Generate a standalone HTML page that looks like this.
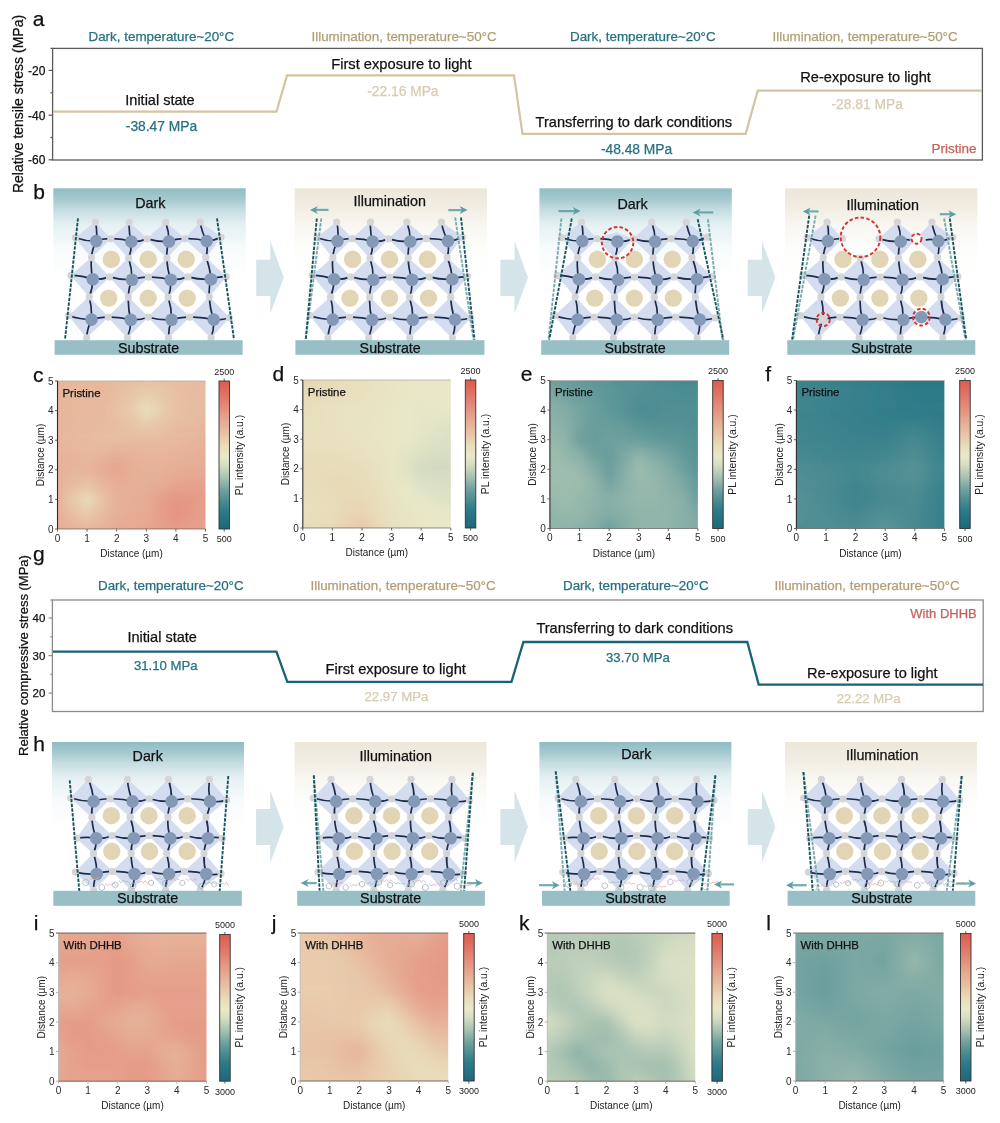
<!DOCTYPE html>
<html><head><meta charset="utf-8"><title>Figure</title>
<style>
html,body{margin:0;padding:0;background:#fff;}
body{width:1000px;height:1123px;overflow:hidden;}
svg{display:block;filter:blur(0.4px);font-family:"Liberation Sans",sans-serif;}
text.b{stroke:currentColor;stroke-width:0.25px;}
</style></head><body>
<svg width="1000" height="1123" viewBox="0 0 1000 1123">
<defs><linearGradient id="cbg" x1="0" y1="0" x2="0" y2="1"><stop offset="0" stop-color="#dc5c4e"/><stop offset="0.11" stop-color="#e17869"/><stop offset="0.21" stop-color="#e49682"/><stop offset="0.29" stop-color="#e6af96"/><stop offset="0.36" stop-color="#e8c3a5"/><stop offset="0.44" stop-color="#e8dcb9"/><stop offset="0.51" stop-color="#e8e8c8"/><stop offset="0.57" stop-color="#d7dec3"/><stop offset="0.665" stop-color="#a0beaf"/><stop offset="0.74" stop-color="#6ea09e"/><stop offset="0.81" stop-color="#4b8c91"/><stop offset="0.88" stop-color="#2d7a88"/><stop offset="0.92" stop-color="#267484"/><stop offset="1" stop-color="#1e677c"/></linearGradient><linearGradient id="gd" x1="0" y1="0" x2="0" y2="1"><stop offset="0" stop-color="#8fbcc3"/><stop offset="0.08" stop-color="#a9cbd1"/><stop offset="0.14" stop-color="#c4dde1"/><stop offset="0.24" stop-color="#e5f0f2"/><stop offset="0.4" stop-color="#f8fbfc"/><stop offset="0.6" stop-color="#ffffff"/></linearGradient><linearGradient id="gi" x1="0" y1="0" x2="0" y2="1"><stop offset="0" stop-color="#ece7d9"/><stop offset="0.12" stop-color="#f1ede3"/><stop offset="0.25" stop-color="#f9f7f2"/><stop offset="0.4" stop-color="#fdfdfb"/><stop offset="0.6" stop-color="#ffffff"/></linearGradient><filter id="hblur" x="-10%" y="-10%" width="120%" height="120%"><feGaussianBlur stdDeviation="2.2"/></filter><clipPath id="chmc"><rect x="57.5" y="381" width="148" height="148"/></clipPath><linearGradient id="hmc_0" gradientUnits="userSpaceOnUse" x1="57.5" x2="205.5"><stop offset="0" stop-color="#e7b59a"/><stop offset="0.1" stop-color="#e7b89c"/><stop offset="0.2" stop-color="#e7b89c"/><stop offset="0.3" stop-color="#e7b89c"/><stop offset="0.4" stop-color="#e7ba9f"/><stop offset="0.5" stop-color="#e7bda1"/><stop offset="0.6" stop-color="#e8c0a3"/><stop offset="0.7" stop-color="#e8c0a3"/><stop offset="0.8" stop-color="#e7bda1"/><stop offset="0.9" stop-color="#e7ba9f"/><stop offset="1" stop-color="#e7ba9f"/></linearGradient><linearGradient id="hmc_1" gradientUnits="userSpaceOnUse" x1="57.5" x2="205.5"><stop offset="0" stop-color="#e7b59a"/><stop offset="0.1" stop-color="#e7b89c"/><stop offset="0.2" stop-color="#e7b89c"/><stop offset="0.3" stop-color="#e7b89c"/><stop offset="0.4" stop-color="#e7ba9f"/><stop offset="0.5" stop-color="#e7bda1"/><stop offset="0.6" stop-color="#e8c0a3"/><stop offset="0.7" stop-color="#e8c0a3"/><stop offset="0.8" stop-color="#e7bda1"/><stop offset="0.9" stop-color="#e7ba9f"/><stop offset="1" stop-color="#e7ba9f"/></linearGradient><linearGradient id="hmc_2" gradientUnits="userSpaceOnUse" x1="57.5" x2="205.5"><stop offset="0" stop-color="#e7b59a"/><stop offset="0.1" stop-color="#e7b89c"/><stop offset="0.2" stop-color="#e7b89c"/><stop offset="0.3" stop-color="#e7b89c"/><stop offset="0.4" stop-color="#e7bb9f"/><stop offset="0.5" stop-color="#e8bfa2"/><stop offset="0.6" stop-color="#e8c3a5"/><stop offset="0.7" stop-color="#e8c2a4"/><stop offset="0.8" stop-color="#e7bea1"/><stop offset="0.9" stop-color="#e7bb9f"/><stop offset="1" stop-color="#e7ba9f"/></linearGradient><linearGradient id="hmc_3" gradientUnits="userSpaceOnUse" x1="57.5" x2="205.5"><stop offset="0" stop-color="#e7b59a"/><stop offset="0.1" stop-color="#e7b89c"/><stop offset="0.2" stop-color="#e7b89c"/><stop offset="0.3" stop-color="#e7b89c"/><stop offset="0.4" stop-color="#e7bca0"/><stop offset="0.5" stop-color="#e8c2a4"/><stop offset="0.6" stop-color="#e8c8a9"/><stop offset="0.7" stop-color="#e8c5a6"/><stop offset="0.8" stop-color="#e8bfa2"/><stop offset="0.9" stop-color="#e7bca0"/><stop offset="1" stop-color="#e7ba9f"/></linearGradient><linearGradient id="hmc_4" gradientUnits="userSpaceOnUse" x1="57.5" x2="205.5"><stop offset="0" stop-color="#e7b59a"/><stop offset="0.1" stop-color="#e7b89c"/><stop offset="0.2" stop-color="#e7b89c"/><stop offset="0.3" stop-color="#e7b89c"/><stop offset="0.4" stop-color="#e7bda0"/><stop offset="0.5" stop-color="#e8c5a6"/><stop offset="0.6" stop-color="#e8cdad"/><stop offset="0.7" stop-color="#e8c8a9"/><stop offset="0.8" stop-color="#e8c0a2"/><stop offset="0.9" stop-color="#e7bda0"/><stop offset="1" stop-color="#e7ba9f"/></linearGradient><linearGradient id="hmc_5" gradientUnits="userSpaceOnUse" x1="57.5" x2="205.5"><stop offset="0" stop-color="#e7b59a"/><stop offset="0.1" stop-color="#e7b89c"/><stop offset="0.2" stop-color="#e7b89c"/><stop offset="0.3" stop-color="#e7b89d"/><stop offset="0.4" stop-color="#e7bea1"/><stop offset="0.5" stop-color="#e8c7a8"/><stop offset="0.6" stop-color="#e8d2b1"/><stop offset="0.7" stop-color="#e8caab"/><stop offset="0.8" stop-color="#e8c0a3"/><stop offset="0.9" stop-color="#e7bda1"/><stop offset="1" stop-color="#e7ba9f"/></linearGradient><linearGradient id="hmc_6" gradientUnits="userSpaceOnUse" x1="57.5" x2="205.5"><stop offset="0" stop-color="#e7b59a"/><stop offset="0.1" stop-color="#e7b89c"/><stop offset="0.2" stop-color="#e7b89c"/><stop offset="0.3" stop-color="#e7b99e"/><stop offset="0.4" stop-color="#e8bfa2"/><stop offset="0.5" stop-color="#e8c9aa"/><stop offset="0.6" stop-color="#e8d7b5"/><stop offset="0.7" stop-color="#e8ccac"/><stop offset="0.8" stop-color="#e8c0a3"/><stop offset="0.9" stop-color="#e7bda1"/><stop offset="1" stop-color="#e7ba9f"/></linearGradient><linearGradient id="hmc_7" gradientUnits="userSpaceOnUse" x1="57.5" x2="205.5"><stop offset="0" stop-color="#e7b59a"/><stop offset="0.1" stop-color="#e7b89c"/><stop offset="0.2" stop-color="#e7b89c"/><stop offset="0.3" stop-color="#e7ba9e"/><stop offset="0.4" stop-color="#e8c0a2"/><stop offset="0.5" stop-color="#e8cbac"/><stop offset="0.6" stop-color="#e8dcb9"/><stop offset="0.7" stop-color="#e8ceae"/><stop offset="0.8" stop-color="#e8c0a3"/><stop offset="0.9" stop-color="#e7bda1"/><stop offset="1" stop-color="#e7ba9f"/></linearGradient><linearGradient id="hmc_8" gradientUnits="userSpaceOnUse" x1="57.5" x2="205.5"><stop offset="0" stop-color="#e7b59a"/><stop offset="0.1" stop-color="#e7b89c"/><stop offset="0.2" stop-color="#e7b89d"/><stop offset="0.3" stop-color="#e7ba9f"/><stop offset="0.4" stop-color="#e8c0a2"/><stop offset="0.5" stop-color="#e8cbab"/><stop offset="0.6" stop-color="#e8dbb9"/><stop offset="0.7" stop-color="#e8cdad"/><stop offset="0.8" stop-color="#e8c0a2"/><stop offset="0.9" stop-color="#e7bda0"/><stop offset="1" stop-color="#e7ba9e"/></linearGradient><linearGradient id="hmc_9" gradientUnits="userSpaceOnUse" x1="57.5" x2="205.5"><stop offset="0" stop-color="#e7b59a"/><stop offset="0.1" stop-color="#e7b89c"/><stop offset="0.2" stop-color="#e7b99e"/><stop offset="0.3" stop-color="#e7ba9f"/><stop offset="0.4" stop-color="#e8bfa2"/><stop offset="0.5" stop-color="#e8c8a9"/><stop offset="0.6" stop-color="#e8d4b3"/><stop offset="0.7" stop-color="#e8c9aa"/><stop offset="0.8" stop-color="#e8bfa2"/><stop offset="0.9" stop-color="#e7bca0"/><stop offset="1" stop-color="#e7b99e"/></linearGradient><linearGradient id="hmc_10" gradientUnits="userSpaceOnUse" x1="57.5" x2="205.5"><stop offset="0" stop-color="#e7b59a"/><stop offset="0.1" stop-color="#e7b89c"/><stop offset="0.2" stop-color="#e7ba9e"/><stop offset="0.3" stop-color="#e7ba9f"/><stop offset="0.4" stop-color="#e7bea1"/><stop offset="0.5" stop-color="#e8c5a6"/><stop offset="0.6" stop-color="#e8cdad"/><stop offset="0.7" stop-color="#e8c5a7"/><stop offset="0.8" stop-color="#e7bea1"/><stop offset="0.9" stop-color="#e7bb9f"/><stop offset="1" stop-color="#e7b89d"/></linearGradient><linearGradient id="hmc_11" gradientUnits="userSpaceOnUse" x1="57.5" x2="205.5"><stop offset="0" stop-color="#e7b59a"/><stop offset="0.1" stop-color="#e7b89c"/><stop offset="0.2" stop-color="#e7ba9f"/><stop offset="0.3" stop-color="#e7bb9f"/><stop offset="0.4" stop-color="#e7bda1"/><stop offset="0.5" stop-color="#e8c2a4"/><stop offset="0.6" stop-color="#e8c7a8"/><stop offset="0.7" stop-color="#e8c2a4"/><stop offset="0.8" stop-color="#e7bca0"/><stop offset="0.9" stop-color="#e7b99e"/><stop offset="1" stop-color="#e7b79c"/></linearGradient><linearGradient id="hmc_12" gradientUnits="userSpaceOnUse" x1="57.5" x2="205.5"><stop offset="0" stop-color="#e7b59a"/><stop offset="0.1" stop-color="#e7b89c"/><stop offset="0.2" stop-color="#e7ba9f"/><stop offset="0.3" stop-color="#e7bca0"/><stop offset="0.4" stop-color="#e7bda1"/><stop offset="0.5" stop-color="#e8bfa2"/><stop offset="0.6" stop-color="#e8c2a4"/><stop offset="0.7" stop-color="#e8bfa2"/><stop offset="0.8" stop-color="#e7ba9f"/><stop offset="0.9" stop-color="#e7b89c"/><stop offset="1" stop-color="#e7b59a"/></linearGradient><linearGradient id="hmc_13" gradientUnits="userSpaceOnUse" x1="57.5" x2="205.5"><stop offset="0" stop-color="#e7b59a"/><stop offset="0.1" stop-color="#e7b89c"/><stop offset="0.2" stop-color="#e7ba9f"/><stop offset="0.3" stop-color="#e7bda0"/><stop offset="0.4" stop-color="#e7bda1"/><stop offset="0.5" stop-color="#e7bca0"/><stop offset="0.6" stop-color="#e7bda0"/><stop offset="0.7" stop-color="#e7bca0"/><stop offset="0.8" stop-color="#e7b99d"/><stop offset="0.9" stop-color="#e7b69b"/><stop offset="1" stop-color="#e6b399"/></linearGradient><linearGradient id="hmc_14" gradientUnits="userSpaceOnUse" x1="57.5" x2="205.5"><stop offset="0" stop-color="#e7b59a"/><stop offset="0.1" stop-color="#e7b79c"/><stop offset="0.2" stop-color="#e7ba9e"/><stop offset="0.3" stop-color="#e7bca0"/><stop offset="0.4" stop-color="#e7bb9f"/><stop offset="0.5" stop-color="#e7b99e"/><stop offset="0.6" stop-color="#e7b99e"/><stop offset="0.7" stop-color="#e7b99e"/><stop offset="0.8" stop-color="#e7b79c"/><stop offset="0.9" stop-color="#e7b49a"/><stop offset="1" stop-color="#e6b198"/></linearGradient><linearGradient id="hmc_15" gradientUnits="userSpaceOnUse" x1="57.5" x2="205.5"><stop offset="0" stop-color="#e7b59a"/><stop offset="0.1" stop-color="#e7b69b"/><stop offset="0.2" stop-color="#e7b99e"/><stop offset="0.3" stop-color="#e7b99e"/><stop offset="0.4" stop-color="#e7b69b"/><stop offset="0.5" stop-color="#e7b69b"/><stop offset="0.6" stop-color="#e7b89c"/><stop offset="0.7" stop-color="#e7b89c"/><stop offset="0.8" stop-color="#e7b59a"/><stop offset="0.9" stop-color="#e6b399"/><stop offset="1" stop-color="#e6b097"/></linearGradient><linearGradient id="hmc_16" gradientUnits="userSpaceOnUse" x1="57.5" x2="205.5"><stop offset="0" stop-color="#e7b59a"/><stop offset="0.1" stop-color="#e7b59b"/><stop offset="0.2" stop-color="#e7b89d"/><stop offset="0.3" stop-color="#e7b69b"/><stop offset="0.4" stop-color="#e6b198"/><stop offset="0.5" stop-color="#e6b399"/><stop offset="0.6" stop-color="#e7b69b"/><stop offset="0.7" stop-color="#e7b69b"/><stop offset="0.8" stop-color="#e6b399"/><stop offset="0.9" stop-color="#e6b298"/><stop offset="1" stop-color="#e6af96"/></linearGradient><linearGradient id="hmc_17" gradientUnits="userSpaceOnUse" x1="57.5" x2="205.5"><stop offset="0" stop-color="#e7b49a"/><stop offset="0.1" stop-color="#e7b59a"/><stop offset="0.2" stop-color="#e7b79c"/><stop offset="0.3" stop-color="#e6b399"/><stop offset="0.4" stop-color="#e6ad95"/><stop offset="0.5" stop-color="#e6b198"/><stop offset="0.6" stop-color="#e7b49a"/><stop offset="0.7" stop-color="#e7b49a"/><stop offset="0.8" stop-color="#e6b198"/><stop offset="0.9" stop-color="#e6b197"/><stop offset="1" stop-color="#e6ae96"/></linearGradient><linearGradient id="hmc_18" gradientUnits="userSpaceOnUse" x1="57.5" x2="205.5"><stop offset="0" stop-color="#e6b399"/><stop offset="0.1" stop-color="#e7b59a"/><stop offset="0.2" stop-color="#e7b69b"/><stop offset="0.3" stop-color="#e6b097"/><stop offset="0.4" stop-color="#e6aa92"/><stop offset="0.5" stop-color="#e6b097"/><stop offset="0.6" stop-color="#e6b399"/><stop offset="0.7" stop-color="#e6b399"/><stop offset="0.8" stop-color="#e6b097"/><stop offset="0.9" stop-color="#e6af96"/><stop offset="1" stop-color="#e6ad95"/></linearGradient><linearGradient id="hmc_19" gradientUnits="userSpaceOnUse" x1="57.5" x2="205.5"><stop offset="0" stop-color="#e6b298"/><stop offset="0.1" stop-color="#e7b59a"/><stop offset="0.2" stop-color="#e7b59b"/><stop offset="0.3" stop-color="#e6ad95"/><stop offset="0.4" stop-color="#e5a790"/><stop offset="0.5" stop-color="#e6af96"/><stop offset="0.6" stop-color="#e6b298"/><stop offset="0.7" stop-color="#e6b298"/><stop offset="0.8" stop-color="#e6af96"/><stop offset="0.9" stop-color="#e6ad94"/><stop offset="1" stop-color="#e6ac94"/></linearGradient><linearGradient id="hmc_20" gradientUnits="userSpaceOnUse" x1="57.5" x2="205.5"><stop offset="0" stop-color="#e6b298"/><stop offset="0.1" stop-color="#e7b69b"/><stop offset="0.2" stop-color="#e7b79c"/><stop offset="0.3" stop-color="#e6ae95"/><stop offset="0.4" stop-color="#e5a790"/><stop offset="0.5" stop-color="#e6af96"/><stop offset="0.6" stop-color="#e6b198"/><stop offset="0.7" stop-color="#e6b197"/><stop offset="0.8" stop-color="#e6ad95"/><stop offset="0.9" stop-color="#e6aa92"/><stop offset="1" stop-color="#e6aa92"/></linearGradient><linearGradient id="hmc_21" gradientUnits="userSpaceOnUse" x1="57.5" x2="205.5"><stop offset="0" stop-color="#e6b298"/><stop offset="0.1" stop-color="#e7b89c"/><stop offset="0.2" stop-color="#e7bca0"/><stop offset="0.3" stop-color="#e6b298"/><stop offset="0.4" stop-color="#e6aa92"/><stop offset="0.5" stop-color="#e6af96"/><stop offset="0.6" stop-color="#e6b097"/><stop offset="0.7" stop-color="#e6af96"/><stop offset="0.8" stop-color="#e6aa92"/><stop offset="0.9" stop-color="#e5a790"/><stop offset="1" stop-color="#e5a790"/></linearGradient><linearGradient id="hmc_22" gradientUnits="userSpaceOnUse" x1="57.5" x2="205.5"><stop offset="0" stop-color="#e6b298"/><stop offset="0.1" stop-color="#e7b99e"/><stop offset="0.2" stop-color="#e8c1a3"/><stop offset="0.3" stop-color="#e7b69b"/><stop offset="0.4" stop-color="#e6ad95"/><stop offset="0.5" stop-color="#e6af96"/><stop offset="0.6" stop-color="#e6af96"/><stop offset="0.7" stop-color="#e6ad94"/><stop offset="0.8" stop-color="#e5a790"/><stop offset="0.9" stop-color="#e5a48d"/><stop offset="1" stop-color="#e5a48d"/></linearGradient><linearGradient id="hmc_23" gradientUnits="userSpaceOnUse" x1="57.5" x2="205.5"><stop offset="0" stop-color="#e6b298"/><stop offset="0.1" stop-color="#e7bda0"/><stop offset="0.2" stop-color="#e8c7a8"/><stop offset="0.3" stop-color="#e7b99e"/><stop offset="0.4" stop-color="#e6af96"/><stop offset="0.5" stop-color="#e6af96"/><stop offset="0.6" stop-color="#e6ae96"/><stop offset="0.7" stop-color="#e6aa92"/><stop offset="0.8" stop-color="#e5a38c"/><stop offset="0.9" stop-color="#e5a18b"/><stop offset="1" stop-color="#e5a28c"/></linearGradient><linearGradient id="hmc_24" gradientUnits="userSpaceOnUse" x1="57.5" x2="205.5"><stop offset="0" stop-color="#e6b298"/><stop offset="0.1" stop-color="#e8c2a4"/><stop offset="0.2" stop-color="#e8cfaf"/><stop offset="0.3" stop-color="#e7bda1"/><stop offset="0.4" stop-color="#e6b097"/><stop offset="0.5" stop-color="#e6af96"/><stop offset="0.6" stop-color="#e6ad95"/><stop offset="0.7" stop-color="#e5a68e"/><stop offset="0.8" stop-color="#e59e88"/><stop offset="0.9" stop-color="#e59e88"/><stop offset="1" stop-color="#e5a18b"/></linearGradient><linearGradient id="hmc_25" gradientUnits="userSpaceOnUse" x1="57.5" x2="205.5"><stop offset="0" stop-color="#e6b298"/><stop offset="0.1" stop-color="#e8c7a8"/><stop offset="0.2" stop-color="#e8d8b6"/><stop offset="0.3" stop-color="#e8c1a4"/><stop offset="0.4" stop-color="#e6b198"/><stop offset="0.5" stop-color="#e6af96"/><stop offset="0.6" stop-color="#e6ac94"/><stop offset="0.7" stop-color="#e5a18b"/><stop offset="0.8" stop-color="#e49984"/><stop offset="0.9" stop-color="#e49b86"/><stop offset="1" stop-color="#e5a08a"/></linearGradient><linearGradient id="hmc_26" gradientUnits="userSpaceOnUse" x1="57.5" x2="205.5"><stop offset="0" stop-color="#e6b198"/><stop offset="0.1" stop-color="#e8c7a8"/><stop offset="0.2" stop-color="#e8d9b6"/><stop offset="0.3" stop-color="#e8c2a4"/><stop offset="0.4" stop-color="#e6b198"/><stop offset="0.5" stop-color="#e6ae96"/><stop offset="0.6" stop-color="#e6ab93"/><stop offset="0.7" stop-color="#e59f89"/><stop offset="0.8" stop-color="#e49682"/><stop offset="0.9" stop-color="#e49984"/><stop offset="1" stop-color="#e59f8a"/></linearGradient><linearGradient id="hmc_27" gradientUnits="userSpaceOnUse" x1="57.5" x2="205.5"><stop offset="0" stop-color="#e6b097"/><stop offset="0.1" stop-color="#e8c3a5"/><stop offset="0.2" stop-color="#e8d3b2"/><stop offset="0.3" stop-color="#e8bfa2"/><stop offset="0.4" stop-color="#e6b097"/><stop offset="0.5" stop-color="#e6ad95"/><stop offset="0.6" stop-color="#e6aa92"/><stop offset="0.7" stop-color="#e59e88"/><stop offset="0.8" stop-color="#e49481"/><stop offset="0.9" stop-color="#e49984"/><stop offset="1" stop-color="#e59f8a"/></linearGradient><linearGradient id="hmc_28" gradientUnits="userSpaceOnUse" x1="57.5" x2="205.5"><stop offset="0" stop-color="#e6af96"/><stop offset="0.1" stop-color="#e8bfa2"/><stop offset="0.2" stop-color="#e8ccac"/><stop offset="0.3" stop-color="#e7bca0"/><stop offset="0.4" stop-color="#e6af96"/><stop offset="0.5" stop-color="#e6ac94"/><stop offset="0.6" stop-color="#e6a991"/><stop offset="0.7" stop-color="#e59d87"/><stop offset="0.8" stop-color="#e49480"/><stop offset="0.9" stop-color="#e49984"/><stop offset="1" stop-color="#e59f8a"/></linearGradient><linearGradient id="hmc_29" gradientUnits="userSpaceOnUse" x1="57.5" x2="205.5"><stop offset="0" stop-color="#e6ae96"/><stop offset="0.1" stop-color="#e7bb9f"/><stop offset="0.2" stop-color="#e8c6a8"/><stop offset="0.3" stop-color="#e7b99e"/><stop offset="0.4" stop-color="#e6ae96"/><stop offset="0.5" stop-color="#e6ab93"/><stop offset="0.6" stop-color="#e5a891"/><stop offset="0.7" stop-color="#e59d87"/><stop offset="0.8" stop-color="#e49481"/><stop offset="0.9" stop-color="#e49a85"/><stop offset="1" stop-color="#e5a08a"/></linearGradient><linearGradient id="hmc_30" gradientUnits="userSpaceOnUse" x1="57.5" x2="205.5"><stop offset="0" stop-color="#e6ad95"/><stop offset="0.1" stop-color="#e7b89c"/><stop offset="0.2" stop-color="#e8c0a3"/><stop offset="0.3" stop-color="#e7b69b"/><stop offset="0.4" stop-color="#e6ad95"/><stop offset="0.5" stop-color="#e6aa92"/><stop offset="0.6" stop-color="#e5a790"/><stop offset="0.7" stop-color="#e59e88"/><stop offset="0.8" stop-color="#e49883"/><stop offset="0.9" stop-color="#e49c87"/><stop offset="1" stop-color="#e5a18b"/></linearGradient><linearGradient id="hmc_31" gradientUnits="userSpaceOnUse" x1="57.5" x2="205.5"><stop offset="0" stop-color="#e6ac94"/><stop offset="0.1" stop-color="#e6b49a"/><stop offset="0.2" stop-color="#e7ba9f"/><stop offset="0.3" stop-color="#e6b399"/><stop offset="0.4" stop-color="#e6ac94"/><stop offset="0.5" stop-color="#e6a991"/><stop offset="0.6" stop-color="#e5a68f"/><stop offset="0.7" stop-color="#e59f89"/><stop offset="0.8" stop-color="#e49b86"/><stop offset="0.9" stop-color="#e59e89"/><stop offset="1" stop-color="#e5a28c"/></linearGradient><linearGradient id="hmc_32" gradientUnits="userSpaceOnUse" x1="57.5" x2="205.5"><stop offset="0" stop-color="#e6ac94"/><stop offset="0.1" stop-color="#e6b298"/><stop offset="0.2" stop-color="#e7b89c"/><stop offset="0.3" stop-color="#e6b298"/><stop offset="0.4" stop-color="#e6ac94"/><stop offset="0.5" stop-color="#e6a991"/><stop offset="0.6" stop-color="#e5a68e"/><stop offset="0.7" stop-color="#e59f8a"/><stop offset="0.8" stop-color="#e49c87"/><stop offset="0.9" stop-color="#e59f8a"/><stop offset="1" stop-color="#e5a28c"/></linearGradient><linearGradient id="hmc_33" gradientUnits="userSpaceOnUse" x1="57.5" x2="205.5"><stop offset="0" stop-color="#e6ac94"/><stop offset="0.1" stop-color="#e6b298"/><stop offset="0.2" stop-color="#e7b89c"/><stop offset="0.3" stop-color="#e6b298"/><stop offset="0.4" stop-color="#e6ac94"/><stop offset="0.5" stop-color="#e6a991"/><stop offset="0.6" stop-color="#e5a68e"/><stop offset="0.7" stop-color="#e59f8a"/><stop offset="0.8" stop-color="#e49c87"/><stop offset="0.9" stop-color="#e59f8a"/><stop offset="1" stop-color="#e5a28c"/></linearGradient><clipPath id="chmd"><rect x="302.8" y="380" width="148" height="148"/></clipPath><linearGradient id="hmd_0" gradientUnits="userSpaceOnUse" x1="302.8" x2="450.8"><stop offset="0" stop-color="#e8d6b4"/><stop offset="0.1" stop-color="#e8d9b7"/><stop offset="0.2" stop-color="#e8dcb9"/><stop offset="0.3" stop-color="#e8debb"/><stop offset="0.4" stop-color="#e8dfbd"/><stop offset="0.5" stop-color="#e8e3c2"/><stop offset="0.6" stop-color="#e8e5c4"/><stop offset="0.7" stop-color="#e8e6c6"/><stop offset="0.8" stop-color="#e8e6c6"/><stop offset="0.9" stop-color="#e8e6c6"/><stop offset="1" stop-color="#e8e6c6"/></linearGradient><linearGradient id="hmd_1" gradientUnits="userSpaceOnUse" x1="302.8" x2="450.8"><stop offset="0" stop-color="#e8d6b4"/><stop offset="0.1" stop-color="#e8d9b7"/><stop offset="0.2" stop-color="#e8dcb9"/><stop offset="0.3" stop-color="#e8debb"/><stop offset="0.4" stop-color="#e8dfbd"/><stop offset="0.5" stop-color="#e8e3c2"/><stop offset="0.6" stop-color="#e8e5c4"/><stop offset="0.7" stop-color="#e8e6c6"/><stop offset="0.8" stop-color="#e8e6c6"/><stop offset="0.9" stop-color="#e8e6c6"/><stop offset="1" stop-color="#e8e6c6"/></linearGradient><linearGradient id="hmd_2" gradientUnits="userSpaceOnUse" x1="302.8" x2="450.8"><stop offset="0" stop-color="#e8d6b4"/><stop offset="0.1" stop-color="#e8d9b7"/><stop offset="0.2" stop-color="#e8dcb9"/><stop offset="0.3" stop-color="#e8debc"/><stop offset="0.4" stop-color="#e8e0be"/><stop offset="0.5" stop-color="#e8e3c2"/><stop offset="0.6" stop-color="#e8e5c4"/><stop offset="0.7" stop-color="#e8e6c6"/><stop offset="0.8" stop-color="#e8e7c6"/><stop offset="0.9" stop-color="#e8e7c6"/><stop offset="1" stop-color="#e8e7c6"/></linearGradient><linearGradient id="hmd_3" gradientUnits="userSpaceOnUse" x1="302.8" x2="450.8"><stop offset="0" stop-color="#e8d7b5"/><stop offset="0.1" stop-color="#e8dab8"/><stop offset="0.2" stop-color="#e8ddba"/><stop offset="0.3" stop-color="#e8dfbc"/><stop offset="0.4" stop-color="#e8e0be"/><stop offset="0.5" stop-color="#e8e3c2"/><stop offset="0.6" stop-color="#e8e5c4"/><stop offset="0.7" stop-color="#e8e6c6"/><stop offset="0.8" stop-color="#e8e7c7"/><stop offset="0.9" stop-color="#e8e7c7"/><stop offset="1" stop-color="#e8e7c7"/></linearGradient><linearGradient id="hmd_4" gradientUnits="userSpaceOnUse" x1="302.8" x2="450.8"><stop offset="0" stop-color="#e8d8b6"/><stop offset="0.1" stop-color="#e8dbb9"/><stop offset="0.2" stop-color="#e8ddbb"/><stop offset="0.3" stop-color="#e8dfbd"/><stop offset="0.4" stop-color="#e8e1bf"/><stop offset="0.5" stop-color="#e8e3c2"/><stop offset="0.6" stop-color="#e8e5c4"/><stop offset="0.7" stop-color="#e8e6c6"/><stop offset="0.8" stop-color="#e8e8c8"/><stop offset="0.9" stop-color="#e8e8c8"/><stop offset="1" stop-color="#e8e8c8"/></linearGradient><linearGradient id="hmd_5" gradientUnits="userSpaceOnUse" x1="302.8" x2="450.8"><stop offset="0" stop-color="#e8dab7"/><stop offset="0.1" stop-color="#e8ddba"/><stop offset="0.2" stop-color="#e8debc"/><stop offset="0.3" stop-color="#e8e0be"/><stop offset="0.4" stop-color="#e8e1c0"/><stop offset="0.5" stop-color="#e8e3c2"/><stop offset="0.6" stop-color="#e8e5c4"/><stop offset="0.7" stop-color="#e8e7c6"/><stop offset="0.8" stop-color="#e8e8c8"/><stop offset="0.9" stop-color="#e8e8c8"/><stop offset="1" stop-color="#e8e8c8"/></linearGradient><linearGradient id="hmd_6" gradientUnits="userSpaceOnUse" x1="302.8" x2="450.8"><stop offset="0" stop-color="#e8dcb9"/><stop offset="0.1" stop-color="#e8debb"/><stop offset="0.2" stop-color="#e8dfbd"/><stop offset="0.3" stop-color="#e8e1bf"/><stop offset="0.4" stop-color="#e8e2c0"/><stop offset="0.5" stop-color="#e8e4c3"/><stop offset="0.6" stop-color="#e8e5c5"/><stop offset="0.7" stop-color="#e8e7c7"/><stop offset="0.8" stop-color="#e7e7c8"/><stop offset="0.9" stop-color="#e8e8c8"/><stop offset="1" stop-color="#e8e8c8"/></linearGradient><linearGradient id="hmd_7" gradientUnits="userSpaceOnUse" x1="302.8" x2="450.8"><stop offset="0" stop-color="#e8ddba"/><stop offset="0.1" stop-color="#e8dfbd"/><stop offset="0.2" stop-color="#e8e1bf"/><stop offset="0.3" stop-color="#e8e2c1"/><stop offset="0.4" stop-color="#e8e3c1"/><stop offset="0.5" stop-color="#e8e4c3"/><stop offset="0.6" stop-color="#e8e6c6"/><stop offset="0.7" stop-color="#e8e8c8"/><stop offset="0.8" stop-color="#e6e7c7"/><stop offset="0.9" stop-color="#e8e8c8"/><stop offset="1" stop-color="#e8e8c8"/></linearGradient><linearGradient id="hmd_8" gradientUnits="userSpaceOnUse" x1="302.8" x2="450.8"><stop offset="0" stop-color="#e8debc"/><stop offset="0.1" stop-color="#e8dfbd"/><stop offset="0.2" stop-color="#e8e1bf"/><stop offset="0.3" stop-color="#e8e3c2"/><stop offset="0.4" stop-color="#e8e3c2"/><stop offset="0.5" stop-color="#e8e5c4"/><stop offset="0.6" stop-color="#e8e6c6"/><stop offset="0.7" stop-color="#e8e8c8"/><stop offset="0.8" stop-color="#e5e6c7"/><stop offset="0.9" stop-color="#e7e7c8"/><stop offset="1" stop-color="#e7e7c8"/></linearGradient><linearGradient id="hmd_9" gradientUnits="userSpaceOnUse" x1="302.8" x2="450.8"><stop offset="0" stop-color="#e8dfbc"/><stop offset="0.1" stop-color="#e8dfbd"/><stop offset="0.2" stop-color="#e8e1bf"/><stop offset="0.3" stop-color="#e8e3c2"/><stop offset="0.4" stop-color="#e8e3c2"/><stop offset="0.5" stop-color="#e8e5c4"/><stop offset="0.6" stop-color="#e8e6c6"/><stop offset="0.7" stop-color="#e8e8c8"/><stop offset="0.8" stop-color="#e5e6c7"/><stop offset="0.9" stop-color="#e5e6c7"/><stop offset="1" stop-color="#e4e6c7"/></linearGradient><linearGradient id="hmd_10" gradientUnits="userSpaceOnUse" x1="302.8" x2="450.8"><stop offset="0" stop-color="#e8dfbd"/><stop offset="0.1" stop-color="#e8dfbd"/><stop offset="0.2" stop-color="#e8e1bf"/><stop offset="0.3" stop-color="#e8e3c2"/><stop offset="0.4" stop-color="#e8e3c2"/><stop offset="0.5" stop-color="#e8e5c4"/><stop offset="0.6" stop-color="#e8e6c6"/><stop offset="0.7" stop-color="#e8e8c8"/><stop offset="0.8" stop-color="#e5e6c7"/><stop offset="0.9" stop-color="#e3e5c7"/><stop offset="1" stop-color="#e1e4c6"/></linearGradient><linearGradient id="hmd_11" gradientUnits="userSpaceOnUse" x1="302.8" x2="450.8"><stop offset="0" stop-color="#e8dfbd"/><stop offset="0.1" stop-color="#e8dfbd"/><stop offset="0.2" stop-color="#e8e1bf"/><stop offset="0.3" stop-color="#e8e3c1"/><stop offset="0.4" stop-color="#e8e3c2"/><stop offset="0.5" stop-color="#e8e5c4"/><stop offset="0.6" stop-color="#e8e6c6"/><stop offset="0.7" stop-color="#e8e8c8"/><stop offset="0.8" stop-color="#e5e6c7"/><stop offset="0.9" stop-color="#e1e4c6"/><stop offset="1" stop-color="#dfe2c5"/></linearGradient><linearGradient id="hmd_12" gradientUnits="userSpaceOnUse" x1="302.8" x2="450.8"><stop offset="0" stop-color="#e8dfbd"/><stop offset="0.1" stop-color="#e8dfbd"/><stop offset="0.2" stop-color="#e8e0be"/><stop offset="0.3" stop-color="#e8e2c0"/><stop offset="0.4" stop-color="#e8e3c2"/><stop offset="0.5" stop-color="#e8e5c4"/><stop offset="0.6" stop-color="#e8e6c6"/><stop offset="0.7" stop-color="#e8e8c8"/><stop offset="0.8" stop-color="#e4e6c7"/><stop offset="0.9" stop-color="#e0e3c6"/><stop offset="1" stop-color="#dde1c5"/></linearGradient><linearGradient id="hmd_13" gradientUnits="userSpaceOnUse" x1="302.8" x2="450.8"><stop offset="0" stop-color="#e8dfbd"/><stop offset="0.1" stop-color="#e8dfbd"/><stop offset="0.2" stop-color="#e8e0be"/><stop offset="0.3" stop-color="#e8e1c0"/><stop offset="0.4" stop-color="#e8e3c2"/><stop offset="0.5" stop-color="#e8e5c4"/><stop offset="0.6" stop-color="#e8e6c6"/><stop offset="0.7" stop-color="#e8e8c8"/><stop offset="0.8" stop-color="#e3e5c6"/><stop offset="0.9" stop-color="#dee2c5"/><stop offset="1" stop-color="#dbe0c4"/></linearGradient><linearGradient id="hmd_14" gradientUnits="userSpaceOnUse" x1="302.8" x2="450.8"><stop offset="0" stop-color="#e8dfbd"/><stop offset="0.1" stop-color="#e8dfbd"/><stop offset="0.2" stop-color="#e8dfbd"/><stop offset="0.3" stop-color="#e8e1bf"/><stop offset="0.4" stop-color="#e8e3c1"/><stop offset="0.5" stop-color="#e8e4c3"/><stop offset="0.6" stop-color="#e8e6c6"/><stop offset="0.7" stop-color="#e7e7c8"/><stop offset="0.8" stop-color="#e1e4c6"/><stop offset="0.9" stop-color="#dce1c4"/><stop offset="1" stop-color="#d9dfc4"/></linearGradient><linearGradient id="hmd_15" gradientUnits="userSpaceOnUse" x1="302.8" x2="450.8"><stop offset="0" stop-color="#e8dfbc"/><stop offset="0.1" stop-color="#e8dfbc"/><stop offset="0.2" stop-color="#e8dfbc"/><stop offset="0.3" stop-color="#e8e0be"/><stop offset="0.4" stop-color="#e8e2c0"/><stop offset="0.5" stop-color="#e8e4c3"/><stop offset="0.6" stop-color="#e8e6c6"/><stop offset="0.7" stop-color="#e5e6c7"/><stop offset="0.8" stop-color="#e0e3c6"/><stop offset="0.9" stop-color="#dae0c4"/><stop offset="1" stop-color="#d8dfc3"/></linearGradient><linearGradient id="hmd_16" gradientUnits="userSpaceOnUse" x1="302.8" x2="450.8"><stop offset="0" stop-color="#e8debc"/><stop offset="0.1" stop-color="#e8debc"/><stop offset="0.2" stop-color="#e8debc"/><stop offset="0.3" stop-color="#e8e0be"/><stop offset="0.4" stop-color="#e8e1c0"/><stop offset="0.5" stop-color="#e8e3c2"/><stop offset="0.6" stop-color="#e8e6c6"/><stop offset="0.7" stop-color="#e3e5c7"/><stop offset="0.8" stop-color="#dee2c5"/><stop offset="0.9" stop-color="#d8dfc3"/><stop offset="1" stop-color="#d7dec3"/></linearGradient><linearGradient id="hmd_17" gradientUnits="userSpaceOnUse" x1="302.8" x2="450.8"><stop offset="0" stop-color="#e8debb"/><stop offset="0.1" stop-color="#e8ddbb"/><stop offset="0.2" stop-color="#e8ddbb"/><stop offset="0.3" stop-color="#e8dfbd"/><stop offset="0.4" stop-color="#e8e1bf"/><stop offset="0.5" stop-color="#e8e3c1"/><stop offset="0.6" stop-color="#e8e6c6"/><stop offset="0.7" stop-color="#e2e4c6"/><stop offset="0.8" stop-color="#dbe0c4"/><stop offset="0.9" stop-color="#d6ddc3"/><stop offset="1" stop-color="#d6ddc3"/></linearGradient><linearGradient id="hmd_18" gradientUnits="userSpaceOnUse" x1="302.8" x2="450.8"><stop offset="0" stop-color="#e8debb"/><stop offset="0.1" stop-color="#e8ddba"/><stop offset="0.2" stop-color="#e8ddba"/><stop offset="0.3" stop-color="#e8debb"/><stop offset="0.4" stop-color="#e8dfbd"/><stop offset="0.5" stop-color="#e8e2c0"/><stop offset="0.6" stop-color="#e8e6c6"/><stop offset="0.7" stop-color="#e1e4c6"/><stop offset="0.8" stop-color="#d8dfc3"/><stop offset="0.9" stop-color="#d4dcc2"/><stop offset="1" stop-color="#d4dcc2"/></linearGradient><linearGradient id="hmd_19" gradientUnits="userSpaceOnUse" x1="302.8" x2="450.8"><stop offset="0" stop-color="#e8debb"/><stop offset="0.1" stop-color="#e8dcb9"/><stop offset="0.2" stop-color="#e8dcb9"/><stop offset="0.3" stop-color="#e8ddba"/><stop offset="0.4" stop-color="#e8debc"/><stop offset="0.5" stop-color="#e8e1c0"/><stop offset="0.6" stop-color="#e8e6c6"/><stop offset="0.7" stop-color="#e0e3c6"/><stop offset="0.8" stop-color="#d4dcc2"/><stop offset="0.9" stop-color="#d2dbc1"/><stop offset="1" stop-color="#d2dbc1"/></linearGradient><linearGradient id="hmd_20" gradientUnits="userSpaceOnUse" x1="302.8" x2="450.8"><stop offset="0" stop-color="#e8debb"/><stop offset="0.1" stop-color="#e8dcb9"/><stop offset="0.2" stop-color="#e8dbb9"/><stop offset="0.3" stop-color="#e8dbb9"/><stop offset="0.4" stop-color="#e8ddbb"/><stop offset="0.5" stop-color="#e8e1bf"/><stop offset="0.6" stop-color="#e8e6c6"/><stop offset="0.7" stop-color="#e0e4c6"/><stop offset="0.8" stop-color="#d4dcc2"/><stop offset="0.9" stop-color="#d3dcc2"/><stop offset="1" stop-color="#d3dcc2"/></linearGradient><linearGradient id="hmd_21" gradientUnits="userSpaceOnUse" x1="302.8" x2="450.8"><stop offset="0" stop-color="#e8debb"/><stop offset="0.1" stop-color="#e8dcb9"/><stop offset="0.2" stop-color="#e8dab8"/><stop offset="0.3" stop-color="#e8dab8"/><stop offset="0.4" stop-color="#e8ddba"/><stop offset="0.5" stop-color="#e8e0be"/><stop offset="0.6" stop-color="#e8e5c5"/><stop offset="0.7" stop-color="#e2e5c6"/><stop offset="0.8" stop-color="#d8dfc3"/><stop offset="0.9" stop-color="#d7dec3"/><stop offset="1" stop-color="#d7dec3"/></linearGradient><linearGradient id="hmd_22" gradientUnits="userSpaceOnUse" x1="302.8" x2="450.8"><stop offset="0" stop-color="#e8debb"/><stop offset="0.1" stop-color="#e8dcb9"/><stop offset="0.2" stop-color="#e8d9b7"/><stop offset="0.3" stop-color="#e8d9b7"/><stop offset="0.4" stop-color="#e8dcb9"/><stop offset="0.5" stop-color="#e8e0be"/><stop offset="0.6" stop-color="#e8e5c4"/><stop offset="0.7" stop-color="#e4e6c7"/><stop offset="0.8" stop-color="#dbe0c4"/><stop offset="0.9" stop-color="#d9dfc4"/><stop offset="1" stop-color="#d9dfc4"/></linearGradient><linearGradient id="hmd_23" gradientUnits="userSpaceOnUse" x1="302.8" x2="450.8"><stop offset="0" stop-color="#e8debc"/><stop offset="0.1" stop-color="#e8dcb9"/><stop offset="0.2" stop-color="#e8d9b7"/><stop offset="0.3" stop-color="#e8d9b7"/><stop offset="0.4" stop-color="#e8dbb9"/><stop offset="0.5" stop-color="#e8dfbd"/><stop offset="0.6" stop-color="#e8e4c3"/><stop offset="0.7" stop-color="#e6e7c7"/><stop offset="0.8" stop-color="#dee2c5"/><stop offset="0.9" stop-color="#dbe0c4"/><stop offset="1" stop-color="#dae0c4"/></linearGradient><linearGradient id="hmd_24" gradientUnits="userSpaceOnUse" x1="302.8" x2="450.8"><stop offset="0" stop-color="#e8dfbc"/><stop offset="0.1" stop-color="#e8ddba"/><stop offset="0.2" stop-color="#e8dab8"/><stop offset="0.3" stop-color="#e8d9b7"/><stop offset="0.4" stop-color="#e8dab8"/><stop offset="0.5" stop-color="#e8dfbc"/><stop offset="0.6" stop-color="#e8e4c3"/><stop offset="0.7" stop-color="#e8e8c8"/><stop offset="0.8" stop-color="#e1e4c6"/><stop offset="0.9" stop-color="#dde1c5"/><stop offset="1" stop-color="#dbe0c4"/></linearGradient><linearGradient id="hmd_25" gradientUnits="userSpaceOnUse" x1="302.8" x2="450.8"><stop offset="0" stop-color="#e8dfbd"/><stop offset="0.1" stop-color="#e8ddbb"/><stop offset="0.2" stop-color="#e8dbb9"/><stop offset="0.3" stop-color="#e8d9b7"/><stop offset="0.4" stop-color="#e8d9b7"/><stop offset="0.5" stop-color="#e8debc"/><stop offset="0.6" stop-color="#e8e3c2"/><stop offset="0.7" stop-color="#e8e7c7"/><stop offset="0.8" stop-color="#e4e6c7"/><stop offset="0.9" stop-color="#dfe2c5"/><stop offset="1" stop-color="#dce1c5"/></linearGradient><linearGradient id="hmd_26" gradientUnits="userSpaceOnUse" x1="302.8" x2="450.8"><stop offset="0" stop-color="#e8dfbd"/><stop offset="0.1" stop-color="#e8debb"/><stop offset="0.2" stop-color="#e8dcb9"/><stop offset="0.3" stop-color="#e8d8b6"/><stop offset="0.4" stop-color="#e8d8b6"/><stop offset="0.5" stop-color="#e8ddbb"/><stop offset="0.6" stop-color="#e8e3c1"/><stop offset="0.7" stop-color="#e8e6c6"/><stop offset="0.8" stop-color="#e6e7c7"/><stop offset="0.9" stop-color="#e1e4c6"/><stop offset="1" stop-color="#dee2c5"/></linearGradient><linearGradient id="hmd_27" gradientUnits="userSpaceOnUse" x1="302.8" x2="450.8"><stop offset="0" stop-color="#e8dfbd"/><stop offset="0.1" stop-color="#e8debb"/><stop offset="0.2" stop-color="#e8dcb9"/><stop offset="0.3" stop-color="#e8d7b5"/><stop offset="0.4" stop-color="#e8d6b4"/><stop offset="0.5" stop-color="#e8ddba"/><stop offset="0.6" stop-color="#e8e2c0"/><stop offset="0.7" stop-color="#e8e5c5"/><stop offset="0.8" stop-color="#e8e8c8"/><stop offset="0.9" stop-color="#e4e6c7"/><stop offset="1" stop-color="#e1e4c6"/></linearGradient><linearGradient id="hmd_28" gradientUnits="userSpaceOnUse" x1="302.8" x2="450.8"><stop offset="0" stop-color="#e8dfbd"/><stop offset="0.1" stop-color="#e8debb"/><stop offset="0.2" stop-color="#e8dcb9"/><stop offset="0.3" stop-color="#e8d6b4"/><stop offset="0.4" stop-color="#e8d4b2"/><stop offset="0.5" stop-color="#e8dcb9"/><stop offset="0.6" stop-color="#e8e1c0"/><stop offset="0.7" stop-color="#e8e5c4"/><stop offset="0.8" stop-color="#e8e7c7"/><stop offset="0.9" stop-color="#e7e7c8"/><stop offset="1" stop-color="#e4e6c7"/></linearGradient><linearGradient id="hmd_29" gradientUnits="userSpaceOnUse" x1="302.8" x2="450.8"><stop offset="0" stop-color="#e8dfbd"/><stop offset="0.1" stop-color="#e8ddbb"/><stop offset="0.2" stop-color="#e8dbb9"/><stop offset="0.3" stop-color="#e8d5b3"/><stop offset="0.4" stop-color="#e8d1b0"/><stop offset="0.5" stop-color="#e8dbb8"/><stop offset="0.6" stop-color="#e8e1bf"/><stop offset="0.7" stop-color="#e8e4c3"/><stop offset="0.8" stop-color="#e8e6c6"/><stop offset="0.9" stop-color="#e8e8c8"/><stop offset="1" stop-color="#e6e7c7"/></linearGradient><linearGradient id="hmd_30" gradientUnits="userSpaceOnUse" x1="302.8" x2="450.8"><stop offset="0" stop-color="#e8dfbc"/><stop offset="0.1" stop-color="#e8ddba"/><stop offset="0.2" stop-color="#e8dab8"/><stop offset="0.3" stop-color="#e8d3b2"/><stop offset="0.4" stop-color="#e8ceae"/><stop offset="0.5" stop-color="#e8d9b6"/><stop offset="0.6" stop-color="#e8e0be"/><stop offset="0.7" stop-color="#e8e4c3"/><stop offset="0.8" stop-color="#e8e5c5"/><stop offset="0.9" stop-color="#e8e7c7"/><stop offset="1" stop-color="#e8e8c8"/></linearGradient><linearGradient id="hmd_31" gradientUnits="userSpaceOnUse" x1="302.8" x2="450.8"><stop offset="0" stop-color="#e8debc"/><stop offset="0.1" stop-color="#e8dcb9"/><stop offset="0.2" stop-color="#e8d9b7"/><stop offset="0.3" stop-color="#e8d1b0"/><stop offset="0.4" stop-color="#e8cbab"/><stop offset="0.5" stop-color="#e8d7b5"/><stop offset="0.6" stop-color="#e8e0be"/><stop offset="0.7" stop-color="#e8e3c2"/><stop offset="0.8" stop-color="#e8e5c4"/><stop offset="0.9" stop-color="#e8e7c6"/><stop offset="1" stop-color="#e8e7c7"/></linearGradient><linearGradient id="hmd_32" gradientUnits="userSpaceOnUse" x1="302.8" x2="450.8"><stop offset="0" stop-color="#e8debb"/><stop offset="0.1" stop-color="#e8dcb9"/><stop offset="0.2" stop-color="#e8d9b7"/><stop offset="0.3" stop-color="#e8d0af"/><stop offset="0.4" stop-color="#e8c9aa"/><stop offset="0.5" stop-color="#e8d6b4"/><stop offset="0.6" stop-color="#e8dfbd"/><stop offset="0.7" stop-color="#e8e3c2"/><stop offset="0.8" stop-color="#e8e5c4"/><stop offset="0.9" stop-color="#e8e6c6"/><stop offset="1" stop-color="#e8e6c6"/></linearGradient><linearGradient id="hmd_33" gradientUnits="userSpaceOnUse" x1="302.8" x2="450.8"><stop offset="0" stop-color="#e8debb"/><stop offset="0.1" stop-color="#e8dcb9"/><stop offset="0.2" stop-color="#e8d9b7"/><stop offset="0.3" stop-color="#e8d0af"/><stop offset="0.4" stop-color="#e8c9aa"/><stop offset="0.5" stop-color="#e8d6b4"/><stop offset="0.6" stop-color="#e8dfbd"/><stop offset="0.7" stop-color="#e8e3c2"/><stop offset="0.8" stop-color="#e8e5c4"/><stop offset="0.9" stop-color="#e8e6c6"/><stop offset="1" stop-color="#e8e6c6"/></linearGradient><clipPath id="chme"><rect x="549.9" y="380.5" width="148" height="148"/></clipPath><linearGradient id="hme_0" gradientUnits="userSpaceOnUse" x1="549.9" x2="697.9"><stop offset="0" stop-color="#6ea09e"/><stop offset="0.1" stop-color="#699d9c"/><stop offset="0.2" stop-color="#649a9a"/><stop offset="0.3" stop-color="#5f9798"/><stop offset="0.4" stop-color="#5a9597"/><stop offset="0.5" stop-color="#559295"/><stop offset="0.6" stop-color="#559295"/><stop offset="0.7" stop-color="#508f93"/><stop offset="0.8" stop-color="#4b8c91"/><stop offset="0.9" stop-color="#478990"/><stop offset="1" stop-color="#478990"/></linearGradient><linearGradient id="hme_1" gradientUnits="userSpaceOnUse" x1="549.9" x2="697.9"><stop offset="0" stop-color="#6ea09e"/><stop offset="0.1" stop-color="#699d9c"/><stop offset="0.2" stop-color="#649a9a"/><stop offset="0.3" stop-color="#5f9798"/><stop offset="0.4" stop-color="#5a9597"/><stop offset="0.5" stop-color="#559295"/><stop offset="0.6" stop-color="#559295"/><stop offset="0.7" stop-color="#508f93"/><stop offset="0.8" stop-color="#4b8c91"/><stop offset="0.9" stop-color="#478990"/><stop offset="1" stop-color="#478990"/></linearGradient><linearGradient id="hme_2" gradientUnits="userSpaceOnUse" x1="549.9" x2="697.9"><stop offset="0" stop-color="#70a19f"/><stop offset="0.1" stop-color="#6b9e9d"/><stop offset="0.2" stop-color="#659b9b"/><stop offset="0.3" stop-color="#609899"/><stop offset="0.4" stop-color="#5a9597"/><stop offset="0.5" stop-color="#559295"/><stop offset="0.6" stop-color="#549194"/><stop offset="0.7" stop-color="#4f8e93"/><stop offset="0.8" stop-color="#4b8c91"/><stop offset="0.9" stop-color="#478a90"/><stop offset="1" stop-color="#478a90"/></linearGradient><linearGradient id="hme_3" gradientUnits="userSpaceOnUse" x1="549.9" x2="697.9"><stop offset="0" stop-color="#75a4a0"/><stop offset="0.1" stop-color="#6ea09e"/><stop offset="0.2" stop-color="#669c9b"/><stop offset="0.3" stop-color="#619999"/><stop offset="0.4" stop-color="#5a9597"/><stop offset="0.5" stop-color="#559295"/><stop offset="0.6" stop-color="#529094"/><stop offset="0.7" stop-color="#4e8d92"/><stop offset="0.8" stop-color="#4b8c91"/><stop offset="0.9" stop-color="#498b90"/><stop offset="1" stop-color="#498b90"/></linearGradient><linearGradient id="hme_4" gradientUnits="userSpaceOnUse" x1="549.9" x2="697.9"><stop offset="0" stop-color="#79a7a2"/><stop offset="0.1" stop-color="#72a3a0"/><stop offset="0.2" stop-color="#689d9c"/><stop offset="0.3" stop-color="#639a9a"/><stop offset="0.4" stop-color="#5a9597"/><stop offset="0.5" stop-color="#559295"/><stop offset="0.6" stop-color="#518f93"/><stop offset="0.7" stop-color="#4c8c91"/><stop offset="0.8" stop-color="#4b8c91"/><stop offset="0.9" stop-color="#4a8c91"/><stop offset="1" stop-color="#4a8c91"/></linearGradient><linearGradient id="hme_5" gradientUnits="userSpaceOnUse" x1="549.9" x2="697.9"><stop offset="0" stop-color="#7ea9a3"/><stop offset="0.1" stop-color="#77a5a1"/><stop offset="0.2" stop-color="#6b9e9d"/><stop offset="0.3" stop-color="#659b9b"/><stop offset="0.4" stop-color="#5b9597"/><stop offset="0.5" stop-color="#559295"/><stop offset="0.6" stop-color="#4f8e93"/><stop offset="0.7" stop-color="#4b8c91"/><stop offset="0.8" stop-color="#4c8c91"/><stop offset="0.9" stop-color="#4c8c91"/><stop offset="1" stop-color="#4c8c91"/></linearGradient><linearGradient id="hme_6" gradientUnits="userSpaceOnUse" x1="549.9" x2="697.9"><stop offset="0" stop-color="#82aca5"/><stop offset="0.1" stop-color="#7ba8a3"/><stop offset="0.2" stop-color="#6ea09e"/><stop offset="0.3" stop-color="#669c9b"/><stop offset="0.4" stop-color="#5c9698"/><stop offset="0.5" stop-color="#559295"/><stop offset="0.6" stop-color="#4e8d92"/><stop offset="0.7" stop-color="#4b8c91"/><stop offset="0.8" stop-color="#4e8d92"/><stop offset="0.9" stop-color="#4e8d92"/><stop offset="1" stop-color="#4e8d92"/></linearGradient><linearGradient id="hme_7" gradientUnits="userSpaceOnUse" x1="549.9" x2="697.9"><stop offset="0" stop-color="#86afa6"/><stop offset="0.1" stop-color="#80aba4"/><stop offset="0.2" stop-color="#72a3a0"/><stop offset="0.3" stop-color="#689d9c"/><stop offset="0.4" stop-color="#5e9798"/><stop offset="0.5" stop-color="#559295"/><stop offset="0.6" stop-color="#4c8c91"/><stop offset="0.7" stop-color="#4b8c91"/><stop offset="0.8" stop-color="#4f8e93"/><stop offset="0.9" stop-color="#4f8e93"/><stop offset="1" stop-color="#4f8e93"/></linearGradient><linearGradient id="hme_8" gradientUnits="userSpaceOnUse" x1="549.9" x2="697.9"><stop offset="0" stop-color="#8ab1a7"/><stop offset="0.1" stop-color="#83ada5"/><stop offset="0.2" stop-color="#75a4a0"/><stop offset="0.3" stop-color="#699d9c"/><stop offset="0.4" stop-color="#619899"/><stop offset="0.5" stop-color="#589396"/><stop offset="0.6" stop-color="#4e8d92"/><stop offset="0.7" stop-color="#4d8d92"/><stop offset="0.8" stop-color="#518f93"/><stop offset="0.9" stop-color="#518f93"/><stop offset="1" stop-color="#508f93"/></linearGradient><linearGradient id="hme_9" gradientUnits="userSpaceOnUse" x1="549.9" x2="697.9"><stop offset="0" stop-color="#8cb2a8"/><stop offset="0.1" stop-color="#85aea6"/><stop offset="0.2" stop-color="#75a4a0"/><stop offset="0.3" stop-color="#699d9c"/><stop offset="0.4" stop-color="#649a9a"/><stop offset="0.5" stop-color="#5c9698"/><stop offset="0.6" stop-color="#529094"/><stop offset="0.7" stop-color="#508f93"/><stop offset="0.8" stop-color="#529094"/><stop offset="0.9" stop-color="#529094"/><stop offset="1" stop-color="#508f93"/></linearGradient><linearGradient id="hme_10" gradientUnits="userSpaceOnUse" x1="549.9" x2="697.9"><stop offset="0" stop-color="#8eb3a9"/><stop offset="0.1" stop-color="#88afa7"/><stop offset="0.2" stop-color="#75a4a0"/><stop offset="0.3" stop-color="#699d9c"/><stop offset="0.4" stop-color="#679c9c"/><stop offset="0.5" stop-color="#619999"/><stop offset="0.6" stop-color="#589396"/><stop offset="0.7" stop-color="#539194"/><stop offset="0.8" stop-color="#549194"/><stop offset="0.9" stop-color="#549194"/><stop offset="1" stop-color="#508f93"/></linearGradient><linearGradient id="hme_11" gradientUnits="userSpaceOnUse" x1="549.9" x2="697.9"><stop offset="0" stop-color="#90b5aa"/><stop offset="0.1" stop-color="#8ab1a7"/><stop offset="0.2" stop-color="#74a3a0"/><stop offset="0.3" stop-color="#699d9c"/><stop offset="0.4" stop-color="#6a9e9c"/><stop offset="0.5" stop-color="#669b9b"/><stop offset="0.6" stop-color="#5c9698"/><stop offset="0.7" stop-color="#579396"/><stop offset="0.8" stop-color="#579395"/><stop offset="0.9" stop-color="#569295"/><stop offset="1" stop-color="#518f93"/></linearGradient><linearGradient id="hme_12" gradientUnits="userSpaceOnUse" x1="549.9" x2="697.9"><stop offset="0" stop-color="#93b6aa"/><stop offset="0.1" stop-color="#8cb2a8"/><stop offset="0.2" stop-color="#71a29f"/><stop offset="0.3" stop-color="#699d9c"/><stop offset="0.4" stop-color="#6c9f9d"/><stop offset="0.5" stop-color="#699d9c"/><stop offset="0.6" stop-color="#619999"/><stop offset="0.7" stop-color="#5c9698"/><stop offset="0.8" stop-color="#5a9597"/><stop offset="0.9" stop-color="#589396"/><stop offset="1" stop-color="#529094"/></linearGradient><linearGradient id="hme_13" gradientUnits="userSpaceOnUse" x1="549.9" x2="697.9"><stop offset="0" stop-color="#95b7ab"/><stop offset="0.1" stop-color="#8eb3a9"/><stop offset="0.2" stop-color="#6fa19e"/><stop offset="0.3" stop-color="#699d9c"/><stop offset="0.4" stop-color="#6da09e"/><stop offset="0.5" stop-color="#6c9f9d"/><stop offset="0.6" stop-color="#669c9b"/><stop offset="0.7" stop-color="#619999"/><stop offset="0.8" stop-color="#5d9698"/><stop offset="0.9" stop-color="#599496"/><stop offset="1" stop-color="#549194"/></linearGradient><linearGradient id="hme_14" gradientUnits="userSpaceOnUse" x1="549.9" x2="697.9"><stop offset="0" stop-color="#97b9ac"/><stop offset="0.1" stop-color="#90b5aa"/><stop offset="0.2" stop-color="#72a3a0"/><stop offset="0.3" stop-color="#6a9e9c"/><stop offset="0.4" stop-color="#6da09e"/><stop offset="0.5" stop-color="#70a19f"/><stop offset="0.6" stop-color="#6ea09e"/><stop offset="0.7" stop-color="#689d9c"/><stop offset="0.8" stop-color="#62999a"/><stop offset="0.9" stop-color="#5c9697"/><stop offset="1" stop-color="#559295"/></linearGradient><linearGradient id="hme_15" gradientUnits="userSpaceOnUse" x1="549.9" x2="697.9"><stop offset="0" stop-color="#99baad"/><stop offset="0.1" stop-color="#93b6aa"/><stop offset="0.2" stop-color="#7ba8a3"/><stop offset="0.3" stop-color="#6c9f9d"/><stop offset="0.4" stop-color="#6c9f9d"/><stop offset="0.5" stop-color="#75a4a0"/><stop offset="0.6" stop-color="#7ba8a3"/><stop offset="0.7" stop-color="#71a29f"/><stop offset="0.8" stop-color="#699d9c"/><stop offset="0.9" stop-color="#5f9798"/><stop offset="1" stop-color="#559295"/></linearGradient><linearGradient id="hme_16" gradientUnits="userSpaceOnUse" x1="549.9" x2="697.9"><stop offset="0" stop-color="#9cbbad"/><stop offset="0.1" stop-color="#95b7ab"/><stop offset="0.2" stop-color="#84ada6"/><stop offset="0.3" stop-color="#6da09e"/><stop offset="0.4" stop-color="#6a9e9c"/><stop offset="0.5" stop-color="#79a7a2"/><stop offset="0.6" stop-color="#89b0a7"/><stop offset="0.7" stop-color="#7ca9a3"/><stop offset="0.8" stop-color="#70a19f"/><stop offset="0.9" stop-color="#62999a"/><stop offset="1" stop-color="#559295"/></linearGradient><linearGradient id="hme_17" gradientUnits="userSpaceOnUse" x1="549.9" x2="697.9"><stop offset="0" stop-color="#9dbcae"/><stop offset="0.1" stop-color="#97b9ac"/><stop offset="0.2" stop-color="#8bb1a8"/><stop offset="0.3" stop-color="#71a29f"/><stop offset="0.4" stop-color="#699d9c"/><stop offset="0.5" stop-color="#7ca9a3"/><stop offset="0.6" stop-color="#92b5aa"/><stop offset="0.7" stop-color="#84ada6"/><stop offset="0.8" stop-color="#77a5a1"/><stop offset="0.9" stop-color="#669b9b"/><stop offset="1" stop-color="#569295"/></linearGradient><linearGradient id="hme_18" gradientUnits="userSpaceOnUse" x1="549.9" x2="697.9"><stop offset="0" stop-color="#9dbcae"/><stop offset="0.1" stop-color="#99baad"/><stop offset="0.2" stop-color="#8fb4a9"/><stop offset="0.3" stop-color="#78a6a1"/><stop offset="0.4" stop-color="#699d9c"/><stop offset="0.5" stop-color="#7faaa4"/><stop offset="0.6" stop-color="#96b8ac"/><stop offset="0.7" stop-color="#89b0a7"/><stop offset="0.8" stop-color="#7ba8a3"/><stop offset="0.9" stop-color="#699d9c"/><stop offset="1" stop-color="#589396"/></linearGradient><linearGradient id="hme_19" gradientUnits="userSpaceOnUse" x1="549.9" x2="697.9"><stop offset="0" stop-color="#9dbcae"/><stop offset="0.1" stop-color="#9cbbad"/><stop offset="0.2" stop-color="#94b7ab"/><stop offset="0.3" stop-color="#7faaa4"/><stop offset="0.4" stop-color="#699d9c"/><stop offset="0.5" stop-color="#81aba4"/><stop offset="0.6" stop-color="#9abbad"/><stop offset="0.7" stop-color="#8db3a9"/><stop offset="0.8" stop-color="#80aba4"/><stop offset="0.9" stop-color="#6c9f9d"/><stop offset="1" stop-color="#599496"/></linearGradient><linearGradient id="hme_20" gradientUnits="userSpaceOnUse" x1="549.9" x2="697.9"><stop offset="0" stop-color="#9dbcae"/><stop offset="0.1" stop-color="#9dbcae"/><stop offset="0.2" stop-color="#97b9ac"/><stop offset="0.3" stop-color="#84ada6"/><stop offset="0.4" stop-color="#6b9e9d"/><stop offset="0.5" stop-color="#83ada5"/><stop offset="0.6" stop-color="#9cbbad"/><stop offset="0.7" stop-color="#90b5aa"/><stop offset="0.8" stop-color="#83ada5"/><stop offset="0.9" stop-color="#70a19f"/><stop offset="1" stop-color="#5c9697"/></linearGradient><linearGradient id="hme_21" gradientUnits="userSpaceOnUse" x1="549.9" x2="697.9"><stop offset="0" stop-color="#9dbcae"/><stop offset="0.1" stop-color="#9dbcae"/><stop offset="0.2" stop-color="#99baad"/><stop offset="0.3" stop-color="#89b0a7"/><stop offset="0.4" stop-color="#6ea09e"/><stop offset="0.5" stop-color="#85aea6"/><stop offset="0.6" stop-color="#99baad"/><stop offset="0.7" stop-color="#93b6aa"/><stop offset="0.8" stop-color="#85aea6"/><stop offset="0.9" stop-color="#75a4a0"/><stop offset="1" stop-color="#5f9798"/></linearGradient><linearGradient id="hme_22" gradientUnits="userSpaceOnUse" x1="549.9" x2="697.9"><stop offset="0" stop-color="#9dbcae"/><stop offset="0.1" stop-color="#9dbcae"/><stop offset="0.2" stop-color="#9cbbad"/><stop offset="0.3" stop-color="#8db3a9"/><stop offset="0.4" stop-color="#72a3a0"/><stop offset="0.5" stop-color="#88afa7"/><stop offset="0.6" stop-color="#97b9ac"/><stop offset="0.7" stop-color="#95b7ab"/><stop offset="0.8" stop-color="#88afa7"/><stop offset="0.9" stop-color="#79a7a2"/><stop offset="1" stop-color="#62999a"/></linearGradient><linearGradient id="hme_23" gradientUnits="userSpaceOnUse" x1="549.9" x2="697.9"><stop offset="0" stop-color="#9cbbad"/><stop offset="0.1" stop-color="#9dbcae"/><stop offset="0.2" stop-color="#9cbbad"/><stop offset="0.3" stop-color="#8fb4a9"/><stop offset="0.4" stop-color="#78a6a1"/><stop offset="0.5" stop-color="#8ab1a7"/><stop offset="0.6" stop-color="#96b8ac"/><stop offset="0.7" stop-color="#96b8ac"/><stop offset="0.8" stop-color="#8ab1a7"/><stop offset="0.9" stop-color="#7ea9a3"/><stop offset="1" stop-color="#669b9b"/></linearGradient><linearGradient id="hme_24" gradientUnits="userSpaceOnUse" x1="549.9" x2="697.9"><stop offset="0" stop-color="#99baad"/><stop offset="0.1" stop-color="#9dbcae"/><stop offset="0.2" stop-color="#99baad"/><stop offset="0.3" stop-color="#8fb4a9"/><stop offset="0.4" stop-color="#7faaa4"/><stop offset="0.5" stop-color="#8cb2a8"/><stop offset="0.6" stop-color="#96b8ac"/><stop offset="0.7" stop-color="#96b8ac"/><stop offset="0.8" stop-color="#8cb2a8"/><stop offset="0.9" stop-color="#82aca5"/><stop offset="1" stop-color="#699d9c"/></linearGradient><linearGradient id="hme_25" gradientUnits="userSpaceOnUse" x1="549.9" x2="697.9"><stop offset="0" stop-color="#97b9ac"/><stop offset="0.1" stop-color="#9dbcae"/><stop offset="0.2" stop-color="#97b9ac"/><stop offset="0.3" stop-color="#8fb4a9"/><stop offset="0.4" stop-color="#85aea6"/><stop offset="0.5" stop-color="#8eb3a9"/><stop offset="0.6" stop-color="#96b8ac"/><stop offset="0.7" stop-color="#96b8ac"/><stop offset="0.8" stop-color="#8eb3a9"/><stop offset="0.9" stop-color="#86afa6"/><stop offset="1" stop-color="#6c9f9d"/></linearGradient><linearGradient id="hme_26" gradientUnits="userSpaceOnUse" x1="549.9" x2="697.9"><stop offset="0" stop-color="#95b7ab"/><stop offset="0.1" stop-color="#9cbbad"/><stop offset="0.2" stop-color="#96b8ac"/><stop offset="0.3" stop-color="#8eb3a9"/><stop offset="0.4" stop-color="#88afa7"/><stop offset="0.5" stop-color="#8eb3a9"/><stop offset="0.6" stop-color="#95b7ab"/><stop offset="0.7" stop-color="#95b7ab"/><stop offset="0.8" stop-color="#8fb4a9"/><stop offset="0.9" stop-color="#89b0a7"/><stop offset="1" stop-color="#70a19f"/></linearGradient><linearGradient id="hme_27" gradientUnits="userSpaceOnUse" x1="549.9" x2="697.9"><stop offset="0" stop-color="#93b6aa"/><stop offset="0.1" stop-color="#99baad"/><stop offset="0.2" stop-color="#96b8ac"/><stop offset="0.3" stop-color="#8cb2a8"/><stop offset="0.4" stop-color="#85aea6"/><stop offset="0.5" stop-color="#8cb2a8"/><stop offset="0.6" stop-color="#93b6aa"/><stop offset="0.7" stop-color="#93b6aa"/><stop offset="0.8" stop-color="#8fb4a9"/><stop offset="0.9" stop-color="#89b0a7"/><stop offset="1" stop-color="#75a4a0"/></linearGradient><linearGradient id="hme_28" gradientUnits="userSpaceOnUse" x1="549.9" x2="697.9"><stop offset="0" stop-color="#90b5aa"/><stop offset="0.1" stop-color="#97b9ac"/><stop offset="0.2" stop-color="#96b8ac"/><stop offset="0.3" stop-color="#8ab1a7"/><stop offset="0.4" stop-color="#83ada5"/><stop offset="0.5" stop-color="#8ab1a7"/><stop offset="0.6" stop-color="#90b5aa"/><stop offset="0.7" stop-color="#90b5aa"/><stop offset="0.8" stop-color="#8fb4a9"/><stop offset="0.9" stop-color="#89b0a7"/><stop offset="1" stop-color="#79a7a2"/></linearGradient><linearGradient id="hme_29" gradientUnits="userSpaceOnUse" x1="549.9" x2="697.9"><stop offset="0" stop-color="#8fb4a9"/><stop offset="0.1" stop-color="#95b7ab"/><stop offset="0.2" stop-color="#94b7ab"/><stop offset="0.3" stop-color="#88afa7"/><stop offset="0.4" stop-color="#7faaa4"/><stop offset="0.5" stop-color="#88afa7"/><stop offset="0.6" stop-color="#8fb4a9"/><stop offset="0.7" stop-color="#8fb4a9"/><stop offset="0.8" stop-color="#8fb4a9"/><stop offset="0.9" stop-color="#89b0a7"/><stop offset="1" stop-color="#7ca9a3"/></linearGradient><linearGradient id="hme_30" gradientUnits="userSpaceOnUse" x1="549.9" x2="697.9"><stop offset="0" stop-color="#8fb4a9"/><stop offset="0.1" stop-color="#93b6aa"/><stop offset="0.2" stop-color="#8fb4a9"/><stop offset="0.3" stop-color="#85aea6"/><stop offset="0.4" stop-color="#78a6a1"/><stop offset="0.5" stop-color="#85aea6"/><stop offset="0.6" stop-color="#8fb4a9"/><stop offset="0.7" stop-color="#8fb4a9"/><stop offset="0.8" stop-color="#8fb4a9"/><stop offset="0.9" stop-color="#89b0a7"/><stop offset="1" stop-color="#7faaa4"/></linearGradient><linearGradient id="hme_31" gradientUnits="userSpaceOnUse" x1="549.9" x2="697.9"><stop offset="0" stop-color="#8fb4a9"/><stop offset="0.1" stop-color="#90b5aa"/><stop offset="0.2" stop-color="#8bb1a8"/><stop offset="0.3" stop-color="#83ada5"/><stop offset="0.4" stop-color="#71a29f"/><stop offset="0.5" stop-color="#83ada5"/><stop offset="0.6" stop-color="#8fb4a9"/><stop offset="0.7" stop-color="#8fb4a9"/><stop offset="0.8" stop-color="#8fb4a9"/><stop offset="0.9" stop-color="#89b0a7"/><stop offset="1" stop-color="#81aba4"/></linearGradient><linearGradient id="hme_32" gradientUnits="userSpaceOnUse" x1="549.9" x2="697.9"><stop offset="0" stop-color="#8fb4a9"/><stop offset="0.1" stop-color="#8fb4a9"/><stop offset="0.2" stop-color="#89b0a7"/><stop offset="0.3" stop-color="#82aca5"/><stop offset="0.4" stop-color="#6ea09e"/><stop offset="0.5" stop-color="#82aca5"/><stop offset="0.6" stop-color="#8fb4a9"/><stop offset="0.7" stop-color="#8fb4a9"/><stop offset="0.8" stop-color="#8fb4a9"/><stop offset="0.9" stop-color="#89b0a7"/><stop offset="1" stop-color="#82aca5"/></linearGradient><linearGradient id="hme_33" gradientUnits="userSpaceOnUse" x1="549.9" x2="697.9"><stop offset="0" stop-color="#8fb4a9"/><stop offset="0.1" stop-color="#8fb4a9"/><stop offset="0.2" stop-color="#89b0a7"/><stop offset="0.3" stop-color="#82aca5"/><stop offset="0.4" stop-color="#6ea09e"/><stop offset="0.5" stop-color="#82aca5"/><stop offset="0.6" stop-color="#8fb4a9"/><stop offset="0.7" stop-color="#8fb4a9"/><stop offset="0.8" stop-color="#8fb4a9"/><stop offset="0.9" stop-color="#89b0a7"/><stop offset="1" stop-color="#82aca5"/></linearGradient><clipPath id="chmf"><rect x="796.4" y="380.5" width="148" height="148"/></clipPath><linearGradient id="hmf_0" gradientUnits="userSpaceOnUse" x1="796.4" x2="944.4"><stop offset="0" stop-color="#3a828c"/><stop offset="0.2" stop-color="#3a828c"/><stop offset="0.4" stop-color="#367f8b"/><stop offset="0.6" stop-color="#317d89"/><stop offset="0.8" stop-color="#2b7887"/><stop offset="1" stop-color="#2b7887"/></linearGradient><linearGradient id="hmf_1" gradientUnits="userSpaceOnUse" x1="796.4" x2="944.4"><stop offset="0" stop-color="#3a828c"/><stop offset="0.2" stop-color="#3a828c"/><stop offset="0.4" stop-color="#367f8b"/><stop offset="0.6" stop-color="#317d89"/><stop offset="0.8" stop-color="#2b7887"/><stop offset="1" stop-color="#2b7887"/></linearGradient><linearGradient id="hmf_2" gradientUnits="userSpaceOnUse" x1="796.4" x2="944.4"><stop offset="0" stop-color="#3a828c"/><stop offset="0.2" stop-color="#3a828c"/><stop offset="0.4" stop-color="#367f8b"/><stop offset="0.6" stop-color="#317d89"/><stop offset="0.8" stop-color="#2b7987"/><stop offset="1" stop-color="#2b7987"/></linearGradient><linearGradient id="hmf_3" gradientUnits="userSpaceOnUse" x1="796.4" x2="944.4"><stop offset="0" stop-color="#3b828c"/><stop offset="0.2" stop-color="#3a828c"/><stop offset="0.4" stop-color="#367f8b"/><stop offset="0.6" stop-color="#317d89"/><stop offset="0.8" stop-color="#2c7987"/><stop offset="1" stop-color="#2c7987"/></linearGradient><linearGradient id="hmf_4" gradientUnits="userSpaceOnUse" x1="796.4" x2="944.4"><stop offset="0" stop-color="#3c838c"/><stop offset="0.2" stop-color="#3a828c"/><stop offset="0.4" stop-color="#367f8b"/><stop offset="0.6" stop-color="#317d89"/><stop offset="0.8" stop-color="#2c7987"/><stop offset="1" stop-color="#2c7987"/></linearGradient><linearGradient id="hmf_5" gradientUnits="userSpaceOnUse" x1="796.4" x2="944.4"><stop offset="0" stop-color="#3c838d"/><stop offset="0.2" stop-color="#3a828c"/><stop offset="0.4" stop-color="#367f8b"/><stop offset="0.6" stop-color="#317d89"/><stop offset="0.8" stop-color="#2c7988"/><stop offset="1" stop-color="#2c7988"/></linearGradient><linearGradient id="hmf_6" gradientUnits="userSpaceOnUse" x1="796.4" x2="944.4"><stop offset="0" stop-color="#3d848d"/><stop offset="0.2" stop-color="#3a828c"/><stop offset="0.4" stop-color="#367f8b"/><stop offset="0.6" stop-color="#317d89"/><stop offset="0.8" stop-color="#2d7a88"/><stop offset="1" stop-color="#2d7a88"/></linearGradient><linearGradient id="hmf_7" gradientUnits="userSpaceOnUse" x1="796.4" x2="944.4"><stop offset="0" stop-color="#3e848d"/><stop offset="0.2" stop-color="#3a828c"/><stop offset="0.4" stop-color="#367f8b"/><stop offset="0.6" stop-color="#317d89"/><stop offset="0.8" stop-color="#2d7a88"/><stop offset="1" stop-color="#2d7a88"/></linearGradient><linearGradient id="hmf_8" gradientUnits="userSpaceOnUse" x1="796.4" x2="944.4"><stop offset="0" stop-color="#3e848d"/><stop offset="0.2" stop-color="#3a828c"/><stop offset="0.4" stop-color="#367f8b"/><stop offset="0.6" stop-color="#327d8a"/><stop offset="0.8" stop-color="#2f7b89"/><stop offset="1" stop-color="#2e7a88"/></linearGradient><linearGradient id="hmf_9" gradientUnits="userSpaceOnUse" x1="796.4" x2="944.4"><stop offset="0" stop-color="#3f858d"/><stop offset="0.2" stop-color="#3b828c"/><stop offset="0.4" stop-color="#37808b"/><stop offset="0.6" stop-color="#337e8a"/><stop offset="0.8" stop-color="#337e8a"/><stop offset="1" stop-color="#2f7b89"/></linearGradient><linearGradient id="hmf_10" gradientUnits="userSpaceOnUse" x1="796.4" x2="944.4"><stop offset="0" stop-color="#40858e"/><stop offset="0.2" stop-color="#3c838c"/><stop offset="0.4" stop-color="#37808b"/><stop offset="0.6" stop-color="#357f8a"/><stop offset="0.8" stop-color="#38808b"/><stop offset="1" stop-color="#317c89"/></linearGradient><linearGradient id="hmf_11" gradientUnits="userSpaceOnUse" x1="796.4" x2="944.4"><stop offset="0" stop-color="#41868e"/><stop offset="0.2" stop-color="#3c838d"/><stop offset="0.4" stop-color="#38818b"/><stop offset="0.6" stop-color="#36808b"/><stop offset="0.8" stop-color="#3c838c"/><stop offset="1" stop-color="#327d8a"/></linearGradient><linearGradient id="hmf_12" gradientUnits="userSpaceOnUse" x1="796.4" x2="944.4"><stop offset="0" stop-color="#41868e"/><stop offset="0.2" stop-color="#3d848d"/><stop offset="0.4" stop-color="#39818c"/><stop offset="0.6" stop-color="#38808b"/><stop offset="0.8" stop-color="#40868e"/><stop offset="1" stop-color="#337e8a"/></linearGradient><linearGradient id="hmf_13" gradientUnits="userSpaceOnUse" x1="796.4" x2="944.4"><stop offset="0" stop-color="#42878e"/><stop offset="0.2" stop-color="#3e848d"/><stop offset="0.4" stop-color="#3a828c"/><stop offset="0.6" stop-color="#39818c"/><stop offset="0.8" stop-color="#45888f"/><stop offset="1" stop-color="#357f8a"/></linearGradient><linearGradient id="hmf_14" gradientUnits="userSpaceOnUse" x1="796.4" x2="944.4"><stop offset="0" stop-color="#43878f"/><stop offset="0.2" stop-color="#3f858d"/><stop offset="0.4" stop-color="#3b828c"/><stop offset="0.6" stop-color="#3b838c"/><stop offset="0.8" stop-color="#488a90"/><stop offset="1" stop-color="#367f8b"/></linearGradient><linearGradient id="hmf_15" gradientUnits="userSpaceOnUse" x1="796.4" x2="944.4"><stop offset="0" stop-color="#45888f"/><stop offset="0.2" stop-color="#40868e"/><stop offset="0.4" stop-color="#3c838c"/><stop offset="0.6" stop-color="#3e848d"/><stop offset="0.8" stop-color="#4a8b91"/><stop offset="1" stop-color="#37808b"/></linearGradient><linearGradient id="hmf_16" gradientUnits="userSpaceOnUse" x1="796.4" x2="944.4"><stop offset="0" stop-color="#468990"/><stop offset="0.2" stop-color="#42868e"/><stop offset="0.4" stop-color="#3d848d"/><stop offset="0.6" stop-color="#41868e"/><stop offset="0.8" stop-color="#4c8d91"/><stop offset="1" stop-color="#37808b"/></linearGradient><linearGradient id="hmf_17" gradientUnits="userSpaceOnUse" x1="796.4" x2="944.4"><stop offset="0" stop-color="#478a90"/><stop offset="0.2" stop-color="#43878f"/><stop offset="0.4" stop-color="#3f858d"/><stop offset="0.6" stop-color="#44888f"/><stop offset="0.8" stop-color="#4f8e92"/><stop offset="1" stop-color="#38818b"/></linearGradient><linearGradient id="hmf_18" gradientUnits="userSpaceOnUse" x1="796.4" x2="944.4"><stop offset="0" stop-color="#498b90"/><stop offset="0.2" stop-color="#45888f"/><stop offset="0.4" stop-color="#40868e"/><stop offset="0.6" stop-color="#478990"/><stop offset="0.8" stop-color="#519093"/><stop offset="1" stop-color="#39818c"/></linearGradient><linearGradient id="hmf_19" gradientUnits="userSpaceOnUse" x1="796.4" x2="944.4"><stop offset="0" stop-color="#4a8c91"/><stop offset="0.2" stop-color="#468990"/><stop offset="0.4" stop-color="#42868e"/><stop offset="0.6" stop-color="#4a8b91"/><stop offset="0.8" stop-color="#549194"/><stop offset="1" stop-color="#3a828c"/></linearGradient><linearGradient id="hmf_20" gradientUnits="userSpaceOnUse" x1="796.4" x2="944.4"><stop offset="0" stop-color="#4c8c91"/><stop offset="0.2" stop-color="#478a90"/><stop offset="0.4" stop-color="#42878e"/><stop offset="0.6" stop-color="#4b8c91"/><stop offset="0.8" stop-color="#549194"/><stop offset="1" stop-color="#3a828c"/></linearGradient><linearGradient id="hmf_21" gradientUnits="userSpaceOnUse" x1="796.4" x2="944.4"><stop offset="0" stop-color="#4e8d92"/><stop offset="0.2" stop-color="#488a90"/><stop offset="0.4" stop-color="#41868e"/><stop offset="0.6" stop-color="#4a8b91"/><stop offset="0.8" stop-color="#529094"/><stop offset="1" stop-color="#39818c"/></linearGradient><linearGradient id="hmf_22" gradientUnits="userSpaceOnUse" x1="796.4" x2="944.4"><stop offset="0" stop-color="#4f8e93"/><stop offset="0.2" stop-color="#488a90"/><stop offset="0.4" stop-color="#41868e"/><stop offset="0.6" stop-color="#498b90"/><stop offset="0.8" stop-color="#518f93"/><stop offset="1" stop-color="#38818b"/></linearGradient><linearGradient id="hmf_23" gradientUnits="userSpaceOnUse" x1="796.4" x2="944.4"><stop offset="0" stop-color="#518f93"/><stop offset="0.2" stop-color="#498b90"/><stop offset="0.4" stop-color="#40858e"/><stop offset="0.6" stop-color="#488a90"/><stop offset="0.8" stop-color="#4f8e93"/><stop offset="1" stop-color="#37808b"/></linearGradient><linearGradient id="hmf_24" gradientUnits="userSpaceOnUse" x1="796.4" x2="944.4"><stop offset="0" stop-color="#529094"/><stop offset="0.2" stop-color="#4a8b91"/><stop offset="0.4" stop-color="#3f858d"/><stop offset="0.6" stop-color="#488a90"/><stop offset="0.8" stop-color="#4e8d92"/><stop offset="1" stop-color="#37808b"/></linearGradient><linearGradient id="hmf_25" gradientUnits="userSpaceOnUse" x1="796.4" x2="944.4"><stop offset="0" stop-color="#549194"/><stop offset="0.2" stop-color="#4b8c91"/><stop offset="0.4" stop-color="#3e848d"/><stop offset="0.6" stop-color="#478a90"/><stop offset="0.8" stop-color="#4c8c91"/><stop offset="1" stop-color="#367f8b"/></linearGradient><linearGradient id="hmf_26" gradientUnits="userSpaceOnUse" x1="796.4" x2="944.4"><stop offset="0" stop-color="#559195"/><stop offset="0.2" stop-color="#4b8c91"/><stop offset="0.4" stop-color="#3f858d"/><stop offset="0.6" stop-color="#488a90"/><stop offset="0.8" stop-color="#4b8c91"/><stop offset="1" stop-color="#367f8b"/></linearGradient><linearGradient id="hmf_27" gradientUnits="userSpaceOnUse" x1="796.4" x2="944.4"><stop offset="0" stop-color="#549194"/><stop offset="0.2" stop-color="#4c8d91"/><stop offset="0.4" stop-color="#41868e"/><stop offset="0.6" stop-color="#4b8c91"/><stop offset="0.8" stop-color="#4a8b91"/><stop offset="1" stop-color="#367f8b"/></linearGradient><linearGradient id="hmf_28" gradientUnits="userSpaceOnUse" x1="796.4" x2="944.4"><stop offset="0" stop-color="#539194"/><stop offset="0.2" stop-color="#4d8d92"/><stop offset="0.4" stop-color="#44888f"/><stop offset="0.6" stop-color="#4e8e92"/><stop offset="0.8" stop-color="#498b90"/><stop offset="1" stop-color="#367f8b"/></linearGradient><linearGradient id="hmf_29" gradientUnits="userSpaceOnUse" x1="796.4" x2="944.4"><stop offset="0" stop-color="#529094"/><stop offset="0.2" stop-color="#4e8e92"/><stop offset="0.4" stop-color="#46898f"/><stop offset="0.6" stop-color="#529093"/><stop offset="0.8" stop-color="#488a90"/><stop offset="1" stop-color="#367f8b"/></linearGradient><linearGradient id="hmf_30" gradientUnits="userSpaceOnUse" x1="796.4" x2="944.4"><stop offset="0" stop-color="#519093"/><stop offset="0.2" stop-color="#4f8e92"/><stop offset="0.4" stop-color="#488a90"/><stop offset="0.6" stop-color="#559295"/><stop offset="0.8" stop-color="#488a90"/><stop offset="1" stop-color="#367f8b"/></linearGradient><linearGradient id="hmf_31" gradientUnits="userSpaceOnUse" x1="796.4" x2="944.4"><stop offset="0" stop-color="#508f93"/><stop offset="0.2" stop-color="#508f93"/><stop offset="0.4" stop-color="#4a8b91"/><stop offset="0.6" stop-color="#589496"/><stop offset="0.8" stop-color="#478a90"/><stop offset="1" stop-color="#367f8b"/></linearGradient><linearGradient id="hmf_32" gradientUnits="userSpaceOnUse" x1="796.4" x2="944.4"><stop offset="0" stop-color="#508f93"/><stop offset="0.2" stop-color="#508f93"/><stop offset="0.4" stop-color="#4b8c91"/><stop offset="0.6" stop-color="#5a9597"/><stop offset="0.8" stop-color="#478990"/><stop offset="1" stop-color="#367f8b"/></linearGradient><linearGradient id="hmf_33" gradientUnits="userSpaceOnUse" x1="796.4" x2="944.4"><stop offset="0" stop-color="#508f93"/><stop offset="0.2" stop-color="#508f93"/><stop offset="0.4" stop-color="#4b8c91"/><stop offset="0.6" stop-color="#5a9597"/><stop offset="0.8" stop-color="#478990"/><stop offset="1" stop-color="#367f8b"/></linearGradient><clipPath id="chmi"><rect x="58.5" y="933.2" width="148" height="148"/></clipPath><linearGradient id="hmi_0" gradientUnits="userSpaceOnUse" x1="58.5" x2="206.5"><stop offset="0" stop-color="#e5a68e"/><stop offset="0.1" stop-color="#e5a68e"/><stop offset="0.2" stop-color="#e5a68e"/><stop offset="0.3" stop-color="#e5a68e"/><stop offset="0.4" stop-color="#e5a28c"/><stop offset="0.5" stop-color="#e6a991"/><stop offset="0.6" stop-color="#e6af96"/><stop offset="0.7" stop-color="#e6b298"/><stop offset="0.8" stop-color="#e6b298"/><stop offset="0.9" stop-color="#e6b298"/><stop offset="1" stop-color="#e6b298"/></linearGradient><linearGradient id="hmi_1" gradientUnits="userSpaceOnUse" x1="58.5" x2="206.5"><stop offset="0" stop-color="#e5a68e"/><stop offset="0.1" stop-color="#e5a68e"/><stop offset="0.2" stop-color="#e5a68e"/><stop offset="0.3" stop-color="#e5a68e"/><stop offset="0.4" stop-color="#e5a28c"/><stop offset="0.5" stop-color="#e6a991"/><stop offset="0.6" stop-color="#e6af96"/><stop offset="0.7" stop-color="#e6b298"/><stop offset="0.8" stop-color="#e6b298"/><stop offset="0.9" stop-color="#e6b298"/><stop offset="1" stop-color="#e6b298"/></linearGradient><linearGradient id="hmi_2" gradientUnits="userSpaceOnUse" x1="58.5" x2="206.5"><stop offset="0" stop-color="#e5a58e"/><stop offset="0.1" stop-color="#e5a58e"/><stop offset="0.2" stop-color="#e5a58e"/><stop offset="0.3" stop-color="#e5a58e"/><stop offset="0.4" stop-color="#e5a18b"/><stop offset="0.5" stop-color="#e5a891"/><stop offset="0.6" stop-color="#e6ae96"/><stop offset="0.7" stop-color="#e6b198"/><stop offset="0.8" stop-color="#e6b197"/><stop offset="0.9" stop-color="#e6b197"/><stop offset="1" stop-color="#e6b197"/></linearGradient><linearGradient id="hmi_3" gradientUnits="userSpaceOnUse" x1="58.5" x2="206.5"><stop offset="0" stop-color="#e5a48d"/><stop offset="0.1" stop-color="#e5a48d"/><stop offset="0.2" stop-color="#e5a48d"/><stop offset="0.3" stop-color="#e5a28c"/><stop offset="0.4" stop-color="#e59f8a"/><stop offset="0.5" stop-color="#e5a790"/><stop offset="0.6" stop-color="#e6ad95"/><stop offset="0.7" stop-color="#e6b097"/><stop offset="0.8" stop-color="#e6af96"/><stop offset="0.9" stop-color="#e6af96"/><stop offset="1" stop-color="#e6af96"/></linearGradient><linearGradient id="hmi_4" gradientUnits="userSpaceOnUse" x1="58.5" x2="206.5"><stop offset="0" stop-color="#e5a38c"/><stop offset="0.1" stop-color="#e5a38c"/><stop offset="0.2" stop-color="#e5a38c"/><stop offset="0.3" stop-color="#e5a08a"/><stop offset="0.4" stop-color="#e59d88"/><stop offset="0.5" stop-color="#e5a68f"/><stop offset="0.6" stop-color="#e6ac94"/><stop offset="0.7" stop-color="#e6af96"/><stop offset="0.8" stop-color="#e6ad94"/><stop offset="0.9" stop-color="#e6ad94"/><stop offset="1" stop-color="#e6ad94"/></linearGradient><linearGradient id="hmi_5" gradientUnits="userSpaceOnUse" x1="58.5" x2="206.5"><stop offset="0" stop-color="#e5a28c"/><stop offset="0.1" stop-color="#e5a28c"/><stop offset="0.2" stop-color="#e5a28c"/><stop offset="0.3" stop-color="#e59f8a"/><stop offset="0.4" stop-color="#e49c87"/><stop offset="0.5" stop-color="#e5a58e"/><stop offset="0.6" stop-color="#e6ab93"/><stop offset="0.7" stop-color="#e6ae95"/><stop offset="0.8" stop-color="#e6ab93"/><stop offset="0.9" stop-color="#e6ab93"/><stop offset="1" stop-color="#e6ab93"/></linearGradient><linearGradient id="hmi_6" gradientUnits="userSpaceOnUse" x1="58.5" x2="206.5"><stop offset="0" stop-color="#e5a18b"/><stop offset="0.1" stop-color="#e5a18b"/><stop offset="0.2" stop-color="#e5a18b"/><stop offset="0.3" stop-color="#e59f8a"/><stop offset="0.4" stop-color="#e49b86"/><stop offset="0.5" stop-color="#e5a28c"/><stop offset="0.6" stop-color="#e6aa92"/><stop offset="0.7" stop-color="#e6ac94"/><stop offset="0.8" stop-color="#e6a991"/><stop offset="0.9" stop-color="#e6a991"/><stop offset="1" stop-color="#e6a991"/></linearGradient><linearGradient id="hmi_7" gradientUnits="userSpaceOnUse" x1="58.5" x2="206.5"><stop offset="0" stop-color="#e5a08a"/><stop offset="0.1" stop-color="#e5a08a"/><stop offset="0.2" stop-color="#e5a08a"/><stop offset="0.3" stop-color="#e59f8a"/><stop offset="0.4" stop-color="#e49a85"/><stop offset="0.5" stop-color="#e5a08a"/><stop offset="0.6" stop-color="#e6a991"/><stop offset="0.7" stop-color="#e6aa92"/><stop offset="0.8" stop-color="#e5a78f"/><stop offset="0.9" stop-color="#e5a78f"/><stop offset="1" stop-color="#e5a78f"/></linearGradient><linearGradient id="hmi_8" gradientUnits="userSpaceOnUse" x1="58.5" x2="206.5"><stop offset="0" stop-color="#e5a18b"/><stop offset="0.1" stop-color="#e5a18b"/><stop offset="0.2" stop-color="#e5a18b"/><stop offset="0.3" stop-color="#e5a08a"/><stop offset="0.4" stop-color="#e49984"/><stop offset="0.5" stop-color="#e59f8a"/><stop offset="0.6" stop-color="#e5a890"/><stop offset="0.7" stop-color="#e5a890"/><stop offset="0.8" stop-color="#e5a58e"/><stop offset="0.9" stop-color="#e5a58e"/><stop offset="1" stop-color="#e5a58e"/></linearGradient><linearGradient id="hmi_9" gradientUnits="userSpaceOnUse" x1="58.5" x2="206.5"><stop offset="0" stop-color="#e5a48d"/><stop offset="0.1" stop-color="#e5a68e"/><stop offset="0.2" stop-color="#e5a48d"/><stop offset="0.3" stop-color="#e5a18b"/><stop offset="0.4" stop-color="#e49984"/><stop offset="0.5" stop-color="#e59f8a"/><stop offset="0.6" stop-color="#e5a68e"/><stop offset="0.7" stop-color="#e5a68e"/><stop offset="0.8" stop-color="#e5a48d"/><stop offset="0.9" stop-color="#e5a48d"/><stop offset="1" stop-color="#e5a48d"/></linearGradient><linearGradient id="hmi_10" gradientUnits="userSpaceOnUse" x1="58.5" x2="206.5"><stop offset="0" stop-color="#e5a790"/><stop offset="0.1" stop-color="#e6aa92"/><stop offset="0.2" stop-color="#e5a790"/><stop offset="0.3" stop-color="#e5a28c"/><stop offset="0.4" stop-color="#e49984"/><stop offset="0.5" stop-color="#e59f8a"/><stop offset="0.6" stop-color="#e5a48d"/><stop offset="0.7" stop-color="#e5a48d"/><stop offset="0.8" stop-color="#e5a38c"/><stop offset="0.9" stop-color="#e5a38c"/><stop offset="1" stop-color="#e5a38c"/></linearGradient><linearGradient id="hmi_11" gradientUnits="userSpaceOnUse" x1="58.5" x2="206.5"><stop offset="0" stop-color="#e6aa92"/><stop offset="0.1" stop-color="#e6ad94"/><stop offset="0.2" stop-color="#e6a991"/><stop offset="0.3" stop-color="#e5a28c"/><stop offset="0.4" stop-color="#e49984"/><stop offset="0.5" stop-color="#e59f89"/><stop offset="0.6" stop-color="#e5a28c"/><stop offset="0.7" stop-color="#e5a28c"/><stop offset="0.8" stop-color="#e5a28c"/><stop offset="0.9" stop-color="#e5a28c"/><stop offset="1" stop-color="#e5a28c"/></linearGradient><linearGradient id="hmi_12" gradientUnits="userSpaceOnUse" x1="58.5" x2="206.5"><stop offset="0" stop-color="#e6ad95"/><stop offset="0.1" stop-color="#e6af96"/><stop offset="0.2" stop-color="#e6aa92"/><stop offset="0.3" stop-color="#e5a28c"/><stop offset="0.4" stop-color="#e49984"/><stop offset="0.5" stop-color="#e59e88"/><stop offset="0.6" stop-color="#e5a18b"/><stop offset="0.7" stop-color="#e5a18b"/><stop offset="0.8" stop-color="#e5a18b"/><stop offset="0.9" stop-color="#e5a18b"/><stop offset="1" stop-color="#e5a18b"/></linearGradient><linearGradient id="hmi_13" gradientUnits="userSpaceOnUse" x1="58.5" x2="206.5"><stop offset="0" stop-color="#e6b097"/><stop offset="0.1" stop-color="#e6b197"/><stop offset="0.2" stop-color="#e6ab93"/><stop offset="0.3" stop-color="#e5a28c"/><stop offset="0.4" stop-color="#e49984"/><stop offset="0.5" stop-color="#e59d87"/><stop offset="0.6" stop-color="#e5a08a"/><stop offset="0.7" stop-color="#e5a08a"/><stop offset="0.8" stop-color="#e5a08a"/><stop offset="0.9" stop-color="#e5a08a"/><stop offset="1" stop-color="#e5a08a"/></linearGradient><linearGradient id="hmi_14" gradientUnits="userSpaceOnUse" x1="58.5" x2="206.5"><stop offset="0" stop-color="#e6b097"/><stop offset="0.1" stop-color="#e6b097"/><stop offset="0.2" stop-color="#e6aa92"/><stop offset="0.3" stop-color="#e5a28c"/><stop offset="0.4" stop-color="#e49b86"/><stop offset="0.5" stop-color="#e59e89"/><stop offset="0.6" stop-color="#e5a18b"/><stop offset="0.7" stop-color="#e59f8a"/><stop offset="0.8" stop-color="#e59f8a"/><stop offset="0.9" stop-color="#e59f8a"/><stop offset="1" stop-color="#e59f8a"/></linearGradient><linearGradient id="hmi_15" gradientUnits="userSpaceOnUse" x1="58.5" x2="206.5"><stop offset="0" stop-color="#e6ad95"/><stop offset="0.1" stop-color="#e6ad95"/><stop offset="0.2" stop-color="#e5a790"/><stop offset="0.3" stop-color="#e5a18b"/><stop offset="0.4" stop-color="#e59e88"/><stop offset="0.5" stop-color="#e5a28c"/><stop offset="0.6" stop-color="#e5a48d"/><stop offset="0.7" stop-color="#e59f8a"/><stop offset="0.8" stop-color="#e59f8a"/><stop offset="0.9" stop-color="#e59f8a"/><stop offset="1" stop-color="#e59f8a"/></linearGradient><linearGradient id="hmi_16" gradientUnits="userSpaceOnUse" x1="58.5" x2="206.5"><stop offset="0" stop-color="#e6aa92"/><stop offset="0.1" stop-color="#e6aa92"/><stop offset="0.2" stop-color="#e5a48d"/><stop offset="0.3" stop-color="#e5a08a"/><stop offset="0.4" stop-color="#e5a18b"/><stop offset="0.5" stop-color="#e5a78f"/><stop offset="0.6" stop-color="#e5a790"/><stop offset="0.7" stop-color="#e59f8a"/><stop offset="0.8" stop-color="#e59f8a"/><stop offset="0.9" stop-color="#e59f8a"/><stop offset="1" stop-color="#e59f8a"/></linearGradient><linearGradient id="hmi_17" gradientUnits="userSpaceOnUse" x1="58.5" x2="206.5"><stop offset="0" stop-color="#e5a790"/><stop offset="0.1" stop-color="#e5a78f"/><stop offset="0.2" stop-color="#e5a18b"/><stop offset="0.3" stop-color="#e5a08a"/><stop offset="0.4" stop-color="#e5a48d"/><stop offset="0.5" stop-color="#e6aa92"/><stop offset="0.6" stop-color="#e6aa92"/><stop offset="0.7" stop-color="#e5a08a"/><stop offset="0.8" stop-color="#e59f89"/><stop offset="0.9" stop-color="#e59f89"/><stop offset="1" stop-color="#e59f89"/></linearGradient><linearGradient id="hmi_18" gradientUnits="userSpaceOnUse" x1="58.5" x2="206.5"><stop offset="0" stop-color="#e5a48d"/><stop offset="0.1" stop-color="#e5a28c"/><stop offset="0.2" stop-color="#e59f8a"/><stop offset="0.3" stop-color="#e5a28c"/><stop offset="0.4" stop-color="#e5a790"/><stop offset="0.5" stop-color="#e6ad95"/><stop offset="0.6" stop-color="#e6ac94"/><stop offset="0.7" stop-color="#e5a28c"/><stop offset="0.8" stop-color="#e59e88"/><stop offset="0.9" stop-color="#e59e88"/><stop offset="1" stop-color="#e59e88"/></linearGradient><linearGradient id="hmi_19" gradientUnits="userSpaceOnUse" x1="58.5" x2="206.5"><stop offset="0" stop-color="#e5a18b"/><stop offset="0.1" stop-color="#e59e89"/><stop offset="0.2" stop-color="#e59d88"/><stop offset="0.3" stop-color="#e5a58e"/><stop offset="0.4" stop-color="#e6aa92"/><stop offset="0.5" stop-color="#e6b097"/><stop offset="0.6" stop-color="#e6ae95"/><stop offset="0.7" stop-color="#e5a58e"/><stop offset="0.8" stop-color="#e59d87"/><stop offset="0.9" stop-color="#e59d87"/><stop offset="1" stop-color="#e59d87"/></linearGradient><linearGradient id="hmi_20" gradientUnits="userSpaceOnUse" x1="58.5" x2="206.5"><stop offset="0" stop-color="#e5a08a"/><stop offset="0.1" stop-color="#e49c87"/><stop offset="0.2" stop-color="#e49c87"/><stop offset="0.3" stop-color="#e5a58e"/><stop offset="0.4" stop-color="#e6ab93"/><stop offset="0.5" stop-color="#e6b197"/><stop offset="0.6" stop-color="#e6ae95"/><stop offset="0.7" stop-color="#e5a68e"/><stop offset="0.8" stop-color="#e59d88"/><stop offset="0.9" stop-color="#e49c87"/><stop offset="1" stop-color="#e49c87"/></linearGradient><linearGradient id="hmi_21" gradientUnits="userSpaceOnUse" x1="58.5" x2="206.5"><stop offset="0" stop-color="#e5a18b"/><stop offset="0.1" stop-color="#e49c87"/><stop offset="0.2" stop-color="#e49c87"/><stop offset="0.3" stop-color="#e5a28c"/><stop offset="0.4" stop-color="#e6a991"/><stop offset="0.5" stop-color="#e6af96"/><stop offset="0.6" stop-color="#e6ac94"/><stop offset="0.7" stop-color="#e5a68e"/><stop offset="0.8" stop-color="#e59f8a"/><stop offset="0.9" stop-color="#e49c87"/><stop offset="1" stop-color="#e49c87"/></linearGradient><linearGradient id="hmi_22" gradientUnits="userSpaceOnUse" x1="58.5" x2="206.5"><stop offset="0" stop-color="#e5a28c"/><stop offset="0.1" stop-color="#e49c87"/><stop offset="0.2" stop-color="#e49c87"/><stop offset="0.3" stop-color="#e5a08a"/><stop offset="0.4" stop-color="#e5a78f"/><stop offset="0.5" stop-color="#e6ad94"/><stop offset="0.6" stop-color="#e6aa92"/><stop offset="0.7" stop-color="#e5a68e"/><stop offset="0.8" stop-color="#e5a18b"/><stop offset="0.9" stop-color="#e49c87"/><stop offset="1" stop-color="#e49c87"/></linearGradient><linearGradient id="hmi_23" gradientUnits="userSpaceOnUse" x1="58.5" x2="206.5"><stop offset="0" stop-color="#e5a48d"/><stop offset="0.1" stop-color="#e59d88"/><stop offset="0.2" stop-color="#e49c87"/><stop offset="0.3" stop-color="#e59f89"/><stop offset="0.4" stop-color="#e5a58e"/><stop offset="0.5" stop-color="#e6aa92"/><stop offset="0.6" stop-color="#e5a890"/><stop offset="0.7" stop-color="#e5a78f"/><stop offset="0.8" stop-color="#e5a58e"/><stop offset="0.9" stop-color="#e59e88"/><stop offset="1" stop-color="#e49c87"/></linearGradient><linearGradient id="hmi_24" gradientUnits="userSpaceOnUse" x1="58.5" x2="206.5"><stop offset="0" stop-color="#e5a68e"/><stop offset="0.1" stop-color="#e59f8a"/><stop offset="0.2" stop-color="#e49c87"/><stop offset="0.3" stop-color="#e59e88"/><stop offset="0.4" stop-color="#e5a28c"/><stop offset="0.5" stop-color="#e5a790"/><stop offset="0.6" stop-color="#e5a68e"/><stop offset="0.7" stop-color="#e6a991"/><stop offset="0.8" stop-color="#e6aa92"/><stop offset="0.9" stop-color="#e5a18b"/><stop offset="1" stop-color="#e49c87"/></linearGradient><linearGradient id="hmi_25" gradientUnits="userSpaceOnUse" x1="58.5" x2="206.5"><stop offset="0" stop-color="#e5a890"/><stop offset="0.1" stop-color="#e5a18b"/><stop offset="0.2" stop-color="#e49c87"/><stop offset="0.3" stop-color="#e59d87"/><stop offset="0.4" stop-color="#e5a08a"/><stop offset="0.5" stop-color="#e5a48d"/><stop offset="0.6" stop-color="#e5a48d"/><stop offset="0.7" stop-color="#e6ab93"/><stop offset="0.8" stop-color="#e6af96"/><stop offset="0.9" stop-color="#e5a48d"/><stop offset="1" stop-color="#e49c87"/></linearGradient><linearGradient id="hmi_26" gradientUnits="userSpaceOnUse" x1="58.5" x2="206.5"><stop offset="0" stop-color="#e6a991"/><stop offset="0.1" stop-color="#e5a28c"/><stop offset="0.2" stop-color="#e59d87"/><stop offset="0.3" stop-color="#e59d87"/><stop offset="0.4" stop-color="#e59f8a"/><stop offset="0.5" stop-color="#e5a18b"/><stop offset="0.6" stop-color="#e5a18b"/><stop offset="0.7" stop-color="#e6ab93"/><stop offset="0.8" stop-color="#e6b198"/><stop offset="0.9" stop-color="#e5a68e"/><stop offset="1" stop-color="#e49c87"/></linearGradient><linearGradient id="hmi_27" gradientUnits="userSpaceOnUse" x1="58.5" x2="206.5"><stop offset="0" stop-color="#e6a991"/><stop offset="0.1" stop-color="#e5a28c"/><stop offset="0.2" stop-color="#e59e88"/><stop offset="0.3" stop-color="#e59e88"/><stop offset="0.4" stop-color="#e59f8a"/><stop offset="0.5" stop-color="#e59f8a"/><stop offset="0.6" stop-color="#e59f8a"/><stop offset="0.7" stop-color="#e6a991"/><stop offset="0.8" stop-color="#e6b097"/><stop offset="0.9" stop-color="#e5a68e"/><stop offset="1" stop-color="#e49c87"/></linearGradient><linearGradient id="hmi_28" gradientUnits="userSpaceOnUse" x1="58.5" x2="206.5"><stop offset="0" stop-color="#e6a991"/><stop offset="0.1" stop-color="#e5a28c"/><stop offset="0.2" stop-color="#e59f89"/><stop offset="0.3" stop-color="#e59f89"/><stop offset="0.4" stop-color="#e59f8a"/><stop offset="0.5" stop-color="#e59d88"/><stop offset="0.6" stop-color="#e59d88"/><stop offset="0.7" stop-color="#e5a78f"/><stop offset="0.8" stop-color="#e6af96"/><stop offset="0.9" stop-color="#e5a68e"/><stop offset="1" stop-color="#e49c87"/></linearGradient><linearGradient id="hmi_29" gradientUnits="userSpaceOnUse" x1="58.5" x2="206.5"><stop offset="0" stop-color="#e5a891"/><stop offset="0.1" stop-color="#e5a28c"/><stop offset="0.2" stop-color="#e5a08a"/><stop offset="0.3" stop-color="#e5a08a"/><stop offset="0.4" stop-color="#e59f8a"/><stop offset="0.5" stop-color="#e49c87"/><stop offset="0.6" stop-color="#e49c87"/><stop offset="0.7" stop-color="#e5a58e"/><stop offset="0.8" stop-color="#e6ae95"/><stop offset="0.9" stop-color="#e5a58e"/><stop offset="1" stop-color="#e49c87"/></linearGradient><linearGradient id="hmi_30" gradientUnits="userSpaceOnUse" x1="58.5" x2="206.5"><stop offset="0" stop-color="#e5a790"/><stop offset="0.1" stop-color="#e5a28c"/><stop offset="0.2" stop-color="#e5a18b"/><stop offset="0.3" stop-color="#e5a18b"/><stop offset="0.4" stop-color="#e59f8a"/><stop offset="0.5" stop-color="#e49b86"/><stop offset="0.6" stop-color="#e49b86"/><stop offset="0.7" stop-color="#e5a48d"/><stop offset="0.8" stop-color="#e6ac94"/><stop offset="0.9" stop-color="#e5a48d"/><stop offset="1" stop-color="#e49c87"/></linearGradient><linearGradient id="hmi_31" gradientUnits="userSpaceOnUse" x1="58.5" x2="206.5"><stop offset="0" stop-color="#e5a68f"/><stop offset="0.1" stop-color="#e5a28c"/><stop offset="0.2" stop-color="#e5a28c"/><stop offset="0.3" stop-color="#e5a28c"/><stop offset="0.4" stop-color="#e59f8a"/><stop offset="0.5" stop-color="#e49a85"/><stop offset="0.6" stop-color="#e49a85"/><stop offset="0.7" stop-color="#e5a38c"/><stop offset="0.8" stop-color="#e6aa92"/><stop offset="0.9" stop-color="#e5a38c"/><stop offset="1" stop-color="#e49c87"/></linearGradient><linearGradient id="hmi_32" gradientUnits="userSpaceOnUse" x1="58.5" x2="206.5"><stop offset="0" stop-color="#e5a68e"/><stop offset="0.1" stop-color="#e5a28c"/><stop offset="0.2" stop-color="#e5a28c"/><stop offset="0.3" stop-color="#e5a28c"/><stop offset="0.4" stop-color="#e59f8a"/><stop offset="0.5" stop-color="#e49984"/><stop offset="0.6" stop-color="#e49984"/><stop offset="0.7" stop-color="#e5a28c"/><stop offset="0.8" stop-color="#e6a991"/><stop offset="0.9" stop-color="#e5a28c"/><stop offset="1" stop-color="#e49c87"/></linearGradient><linearGradient id="hmi_33" gradientUnits="userSpaceOnUse" x1="58.5" x2="206.5"><stop offset="0" stop-color="#e5a68e"/><stop offset="0.1" stop-color="#e5a28c"/><stop offset="0.2" stop-color="#e5a28c"/><stop offset="0.3" stop-color="#e5a28c"/><stop offset="0.4" stop-color="#e59f8a"/><stop offset="0.5" stop-color="#e49984"/><stop offset="0.6" stop-color="#e49984"/><stop offset="0.7" stop-color="#e5a28c"/><stop offset="0.8" stop-color="#e6a991"/><stop offset="0.9" stop-color="#e5a28c"/><stop offset="1" stop-color="#e49c87"/></linearGradient><clipPath id="chmj"><rect x="300.2" y="933" width="148" height="148"/></clipPath><linearGradient id="hmj_0" gradientUnits="userSpaceOnUse" x1="300.2" x2="448.2"><stop offset="0" stop-color="#e8c6a8"/><stop offset="0.1" stop-color="#e8c6a8"/><stop offset="0.2" stop-color="#e8c3a5"/><stop offset="0.3" stop-color="#e7bda1"/><stop offset="0.4" stop-color="#e7b59a"/><stop offset="0.5" stop-color="#e6af96"/><stop offset="0.6" stop-color="#e6ac94"/><stop offset="0.7" stop-color="#e6ac94"/><stop offset="0.8" stop-color="#e6af96"/><stop offset="0.9" stop-color="#e5a68e"/><stop offset="1" stop-color="#e49c87"/></linearGradient><linearGradient id="hmj_1" gradientUnits="userSpaceOnUse" x1="300.2" x2="448.2"><stop offset="0" stop-color="#e8c6a8"/><stop offset="0.1" stop-color="#e8c6a8"/><stop offset="0.2" stop-color="#e8c3a5"/><stop offset="0.3" stop-color="#e7bda1"/><stop offset="0.4" stop-color="#e7b59a"/><stop offset="0.5" stop-color="#e6af96"/><stop offset="0.6" stop-color="#e6ac94"/><stop offset="0.7" stop-color="#e6ac94"/><stop offset="0.8" stop-color="#e6af96"/><stop offset="0.9" stop-color="#e5a68e"/><stop offset="1" stop-color="#e49c87"/></linearGradient><linearGradient id="hmj_2" gradientUnits="userSpaceOnUse" x1="300.2" x2="448.2"><stop offset="0" stop-color="#e8c7a8"/><stop offset="0.1" stop-color="#e8c7a8"/><stop offset="0.2" stop-color="#e8c4a6"/><stop offset="0.3" stop-color="#e8bea1"/><stop offset="0.4" stop-color="#e7b69b"/><stop offset="0.5" stop-color="#e6af96"/><stop offset="0.6" stop-color="#e6ac94"/><stop offset="0.7" stop-color="#e6ab93"/><stop offset="0.8" stop-color="#e6ad95"/><stop offset="0.9" stop-color="#e5a58e"/><stop offset="1" stop-color="#e49c87"/></linearGradient><linearGradient id="hmj_3" gradientUnits="userSpaceOnUse" x1="300.2" x2="448.2"><stop offset="0" stop-color="#e8c8a9"/><stop offset="0.1" stop-color="#e8c8a9"/><stop offset="0.2" stop-color="#e8c6a8"/><stop offset="0.3" stop-color="#e8c0a3"/><stop offset="0.4" stop-color="#e7b89c"/><stop offset="0.5" stop-color="#e6b097"/><stop offset="0.6" stop-color="#e6ac94"/><stop offset="0.7" stop-color="#e6aa92"/><stop offset="0.8" stop-color="#e6aa92"/><stop offset="0.9" stop-color="#e5a28c"/><stop offset="1" stop-color="#e49b86"/></linearGradient><linearGradient id="hmj_4" gradientUnits="userSpaceOnUse" x1="300.2" x2="448.2"><stop offset="0" stop-color="#e8c9aa"/><stop offset="0.1" stop-color="#e8c9aa"/><stop offset="0.2" stop-color="#e8c8a9"/><stop offset="0.3" stop-color="#e8c2a4"/><stop offset="0.4" stop-color="#e7b99e"/><stop offset="0.5" stop-color="#e6b198"/><stop offset="0.6" stop-color="#e6ac94"/><stop offset="0.7" stop-color="#e6a991"/><stop offset="0.8" stop-color="#e5a790"/><stop offset="0.9" stop-color="#e5a08a"/><stop offset="1" stop-color="#e49a85"/></linearGradient><linearGradient id="hmj_5" gradientUnits="userSpaceOnUse" x1="300.2" x2="448.2"><stop offset="0" stop-color="#e8caaa"/><stop offset="0.1" stop-color="#e8caaa"/><stop offset="0.2" stop-color="#e8caaa"/><stop offset="0.3" stop-color="#e8c4a6"/><stop offset="0.4" stop-color="#e7bb9f"/><stop offset="0.5" stop-color="#e6b298"/><stop offset="0.6" stop-color="#e6ac94"/><stop offset="0.7" stop-color="#e5a891"/><stop offset="0.8" stop-color="#e5a58e"/><stop offset="0.9" stop-color="#e59f89"/><stop offset="1" stop-color="#e49984"/></linearGradient><linearGradient id="hmj_6" gradientUnits="userSpaceOnUse" x1="300.2" x2="448.2"><stop offset="0" stop-color="#e8cbab"/><stop offset="0.1" stop-color="#e8cbab"/><stop offset="0.2" stop-color="#e8cbab"/><stop offset="0.3" stop-color="#e8c6a8"/><stop offset="0.4" stop-color="#e7bda1"/><stop offset="0.5" stop-color="#e6b399"/><stop offset="0.6" stop-color="#e6ac94"/><stop offset="0.7" stop-color="#e5a790"/><stop offset="0.8" stop-color="#e5a28c"/><stop offset="0.9" stop-color="#e59e88"/><stop offset="1" stop-color="#e49984"/></linearGradient><linearGradient id="hmj_7" gradientUnits="userSpaceOnUse" x1="300.2" x2="448.2"><stop offset="0" stop-color="#e8ccac"/><stop offset="0.1" stop-color="#e8ccac"/><stop offset="0.2" stop-color="#e8ccac"/><stop offset="0.3" stop-color="#e8c8a9"/><stop offset="0.4" stop-color="#e8bfa2"/><stop offset="0.5" stop-color="#e7b49a"/><stop offset="0.6" stop-color="#e6ac94"/><stop offset="0.7" stop-color="#e5a68f"/><stop offset="0.8" stop-color="#e5a08a"/><stop offset="0.9" stop-color="#e59d87"/><stop offset="1" stop-color="#e49984"/></linearGradient><linearGradient id="hmj_8" gradientUnits="userSpaceOnUse" x1="300.2" x2="448.2"><stop offset="0" stop-color="#e8ccac"/><stop offset="0.1" stop-color="#e8ccac"/><stop offset="0.2" stop-color="#e8ccac"/><stop offset="0.3" stop-color="#e8c9aa"/><stop offset="0.4" stop-color="#e8c1a4"/><stop offset="0.5" stop-color="#e7b69b"/><stop offset="0.6" stop-color="#e6ad94"/><stop offset="0.7" stop-color="#e5a68e"/><stop offset="0.8" stop-color="#e59f8a"/><stop offset="0.9" stop-color="#e49c87"/><stop offset="1" stop-color="#e49984"/></linearGradient><linearGradient id="hmj_9" gradientUnits="userSpaceOnUse" x1="300.2" x2="448.2"><stop offset="0" stop-color="#e8ccac"/><stop offset="0.1" stop-color="#e8ccac"/><stop offset="0.2" stop-color="#e8ccac"/><stop offset="0.3" stop-color="#e8c9aa"/><stop offset="0.4" stop-color="#e8c3a5"/><stop offset="0.5" stop-color="#e7b99e"/><stop offset="0.6" stop-color="#e6af96"/><stop offset="0.7" stop-color="#e5a68e"/><stop offset="0.8" stop-color="#e59f8a"/><stop offset="0.9" stop-color="#e49c87"/><stop offset="1" stop-color="#e49984"/></linearGradient><linearGradient id="hmj_10" gradientUnits="userSpaceOnUse" x1="300.2" x2="448.2"><stop offset="0" stop-color="#e8ccac"/><stop offset="0.1" stop-color="#e8ccac"/><stop offset="0.2" stop-color="#e8ccac"/><stop offset="0.3" stop-color="#e8c9aa"/><stop offset="0.4" stop-color="#e8c5a7"/><stop offset="0.5" stop-color="#e7bca0"/><stop offset="0.6" stop-color="#e6b197"/><stop offset="0.7" stop-color="#e5a68e"/><stop offset="0.8" stop-color="#e59f8a"/><stop offset="0.9" stop-color="#e49c87"/><stop offset="1" stop-color="#e49984"/></linearGradient><linearGradient id="hmj_11" gradientUnits="userSpaceOnUse" x1="300.2" x2="448.2"><stop offset="0" stop-color="#e8ccac"/><stop offset="0.1" stop-color="#e8ccac"/><stop offset="0.2" stop-color="#e8ccac"/><stop offset="0.3" stop-color="#e8c9aa"/><stop offset="0.4" stop-color="#e8c6a8"/><stop offset="0.5" stop-color="#e8bea1"/><stop offset="0.6" stop-color="#e6b399"/><stop offset="0.7" stop-color="#e5a78f"/><stop offset="0.8" stop-color="#e59f8a"/><stop offset="0.9" stop-color="#e49c87"/><stop offset="1" stop-color="#e49a85"/></linearGradient><linearGradient id="hmj_12" gradientUnits="userSpaceOnUse" x1="300.2" x2="448.2"><stop offset="0" stop-color="#e8ccac"/><stop offset="0.1" stop-color="#e8ccac"/><stop offset="0.2" stop-color="#e8ccac"/><stop offset="0.3" stop-color="#e8c9aa"/><stop offset="0.4" stop-color="#e8c6a8"/><stop offset="0.5" stop-color="#e8c0a3"/><stop offset="0.6" stop-color="#e7b69b"/><stop offset="0.7" stop-color="#e6a991"/><stop offset="0.8" stop-color="#e59f8a"/><stop offset="0.9" stop-color="#e49c87"/><stop offset="1" stop-color="#e49b86"/></linearGradient><linearGradient id="hmj_13" gradientUnits="userSpaceOnUse" x1="300.2" x2="448.2"><stop offset="0" stop-color="#e8ccac"/><stop offset="0.1" stop-color="#e8ccac"/><stop offset="0.2" stop-color="#e8ccac"/><stop offset="0.3" stop-color="#e8c9aa"/><stop offset="0.4" stop-color="#e8c6a8"/><stop offset="0.5" stop-color="#e8c2a4"/><stop offset="0.6" stop-color="#e7b99e"/><stop offset="0.7" stop-color="#e6ab93"/><stop offset="0.8" stop-color="#e59f8a"/><stop offset="0.9" stop-color="#e49c87"/><stop offset="1" stop-color="#e49c87"/></linearGradient><linearGradient id="hmj_14" gradientUnits="userSpaceOnUse" x1="300.2" x2="448.2"><stop offset="0" stop-color="#e8ccac"/><stop offset="0.1" stop-color="#e8ccac"/><stop offset="0.2" stop-color="#e8ccac"/><stop offset="0.3" stop-color="#e8c9aa"/><stop offset="0.4" stop-color="#e8c7a8"/><stop offset="0.5" stop-color="#e8c5a6"/><stop offset="0.6" stop-color="#e7bea1"/><stop offset="0.7" stop-color="#e6af96"/><stop offset="0.8" stop-color="#e5a18b"/><stop offset="0.9" stop-color="#e59d88"/><stop offset="1" stop-color="#e59e88"/></linearGradient><linearGradient id="hmj_15" gradientUnits="userSpaceOnUse" x1="300.2" x2="448.2"><stop offset="0" stop-color="#e8cbab"/><stop offset="0.1" stop-color="#e8cbab"/><stop offset="0.2" stop-color="#e8ccac"/><stop offset="0.3" stop-color="#e8c9aa"/><stop offset="0.4" stop-color="#e8c8a9"/><stop offset="0.5" stop-color="#e8c8a9"/><stop offset="0.6" stop-color="#e8c5a6"/><stop offset="0.7" stop-color="#e7b59a"/><stop offset="0.8" stop-color="#e5a68e"/><stop offset="0.9" stop-color="#e59f8a"/><stop offset="1" stop-color="#e5a18b"/></linearGradient><linearGradient id="hmj_16" gradientUnits="userSpaceOnUse" x1="300.2" x2="448.2"><stop offset="0" stop-color="#e8caaa"/><stop offset="0.1" stop-color="#e8caaa"/><stop offset="0.2" stop-color="#e8ccac"/><stop offset="0.3" stop-color="#e8c9aa"/><stop offset="0.4" stop-color="#e8c9aa"/><stop offset="0.5" stop-color="#e8cbab"/><stop offset="0.6" stop-color="#e8ccac"/><stop offset="0.7" stop-color="#e7ba9f"/><stop offset="0.8" stop-color="#e6aa92"/><stop offset="0.9" stop-color="#e5a18b"/><stop offset="1" stop-color="#e5a48d"/></linearGradient><linearGradient id="hmj_17" gradientUnits="userSpaceOnUse" x1="300.2" x2="448.2"><stop offset="0" stop-color="#e8c9aa"/><stop offset="0.1" stop-color="#e8c9aa"/><stop offset="0.2" stop-color="#e8ccac"/><stop offset="0.3" stop-color="#e8c9aa"/><stop offset="0.4" stop-color="#e8caaa"/><stop offset="0.5" stop-color="#e8ceae"/><stop offset="0.6" stop-color="#e8d2b1"/><stop offset="0.7" stop-color="#e8c0a3"/><stop offset="0.8" stop-color="#e6af96"/><stop offset="0.9" stop-color="#e5a58e"/><stop offset="1" stop-color="#e5a890"/></linearGradient><linearGradient id="hmj_18" gradientUnits="userSpaceOnUse" x1="300.2" x2="448.2"><stop offset="0" stop-color="#e8c8a9"/><stop offset="0.1" stop-color="#e8c8a9"/><stop offset="0.2" stop-color="#e8cbab"/><stop offset="0.3" stop-color="#e8c9aa"/><stop offset="0.4" stop-color="#e8cbab"/><stop offset="0.5" stop-color="#e8d1b0"/><stop offset="0.6" stop-color="#e8d6b4"/><stop offset="0.7" stop-color="#e8c6a8"/><stop offset="0.8" stop-color="#e7b59a"/><stop offset="0.9" stop-color="#e6aa92"/><stop offset="1" stop-color="#e6ac94"/></linearGradient><linearGradient id="hmj_19" gradientUnits="userSpaceOnUse" x1="300.2" x2="448.2"><stop offset="0" stop-color="#e8c7a8"/><stop offset="0.1" stop-color="#e8c7a8"/><stop offset="0.2" stop-color="#e8caaa"/><stop offset="0.3" stop-color="#e8c9aa"/><stop offset="0.4" stop-color="#e8ccac"/><stop offset="0.5" stop-color="#e8d4b3"/><stop offset="0.6" stop-color="#e8dab7"/><stop offset="0.7" stop-color="#e8ccac"/><stop offset="0.8" stop-color="#e7ba9f"/><stop offset="0.9" stop-color="#e6af96"/><stop offset="1" stop-color="#e6b097"/></linearGradient><linearGradient id="hmj_20" gradientUnits="userSpaceOnUse" x1="300.2" x2="448.2"><stop offset="0" stop-color="#e8c6a7"/><stop offset="0.1" stop-color="#e8c6a7"/><stop offset="0.2" stop-color="#e8c8a9"/><stop offset="0.3" stop-color="#e8c8a9"/><stop offset="0.4" stop-color="#e8cbab"/><stop offset="0.5" stop-color="#e8d5b3"/><stop offset="0.6" stop-color="#e8dbb9"/><stop offset="0.7" stop-color="#e8d1b0"/><stop offset="0.8" stop-color="#e8c0a2"/><stop offset="0.9" stop-color="#e7b49a"/><stop offset="1" stop-color="#e6b49a"/></linearGradient><linearGradient id="hmj_21" gradientUnits="userSpaceOnUse" x1="300.2" x2="448.2"><stop offset="0" stop-color="#e8c5a6"/><stop offset="0.1" stop-color="#e8c5a6"/><stop offset="0.2" stop-color="#e8c6a8"/><stop offset="0.3" stop-color="#e8c5a6"/><stop offset="0.4" stop-color="#e8c8a9"/><stop offset="0.5" stop-color="#e8d3b2"/><stop offset="0.6" stop-color="#e8dab8"/><stop offset="0.7" stop-color="#e8d4b3"/><stop offset="0.8" stop-color="#e8c5a6"/><stop offset="0.9" stop-color="#e7b99e"/><stop offset="1" stop-color="#e7b89c"/></linearGradient><linearGradient id="hmj_22" gradientUnits="userSpaceOnUse" x1="300.2" x2="448.2"><stop offset="0" stop-color="#e8c4a5"/><stop offset="0.1" stop-color="#e8c4a5"/><stop offset="0.2" stop-color="#e8c4a6"/><stop offset="0.3" stop-color="#e8c2a4"/><stop offset="0.4" stop-color="#e8c5a6"/><stop offset="0.5" stop-color="#e8d1b0"/><stop offset="0.6" stop-color="#e8d9b7"/><stop offset="0.7" stop-color="#e8d7b5"/><stop offset="0.8" stop-color="#e8caaa"/><stop offset="0.9" stop-color="#e7bea1"/><stop offset="1" stop-color="#e7bb9f"/></linearGradient><linearGradient id="hmj_23" gradientUnits="userSpaceOnUse" x1="300.2" x2="448.2"><stop offset="0" stop-color="#e8c3a5"/><stop offset="0.1" stop-color="#e8c3a5"/><stop offset="0.2" stop-color="#e8c3a5"/><stop offset="0.3" stop-color="#e8bfa2"/><stop offset="0.4" stop-color="#e8c1a3"/><stop offset="0.5" stop-color="#e8ceae"/><stop offset="0.6" stop-color="#e8d8b6"/><stop offset="0.7" stop-color="#e8d9b7"/><stop offset="0.8" stop-color="#e8ceae"/><stop offset="0.9" stop-color="#e8c3a5"/><stop offset="1" stop-color="#e8bfa2"/></linearGradient><linearGradient id="hmj_24" gradientUnits="userSpaceOnUse" x1="300.2" x2="448.2"><stop offset="0" stop-color="#e8c3a5"/><stop offset="0.1" stop-color="#e8c3a5"/><stop offset="0.2" stop-color="#e8c2a4"/><stop offset="0.3" stop-color="#e7bda1"/><stop offset="0.4" stop-color="#e7bca0"/><stop offset="0.5" stop-color="#e8cbab"/><stop offset="0.6" stop-color="#e8d6b4"/><stop offset="0.7" stop-color="#e8dab8"/><stop offset="0.8" stop-color="#e8d3b2"/><stop offset="0.9" stop-color="#e8c8a9"/><stop offset="1" stop-color="#e8c3a5"/></linearGradient><linearGradient id="hmj_25" gradientUnits="userSpaceOnUse" x1="300.2" x2="448.2"><stop offset="0" stop-color="#e8c3a5"/><stop offset="0.1" stop-color="#e8c3a5"/><stop offset="0.2" stop-color="#e8c1a3"/><stop offset="0.3" stop-color="#e7bb9f"/><stop offset="0.4" stop-color="#e7b79c"/><stop offset="0.5" stop-color="#e8c8a9"/><stop offset="0.6" stop-color="#e8d4b2"/><stop offset="0.7" stop-color="#e8dbb9"/><stop offset="0.8" stop-color="#e8d7b5"/><stop offset="0.9" stop-color="#e8cdad"/><stop offset="1" stop-color="#e8c7a8"/></linearGradient><linearGradient id="hmj_26" gradientUnits="userSpaceOnUse" x1="300.2" x2="448.2"><stop offset="0" stop-color="#e8c4a5"/><stop offset="0.1" stop-color="#e8c4a5"/><stop offset="0.2" stop-color="#e8c1a3"/><stop offset="0.3" stop-color="#e7bb9f"/><stop offset="0.4" stop-color="#e7b69b"/><stop offset="0.5" stop-color="#e8c7a8"/><stop offset="0.6" stop-color="#e8d2b1"/><stop offset="0.7" stop-color="#e8dbb9"/><stop offset="0.8" stop-color="#e8d9b7"/><stop offset="0.9" stop-color="#e8d1b0"/><stop offset="1" stop-color="#e8cbac"/></linearGradient><linearGradient id="hmj_27" gradientUnits="userSpaceOnUse" x1="300.2" x2="448.2"><stop offset="0" stop-color="#e8c5a6"/><stop offset="0.1" stop-color="#e8c5a6"/><stop offset="0.2" stop-color="#e8c2a4"/><stop offset="0.3" stop-color="#e7bca0"/><stop offset="0.4" stop-color="#e7b99e"/><stop offset="0.5" stop-color="#e8c8a9"/><stop offset="0.6" stop-color="#e8d1b0"/><stop offset="0.7" stop-color="#e8dab8"/><stop offset="0.8" stop-color="#e8dab8"/><stop offset="0.9" stop-color="#e8d4b3"/><stop offset="1" stop-color="#e8d0af"/></linearGradient><linearGradient id="hmj_28" gradientUnits="userSpaceOnUse" x1="300.2" x2="448.2"><stop offset="0" stop-color="#e8c6a7"/><stop offset="0.1" stop-color="#e8c6a7"/><stop offset="0.2" stop-color="#e8c3a5"/><stop offset="0.3" stop-color="#e7bda0"/><stop offset="0.4" stop-color="#e7bca0"/><stop offset="0.5" stop-color="#e8c9aa"/><stop offset="0.6" stop-color="#e8d0af"/><stop offset="0.7" stop-color="#e8d9b7"/><stop offset="0.8" stop-color="#e8dbb9"/><stop offset="0.9" stop-color="#e8d7b5"/><stop offset="1" stop-color="#e8d4b2"/></linearGradient><linearGradient id="hmj_29" gradientUnits="userSpaceOnUse" x1="300.2" x2="448.2"><stop offset="0" stop-color="#e8c7a8"/><stop offset="0.1" stop-color="#e8c7a8"/><stop offset="0.2" stop-color="#e8c4a5"/><stop offset="0.3" stop-color="#e8bfa2"/><stop offset="0.4" stop-color="#e8bfa2"/><stop offset="0.5" stop-color="#e8caaa"/><stop offset="0.6" stop-color="#e8d0af"/><stop offset="0.7" stop-color="#e8d8b6"/><stop offset="0.8" stop-color="#e8dcb9"/><stop offset="0.9" stop-color="#e8dab7"/><stop offset="1" stop-color="#e8d7b5"/></linearGradient><linearGradient id="hmj_30" gradientUnits="userSpaceOnUse" x1="300.2" x2="448.2"><stop offset="0" stop-color="#e8c8a9"/><stop offset="0.1" stop-color="#e8c8a9"/><stop offset="0.2" stop-color="#e8c5a6"/><stop offset="0.3" stop-color="#e8c2a4"/><stop offset="0.4" stop-color="#e8c2a4"/><stop offset="0.5" stop-color="#e8cbab"/><stop offset="0.6" stop-color="#e8d0af"/><stop offset="0.7" stop-color="#e8d7b5"/><stop offset="0.8" stop-color="#e8dcb9"/><stop offset="0.9" stop-color="#e8dcb9"/><stop offset="1" stop-color="#e8dab8"/></linearGradient><linearGradient id="hmj_31" gradientUnits="userSpaceOnUse" x1="300.2" x2="448.2"><stop offset="0" stop-color="#e8c9aa"/><stop offset="0.1" stop-color="#e8c9aa"/><stop offset="0.2" stop-color="#e8c6a7"/><stop offset="0.3" stop-color="#e8c5a6"/><stop offset="0.4" stop-color="#e8c5a6"/><stop offset="0.5" stop-color="#e8ccac"/><stop offset="0.6" stop-color="#e8d0af"/><stop offset="0.7" stop-color="#e8d6b4"/><stop offset="0.8" stop-color="#e8dcb9"/><stop offset="0.9" stop-color="#e8ddba"/><stop offset="1" stop-color="#e8ddba"/></linearGradient><linearGradient id="hmj_32" gradientUnits="userSpaceOnUse" x1="300.2" x2="448.2"><stop offset="0" stop-color="#e8c9aa"/><stop offset="0.1" stop-color="#e8c9aa"/><stop offset="0.2" stop-color="#e8c6a8"/><stop offset="0.3" stop-color="#e8c6a8"/><stop offset="0.4" stop-color="#e8c6a8"/><stop offset="0.5" stop-color="#e8ccac"/><stop offset="0.6" stop-color="#e8d0af"/><stop offset="0.7" stop-color="#e8d6b4"/><stop offset="0.8" stop-color="#e8dcb9"/><stop offset="0.9" stop-color="#e8debb"/><stop offset="1" stop-color="#e8debb"/></linearGradient><linearGradient id="hmj_33" gradientUnits="userSpaceOnUse" x1="300.2" x2="448.2"><stop offset="0" stop-color="#e8c9aa"/><stop offset="0.1" stop-color="#e8c9aa"/><stop offset="0.2" stop-color="#e8c6a8"/><stop offset="0.3" stop-color="#e8c6a8"/><stop offset="0.4" stop-color="#e8c6a8"/><stop offset="0.5" stop-color="#e8ccac"/><stop offset="0.6" stop-color="#e8d0af"/><stop offset="0.7" stop-color="#e8d6b4"/><stop offset="0.8" stop-color="#e8dcb9"/><stop offset="0.9" stop-color="#e8debb"/><stop offset="1" stop-color="#e8debb"/></linearGradient><clipPath id="chmk"><rect x="547.3" y="933.2" width="148" height="148"/></clipPath><linearGradient id="hmk_0" gradientUnits="userSpaceOnUse" x1="547.3" x2="695.3"><stop offset="0" stop-color="#b4cab6"/><stop offset="0.1" stop-color="#b4cab6"/><stop offset="0.2" stop-color="#b4cab6"/><stop offset="0.3" stop-color="#b4cab6"/><stop offset="0.4" stop-color="#b4cab6"/><stop offset="0.5" stop-color="#b4cab6"/><stop offset="0.6" stop-color="#bacdb8"/><stop offset="0.7" stop-color="#c0d1bb"/><stop offset="0.8" stop-color="#c6d4bd"/><stop offset="0.9" stop-color="#cbd7bf"/><stop offset="1" stop-color="#d1dbc1"/></linearGradient><linearGradient id="hmk_1" gradientUnits="userSpaceOnUse" x1="547.3" x2="695.3"><stop offset="0" stop-color="#b4cab6"/><stop offset="0.1" stop-color="#b4cab6"/><stop offset="0.2" stop-color="#b4cab6"/><stop offset="0.3" stop-color="#b4cab6"/><stop offset="0.4" stop-color="#b4cab6"/><stop offset="0.5" stop-color="#b4cab6"/><stop offset="0.6" stop-color="#bacdb8"/><stop offset="0.7" stop-color="#c0d1bb"/><stop offset="0.8" stop-color="#c6d4bd"/><stop offset="0.9" stop-color="#cbd7bf"/><stop offset="1" stop-color="#d1dbc1"/></linearGradient><linearGradient id="hmk_2" gradientUnits="userSpaceOnUse" x1="547.3" x2="695.3"><stop offset="0" stop-color="#b4cab6"/><stop offset="0.1" stop-color="#b5cab7"/><stop offset="0.2" stop-color="#b5cab7"/><stop offset="0.3" stop-color="#b5cab7"/><stop offset="0.4" stop-color="#b4cab6"/><stop offset="0.5" stop-color="#b3c9b6"/><stop offset="0.6" stop-color="#b9cdb8"/><stop offset="0.7" stop-color="#c0d1bb"/><stop offset="0.8" stop-color="#c8d5bd"/><stop offset="0.9" stop-color="#cdd8bf"/><stop offset="1" stop-color="#d2dbc1"/></linearGradient><linearGradient id="hmk_3" gradientUnits="userSpaceOnUse" x1="547.3" x2="695.3"><stop offset="0" stop-color="#b4cab6"/><stop offset="0.1" stop-color="#b7cbb7"/><stop offset="0.2" stop-color="#b7cbb7"/><stop offset="0.3" stop-color="#b7cbb7"/><stop offset="0.4" stop-color="#b4cab6"/><stop offset="0.5" stop-color="#b1c8b5"/><stop offset="0.6" stop-color="#b7cbb7"/><stop offset="0.7" stop-color="#c0d1bb"/><stop offset="0.8" stop-color="#cbd7bf"/><stop offset="0.9" stop-color="#d1dbc1"/><stop offset="1" stop-color="#d4dcc2"/></linearGradient><linearGradient id="hmk_4" gradientUnits="userSpaceOnUse" x1="547.3" x2="695.3"><stop offset="0" stop-color="#b4cab6"/><stop offset="0.1" stop-color="#b9cdb8"/><stop offset="0.2" stop-color="#b9cdb8"/><stop offset="0.3" stop-color="#b9cdb8"/><stop offset="0.4" stop-color="#b4cab6"/><stop offset="0.5" stop-color="#afc7b5"/><stop offset="0.6" stop-color="#b5cab7"/><stop offset="0.7" stop-color="#c0d1bb"/><stop offset="0.8" stop-color="#cfdac0"/><stop offset="0.9" stop-color="#d5ddc2"/><stop offset="1" stop-color="#d6ddc3"/></linearGradient><linearGradient id="hmk_5" gradientUnits="userSpaceOnUse" x1="547.3" x2="695.3"><stop offset="0" stop-color="#b5cab7"/><stop offset="0.1" stop-color="#bacdb8"/><stop offset="0.2" stop-color="#bbceb9"/><stop offset="0.3" stop-color="#bbceb9"/><stop offset="0.4" stop-color="#b5cab7"/><stop offset="0.5" stop-color="#afc7b5"/><stop offset="0.6" stop-color="#b4cab6"/><stop offset="0.7" stop-color="#c1d1bb"/><stop offset="0.8" stop-color="#d3dcc2"/><stop offset="0.9" stop-color="#d7dec3"/><stop offset="1" stop-color="#d7dec3"/></linearGradient><linearGradient id="hmk_6" gradientUnits="userSpaceOnUse" x1="547.3" x2="695.3"><stop offset="0" stop-color="#b7cbb7"/><stop offset="0.1" stop-color="#bacdb8"/><stop offset="0.2" stop-color="#bdcfba"/><stop offset="0.3" stop-color="#bdcfba"/><stop offset="0.4" stop-color="#b7cbb7"/><stop offset="0.5" stop-color="#b1c8b5"/><stop offset="0.6" stop-color="#b4cab6"/><stop offset="0.7" stop-color="#c3d2bc"/><stop offset="0.8" stop-color="#d7dec3"/><stop offset="0.9" stop-color="#d8dfc3"/><stop offset="1" stop-color="#d8dfc3"/></linearGradient><linearGradient id="hmk_7" gradientUnits="userSpaceOnUse" x1="547.3" x2="695.3"><stop offset="0" stop-color="#b9cdb8"/><stop offset="0.1" stop-color="#bacdb8"/><stop offset="0.2" stop-color="#bfd0ba"/><stop offset="0.3" stop-color="#bfd0ba"/><stop offset="0.4" stop-color="#b9cdb8"/><stop offset="0.5" stop-color="#b3c9b6"/><stop offset="0.6" stop-color="#b4cab6"/><stop offset="0.7" stop-color="#c5d3bc"/><stop offset="0.8" stop-color="#d9dfc4"/><stop offset="0.9" stop-color="#d9dfc4"/><stop offset="1" stop-color="#d9dfc4"/></linearGradient><linearGradient id="hmk_8" gradientUnits="userSpaceOnUse" x1="547.3" x2="695.3"><stop offset="0" stop-color="#b9cdb8"/><stop offset="0.1" stop-color="#b9cdb8"/><stop offset="0.2" stop-color="#c0d1bb"/><stop offset="0.3" stop-color="#c2d2bb"/><stop offset="0.4" stop-color="#becfba"/><stop offset="0.5" stop-color="#b7cbb7"/><stop offset="0.6" stop-color="#b6cbb7"/><stop offset="0.7" stop-color="#c7d4bd"/><stop offset="0.8" stop-color="#d9dfc4"/><stop offset="0.9" stop-color="#dae0c4"/><stop offset="1" stop-color="#dae0c4"/></linearGradient><linearGradient id="hmk_9" gradientUnits="userSpaceOnUse" x1="547.3" x2="695.3"><stop offset="0" stop-color="#b7cbb7"/><stop offset="0.1" stop-color="#b7cbb7"/><stop offset="0.2" stop-color="#c0d1bb"/><stop offset="0.3" stop-color="#c6d4bd"/><stop offset="0.4" stop-color="#c6d4bd"/><stop offset="0.5" stop-color="#bdcfba"/><stop offset="0.6" stop-color="#bacdb8"/><stop offset="0.7" stop-color="#c9d6be"/><stop offset="0.8" stop-color="#d8dfc3"/><stop offset="0.9" stop-color="#dae0c4"/><stop offset="1" stop-color="#dae0c4"/></linearGradient><linearGradient id="hmk_10" gradientUnits="userSpaceOnUse" x1="547.3" x2="695.3"><stop offset="0" stop-color="#b5cab7"/><stop offset="0.1" stop-color="#b5cab7"/><stop offset="0.2" stop-color="#c0d1bb"/><stop offset="0.3" stop-color="#c9d6be"/><stop offset="0.4" stop-color="#cdd8bf"/><stop offset="0.5" stop-color="#c3d2bc"/><stop offset="0.6" stop-color="#becfba"/><stop offset="0.7" stop-color="#cad7be"/><stop offset="0.8" stop-color="#d7dec3"/><stop offset="0.9" stop-color="#dae0c4"/><stop offset="1" stop-color="#dae0c4"/></linearGradient><linearGradient id="hmk_11" gradientUnits="userSpaceOnUse" x1="547.3" x2="695.3"><stop offset="0" stop-color="#b4cab6"/><stop offset="0.1" stop-color="#b3c9b6"/><stop offset="0.2" stop-color="#bfd0ba"/><stop offset="0.3" stop-color="#cbd7bf"/><stop offset="0.4" stop-color="#d3dcc2"/><stop offset="0.5" stop-color="#c9d6be"/><stop offset="0.6" stop-color="#c3d2bc"/><stop offset="0.7" stop-color="#cbd7bf"/><stop offset="0.8" stop-color="#d5ddc2"/><stop offset="0.9" stop-color="#d9dfc4"/><stop offset="1" stop-color="#dae0c4"/></linearGradient><linearGradient id="hmk_12" gradientUnits="userSpaceOnUse" x1="547.3" x2="695.3"><stop offset="0" stop-color="#b4cab6"/><stop offset="0.1" stop-color="#b1c8b5"/><stop offset="0.2" stop-color="#bdcfba"/><stop offset="0.3" stop-color="#cbd7bf"/><stop offset="0.4" stop-color="#d7dec3"/><stop offset="0.5" stop-color="#d1dbc1"/><stop offset="0.6" stop-color="#c9d6be"/><stop offset="0.7" stop-color="#cbd7bf"/><stop offset="0.8" stop-color="#d1dbc1"/><stop offset="0.9" stop-color="#d8dfc3"/><stop offset="1" stop-color="#dae0c4"/></linearGradient><linearGradient id="hmk_13" gradientUnits="userSpaceOnUse" x1="547.3" x2="695.3"><stop offset="0" stop-color="#b4cab6"/><stop offset="0.1" stop-color="#afc7b5"/><stop offset="0.2" stop-color="#bbceb9"/><stop offset="0.3" stop-color="#cbd7bf"/><stop offset="0.4" stop-color="#d9dfc4"/><stop offset="0.5" stop-color="#d8dfc3"/><stop offset="0.6" stop-color="#ced9c0"/><stop offset="0.7" stop-color="#cbd7bf"/><stop offset="0.8" stop-color="#cdd8bf"/><stop offset="0.9" stop-color="#d7dec3"/><stop offset="1" stop-color="#dae0c4"/></linearGradient><linearGradient id="hmk_14" gradientUnits="userSpaceOnUse" x1="547.3" x2="695.3"><stop offset="0" stop-color="#b6cbb7"/><stop offset="0.1" stop-color="#afc7b5"/><stop offset="0.2" stop-color="#b8ccb8"/><stop offset="0.3" stop-color="#c9d6be"/><stop offset="0.4" stop-color="#d8dfc3"/><stop offset="0.5" stop-color="#d9dfc4"/><stop offset="0.6" stop-color="#d3dcc2"/><stop offset="0.7" stop-color="#cdd8bf"/><stop offset="0.8" stop-color="#cbd7bf"/><stop offset="0.9" stop-color="#d6ddc3"/><stop offset="1" stop-color="#dae0c4"/></linearGradient><linearGradient id="hmk_15" gradientUnits="userSpaceOnUse" x1="547.3" x2="695.3"><stop offset="0" stop-color="#bacdb8"/><stop offset="0.1" stop-color="#b1c8b5"/><stop offset="0.2" stop-color="#b4cab6"/><stop offset="0.3" stop-color="#c3d2bc"/><stop offset="0.4" stop-color="#d4dcc2"/><stop offset="0.5" stop-color="#d8dfc3"/><stop offset="0.6" stop-color="#d7dec3"/><stop offset="0.7" stop-color="#d1dbc1"/><stop offset="0.8" stop-color="#cbd7bf"/><stop offset="0.9" stop-color="#d4dcc2"/><stop offset="1" stop-color="#dae0c4"/></linearGradient><linearGradient id="hmk_16" gradientUnits="userSpaceOnUse" x1="547.3" x2="695.3"><stop offset="0" stop-color="#becfba"/><stop offset="0.1" stop-color="#b3c9b6"/><stop offset="0.2" stop-color="#b0c8b5"/><stop offset="0.3" stop-color="#bdcfba"/><stop offset="0.4" stop-color="#ced9c0"/><stop offset="0.5" stop-color="#d7dec3"/><stop offset="0.6" stop-color="#d9dfc4"/><stop offset="0.7" stop-color="#d5ddc2"/><stop offset="0.8" stop-color="#cbd7bf"/><stop offset="0.9" stop-color="#d2dbc1"/><stop offset="1" stop-color="#dae0c4"/></linearGradient><linearGradient id="hmk_17" gradientUnits="userSpaceOnUse" x1="547.3" x2="695.3"><stop offset="0" stop-color="#c4d3bc"/><stop offset="0.1" stop-color="#b7cbb7"/><stop offset="0.2" stop-color="#afc7b5"/><stop offset="0.3" stop-color="#b7cbb7"/><stop offset="0.4" stop-color="#c6d4bd"/><stop offset="0.5" stop-color="#d4dcc2"/><stop offset="0.6" stop-color="#dae0c4"/><stop offset="0.7" stop-color="#d7dec3"/><stop offset="0.8" stop-color="#ccd8bf"/><stop offset="0.9" stop-color="#d2dbc1"/><stop offset="1" stop-color="#dae0c4"/></linearGradient><linearGradient id="hmk_18" gradientUnits="userSpaceOnUse" x1="547.3" x2="695.3"><stop offset="0" stop-color="#cbd7bf"/><stop offset="0.1" stop-color="#bdcfba"/><stop offset="0.2" stop-color="#b1c8b5"/><stop offset="0.3" stop-color="#b1c8b5"/><stop offset="0.4" stop-color="#bacdb8"/><stop offset="0.5" stop-color="#ced9c0"/><stop offset="0.6" stop-color="#dbe0c4"/><stop offset="0.7" stop-color="#d8dfc3"/><stop offset="0.8" stop-color="#ced9c0"/><stop offset="0.9" stop-color="#d4dcc2"/><stop offset="1" stop-color="#dbe0c4"/></linearGradient><linearGradient id="hmk_19" gradientUnits="userSpaceOnUse" x1="547.3" x2="695.3"><stop offset="0" stop-color="#d3dcc2"/><stop offset="0.1" stop-color="#c3d2bc"/><stop offset="0.2" stop-color="#b3c9b6"/><stop offset="0.3" stop-color="#acc5b3"/><stop offset="0.4" stop-color="#aec6b4"/><stop offset="0.5" stop-color="#c9d6be"/><stop offset="0.6" stop-color="#dce1c5"/><stop offset="0.7" stop-color="#d9dfc4"/><stop offset="0.8" stop-color="#d0dac1"/><stop offset="0.9" stop-color="#d6ddc3"/><stop offset="1" stop-color="#dce1c5"/></linearGradient><linearGradient id="hmk_20" gradientUnits="userSpaceOnUse" x1="547.3" x2="695.3"><stop offset="0" stop-color="#d4dcc2"/><stop offset="0.1" stop-color="#c4d3bc"/><stop offset="0.2" stop-color="#b2c9b6"/><stop offset="0.3" stop-color="#a8c2b2"/><stop offset="0.4" stop-color="#a7c2b1"/><stop offset="0.5" stop-color="#c2d2bb"/><stop offset="0.6" stop-color="#dae0c4"/><stop offset="0.7" stop-color="#d8dfc3"/><stop offset="0.8" stop-color="#cfdac0"/><stop offset="0.9" stop-color="#d6ddc3"/><stop offset="1" stop-color="#dce1c5"/></linearGradient><linearGradient id="hmk_21" gradientUnits="userSpaceOnUse" x1="547.3" x2="695.3"><stop offset="0" stop-color="#ced9c0"/><stop offset="0.1" stop-color="#c0d1bb"/><stop offset="0.2" stop-color="#aec6b4"/><stop offset="0.3" stop-color="#a6c1b1"/><stop offset="0.4" stop-color="#a3c0b0"/><stop offset="0.5" stop-color="#bacdb8"/><stop offset="0.6" stop-color="#d4dcc2"/><stop offset="0.7" stop-color="#d4dcc2"/><stop offset="0.8" stop-color="#cbd7bf"/><stop offset="0.9" stop-color="#d4dcc2"/><stop offset="1" stop-color="#dbe0c4"/></linearGradient><linearGradient id="hmk_22" gradientUnits="userSpaceOnUse" x1="547.3" x2="695.3"><stop offset="0" stop-color="#c9d6be"/><stop offset="0.1" stop-color="#bcceb9"/><stop offset="0.2" stop-color="#abc4b3"/><stop offset="0.3" stop-color="#a4c0b0"/><stop offset="0.4" stop-color="#9fbdaf"/><stop offset="0.5" stop-color="#b2c9b6"/><stop offset="0.6" stop-color="#cad7be"/><stop offset="0.7" stop-color="#ced9c0"/><stop offset="0.8" stop-color="#c8d5bd"/><stop offset="0.9" stop-color="#d2dbc1"/><stop offset="1" stop-color="#dae0c4"/></linearGradient><linearGradient id="hmk_23" gradientUnits="userSpaceOnUse" x1="547.3" x2="695.3"><stop offset="0" stop-color="#c3d2bc"/><stop offset="0.1" stop-color="#b6cbb7"/><stop offset="0.2" stop-color="#a5c1b1"/><stop offset="0.3" stop-color="#a2bfb0"/><stop offset="0.4" stop-color="#9fbdaf"/><stop offset="0.5" stop-color="#aec6b4"/><stop offset="0.6" stop-color="#c2d2bb"/><stop offset="0.7" stop-color="#c8d5bd"/><stop offset="0.8" stop-color="#c3d2bc"/><stop offset="0.9" stop-color="#cfdac0"/><stop offset="1" stop-color="#dae0c4"/></linearGradient><linearGradient id="hmk_24" gradientUnits="userSpaceOnUse" x1="547.3" x2="695.3"><stop offset="0" stop-color="#bdcfba"/><stop offset="0.1" stop-color="#aec6b4"/><stop offset="0.2" stop-color="#9dbcae"/><stop offset="0.3" stop-color="#a0beaf"/><stop offset="0.4" stop-color="#a3c0b0"/><stop offset="0.5" stop-color="#acc5b3"/><stop offset="0.6" stop-color="#bacdb8"/><stop offset="0.7" stop-color="#c0d1bb"/><stop offset="0.8" stop-color="#bdcfba"/><stop offset="0.9" stop-color="#cbd7bf"/><stop offset="1" stop-color="#dae0c4"/></linearGradient><linearGradient id="hmk_25" gradientUnits="userSpaceOnUse" x1="547.3" x2="695.3"><stop offset="0" stop-color="#b7cbb7"/><stop offset="0.1" stop-color="#a7c2b1"/><stop offset="0.2" stop-color="#94b7ab"/><stop offset="0.3" stop-color="#9ebdae"/><stop offset="0.4" stop-color="#a7c2b1"/><stop offset="0.5" stop-color="#aac4b3"/><stop offset="0.6" stop-color="#b2c9b6"/><stop offset="0.7" stop-color="#b8ccb8"/><stop offset="0.8" stop-color="#b7cbb7"/><stop offset="0.9" stop-color="#c8d5bd"/><stop offset="1" stop-color="#dae0c4"/></linearGradient><linearGradient id="hmk_26" gradientUnits="userSpaceOnUse" x1="547.3" x2="695.3"><stop offset="0" stop-color="#b4cab6"/><stop offset="0.1" stop-color="#a5c1b1"/><stop offset="0.2" stop-color="#92b5aa"/><stop offset="0.3" stop-color="#9abbad"/><stop offset="0.4" stop-color="#a7c2b1"/><stop offset="0.5" stop-color="#aac4b3"/><stop offset="0.6" stop-color="#aec6b4"/><stop offset="0.7" stop-color="#b1c8b5"/><stop offset="0.8" stop-color="#b1c8b5"/><stop offset="0.9" stop-color="#c4d3bc"/><stop offset="1" stop-color="#d9dfc4"/></linearGradient><linearGradient id="hmk_27" gradientUnits="userSpaceOnUse" x1="547.3" x2="695.3"><stop offset="0" stop-color="#b4cab6"/><stop offset="0.1" stop-color="#a9c3b2"/><stop offset="0.2" stop-color="#96b8ac"/><stop offset="0.3" stop-color="#96b8ac"/><stop offset="0.4" stop-color="#a3c0b0"/><stop offset="0.5" stop-color="#acc5b3"/><stop offset="0.6" stop-color="#acc5b3"/><stop offset="0.7" stop-color="#acc5b3"/><stop offset="0.8" stop-color="#acc5b3"/><stop offset="0.9" stop-color="#c0d1bb"/><stop offset="1" stop-color="#d8dfc3"/></linearGradient><linearGradient id="hmk_28" gradientUnits="userSpaceOnUse" x1="547.3" x2="695.3"><stop offset="0" stop-color="#b4cab6"/><stop offset="0.1" stop-color="#adc5b4"/><stop offset="0.2" stop-color="#9abbad"/><stop offset="0.3" stop-color="#92b5aa"/><stop offset="0.4" stop-color="#9fbdaf"/><stop offset="0.5" stop-color="#aec6b4"/><stop offset="0.6" stop-color="#aac4b3"/><stop offset="0.7" stop-color="#a6c1b1"/><stop offset="0.8" stop-color="#a6c1b1"/><stop offset="0.9" stop-color="#bcceb9"/><stop offset="1" stop-color="#d7dec3"/></linearGradient><linearGradient id="hmk_29" gradientUnits="userSpaceOnUse" x1="547.3" x2="695.3"><stop offset="0" stop-color="#b5cab7"/><stop offset="0.1" stop-color="#afc7b5"/><stop offset="0.2" stop-color="#a0beaf"/><stop offset="0.3" stop-color="#92b5aa"/><stop offset="0.4" stop-color="#9cbbad"/><stop offset="0.5" stop-color="#aec6b4"/><stop offset="0.6" stop-color="#acc5b3"/><stop offset="0.7" stop-color="#a5c1b1"/><stop offset="0.8" stop-color="#a3c0b0"/><stop offset="0.9" stop-color="#b9cdb8"/><stop offset="1" stop-color="#d6ddc3"/></linearGradient><linearGradient id="hmk_30" gradientUnits="userSpaceOnUse" x1="547.3" x2="695.3"><stop offset="0" stop-color="#b7cbb7"/><stop offset="0.1" stop-color="#b1c8b5"/><stop offset="0.2" stop-color="#a6c1b1"/><stop offset="0.3" stop-color="#96b8ac"/><stop offset="0.4" stop-color="#99baad"/><stop offset="0.5" stop-color="#acc5b3"/><stop offset="0.6" stop-color="#b1c8b5"/><stop offset="0.7" stop-color="#a9c3b2"/><stop offset="0.8" stop-color="#a3c0b0"/><stop offset="0.9" stop-color="#b7cbb7"/><stop offset="1" stop-color="#d4dcc2"/></linearGradient><linearGradient id="hmk_31" gradientUnits="userSpaceOnUse" x1="547.3" x2="695.3"><stop offset="0" stop-color="#b9cdb8"/><stop offset="0.1" stop-color="#b3c9b6"/><stop offset="0.2" stop-color="#acc5b3"/><stop offset="0.3" stop-color="#9abbad"/><stop offset="0.4" stop-color="#97b9ac"/><stop offset="0.5" stop-color="#aac4b3"/><stop offset="0.6" stop-color="#b7cbb7"/><stop offset="0.7" stop-color="#adc5b4"/><stop offset="0.8" stop-color="#a3c0b0"/><stop offset="0.9" stop-color="#b5cab7"/><stop offset="1" stop-color="#d2dbc1"/></linearGradient><linearGradient id="hmk_32" gradientUnits="userSpaceOnUse" x1="547.3" x2="695.3"><stop offset="0" stop-color="#bacdb8"/><stop offset="0.1" stop-color="#b4cab6"/><stop offset="0.2" stop-color="#aec6b4"/><stop offset="0.3" stop-color="#9dbcae"/><stop offset="0.4" stop-color="#96b8ac"/><stop offset="0.5" stop-color="#a9c3b2"/><stop offset="0.6" stop-color="#bacdb8"/><stop offset="0.7" stop-color="#aec6b4"/><stop offset="0.8" stop-color="#a3c0b0"/><stop offset="0.9" stop-color="#b4cab6"/><stop offset="1" stop-color="#d1dbc1"/></linearGradient><linearGradient id="hmk_33" gradientUnits="userSpaceOnUse" x1="547.3" x2="695.3"><stop offset="0" stop-color="#bacdb8"/><stop offset="0.1" stop-color="#b4cab6"/><stop offset="0.2" stop-color="#aec6b4"/><stop offset="0.3" stop-color="#9dbcae"/><stop offset="0.4" stop-color="#96b8ac"/><stop offset="0.5" stop-color="#a9c3b2"/><stop offset="0.6" stop-color="#bacdb8"/><stop offset="0.7" stop-color="#aec6b4"/><stop offset="0.8" stop-color="#a3c0b0"/><stop offset="0.9" stop-color="#b4cab6"/><stop offset="1" stop-color="#d1dbc1"/></linearGradient><clipPath id="chml"><rect x="795.6" y="933" width="148" height="148"/></clipPath><linearGradient id="hml_0" gradientUnits="userSpaceOnUse" x1="795.6" x2="943.6"><stop offset="0" stop-color="#7ba8a3"/><stop offset="0.2" stop-color="#7ba8a3"/><stop offset="0.4" stop-color="#7ba8a3"/><stop offset="0.6" stop-color="#7ba8a3"/><stop offset="0.8" stop-color="#82aca5"/><stop offset="1" stop-color="#7ba8a3"/></linearGradient><linearGradient id="hml_1" gradientUnits="userSpaceOnUse" x1="795.6" x2="943.6"><stop offset="0" stop-color="#7ba8a3"/><stop offset="0.2" stop-color="#7ba8a3"/><stop offset="0.4" stop-color="#7ba8a3"/><stop offset="0.6" stop-color="#7ba8a3"/><stop offset="0.8" stop-color="#82aca5"/><stop offset="1" stop-color="#7ba8a3"/></linearGradient><linearGradient id="hml_2" gradientUnits="userSpaceOnUse" x1="795.6" x2="943.6"><stop offset="0" stop-color="#7ba8a2"/><stop offset="0.2" stop-color="#7aa7a2"/><stop offset="0.4" stop-color="#7ba8a3"/><stop offset="0.6" stop-color="#7ba8a2"/><stop offset="0.8" stop-color="#84ada5"/><stop offset="1" stop-color="#7ba8a3"/></linearGradient><linearGradient id="hml_3" gradientUnits="userSpaceOnUse" x1="795.6" x2="943.6"><stop offset="0" stop-color="#7aa7a2"/><stop offset="0.2" stop-color="#78a6a1"/><stop offset="0.4" stop-color="#7ba8a3"/><stop offset="0.6" stop-color="#7aa7a2"/><stop offset="0.8" stop-color="#87afa6"/><stop offset="1" stop-color="#7ba8a3"/></linearGradient><linearGradient id="hml_4" gradientUnits="userSpaceOnUse" x1="795.6" x2="943.6"><stop offset="0" stop-color="#79a6a2"/><stop offset="0.2" stop-color="#76a5a1"/><stop offset="0.4" stop-color="#7ba8a3"/><stop offset="0.6" stop-color="#79a6a2"/><stop offset="0.8" stop-color="#8ab1a8"/><stop offset="1" stop-color="#7ba8a3"/></linearGradient><linearGradient id="hml_5" gradientUnits="userSpaceOnUse" x1="795.6" x2="943.6"><stop offset="0" stop-color="#77a6a1"/><stop offset="0.2" stop-color="#74a3a0"/><stop offset="0.4" stop-color="#7ba8a3"/><stop offset="0.6" stop-color="#77a6a1"/><stop offset="0.8" stop-color="#8eb3a9"/><stop offset="1" stop-color="#7ba8a3"/></linearGradient><linearGradient id="hml_6" gradientUnits="userSpaceOnUse" x1="795.6" x2="943.6"><stop offset="0" stop-color="#76a5a1"/><stop offset="0.2" stop-color="#71a29f"/><stop offset="0.4" stop-color="#7ba8a3"/><stop offset="0.6" stop-color="#76a5a1"/><stop offset="0.8" stop-color="#91b5aa"/><stop offset="1" stop-color="#7ba8a3"/></linearGradient><linearGradient id="hml_7" gradientUnits="userSpaceOnUse" x1="795.6" x2="943.6"><stop offset="0" stop-color="#75a4a0"/><stop offset="0.2" stop-color="#6fa19e"/><stop offset="0.4" stop-color="#7ba8a3"/><stop offset="0.6" stop-color="#75a4a0"/><stop offset="0.8" stop-color="#94b7ab"/><stop offset="1" stop-color="#7ba8a3"/></linearGradient><linearGradient id="hml_8" gradientUnits="userSpaceOnUse" x1="795.6" x2="943.6"><stop offset="0" stop-color="#75a4a0"/><stop offset="0.2" stop-color="#6ea09e"/><stop offset="0.4" stop-color="#7ba8a3"/><stop offset="0.6" stop-color="#76a5a1"/><stop offset="0.8" stop-color="#94b7ab"/><stop offset="1" stop-color="#7ca8a3"/></linearGradient><linearGradient id="hml_9" gradientUnits="userSpaceOnUse" x1="795.6" x2="943.6"><stop offset="0" stop-color="#75a4a0"/><stop offset="0.2" stop-color="#6d9f9e"/><stop offset="0.4" stop-color="#7ba8a3"/><stop offset="0.6" stop-color="#78a6a1"/><stop offset="0.8" stop-color="#8fb4a9"/><stop offset="1" stop-color="#7da9a3"/></linearGradient><linearGradient id="hml_10" gradientUnits="userSpaceOnUse" x1="795.6" x2="943.6"><stop offset="0" stop-color="#75a4a0"/><stop offset="0.2" stop-color="#6c9f9d"/><stop offset="0.4" stop-color="#7ba8a3"/><stop offset="0.6" stop-color="#7aa7a2"/><stop offset="0.8" stop-color="#8bb1a8"/><stop offset="1" stop-color="#7eaaa3"/></linearGradient><linearGradient id="hml_11" gradientUnits="userSpaceOnUse" x1="795.6" x2="943.6"><stop offset="0" stop-color="#75a4a0"/><stop offset="0.2" stop-color="#6b9e9d"/><stop offset="0.4" stop-color="#7ba8a3"/><stop offset="0.6" stop-color="#7ca9a3"/><stop offset="0.8" stop-color="#86afa6"/><stop offset="1" stop-color="#7faaa4"/></linearGradient><linearGradient id="hml_12" gradientUnits="userSpaceOnUse" x1="795.6" x2="943.6"><stop offset="0" stop-color="#75a4a0"/><stop offset="0.2" stop-color="#6a9e9d"/><stop offset="0.4" stop-color="#7ba8a3"/><stop offset="0.6" stop-color="#7faaa4"/><stop offset="0.8" stop-color="#82aca5"/><stop offset="1" stop-color="#80aba4"/></linearGradient><linearGradient id="hml_13" gradientUnits="userSpaceOnUse" x1="795.6" x2="943.6"><stop offset="0" stop-color="#75a4a0"/><stop offset="0.2" stop-color="#699d9c"/><stop offset="0.4" stop-color="#7ba8a3"/><stop offset="0.6" stop-color="#81aba4"/><stop offset="0.8" stop-color="#7ea9a3"/><stop offset="1" stop-color="#81aca5"/></linearGradient><linearGradient id="hml_14" gradientUnits="userSpaceOnUse" x1="795.6" x2="943.6"><stop offset="0" stop-color="#76a5a1"/><stop offset="0.2" stop-color="#6a9e9d"/><stop offset="0.4" stop-color="#7ba8a2"/><stop offset="0.6" stop-color="#81aca5"/><stop offset="0.8" stop-color="#7ba8a2"/><stop offset="1" stop-color="#81aca5"/></linearGradient><linearGradient id="hml_15" gradientUnits="userSpaceOnUse" x1="795.6" x2="943.6"><stop offset="0" stop-color="#78a6a1"/><stop offset="0.2" stop-color="#6d9f9e"/><stop offset="0.4" stop-color="#7aa7a2"/><stop offset="0.6" stop-color="#80aba4"/><stop offset="0.8" stop-color="#7aa7a2"/><stop offset="1" stop-color="#80aba4"/></linearGradient><linearGradient id="hml_16" gradientUnits="userSpaceOnUse" x1="795.6" x2="943.6"><stop offset="0" stop-color="#7aa7a2"/><stop offset="0.2" stop-color="#70a19f"/><stop offset="0.4" stop-color="#79a6a2"/><stop offset="0.6" stop-color="#7faaa4"/><stop offset="0.8" stop-color="#79a6a2"/><stop offset="1" stop-color="#7faaa4"/></linearGradient><linearGradient id="hml_17" gradientUnits="userSpaceOnUse" x1="795.6" x2="943.6"><stop offset="0" stop-color="#7ca9a3"/><stop offset="0.2" stop-color="#73a3a0"/><stop offset="0.4" stop-color="#77a6a1"/><stop offset="0.6" stop-color="#7eaaa3"/><stop offset="0.8" stop-color="#77a6a1"/><stop offset="1" stop-color="#7eaaa3"/></linearGradient><linearGradient id="hml_18" gradientUnits="userSpaceOnUse" x1="795.6" x2="943.6"><stop offset="0" stop-color="#7faaa4"/><stop offset="0.2" stop-color="#76a5a1"/><stop offset="0.4" stop-color="#76a5a1"/><stop offset="0.6" stop-color="#7da9a3"/><stop offset="0.8" stop-color="#76a5a1"/><stop offset="1" stop-color="#7da9a3"/></linearGradient><linearGradient id="hml_19" gradientUnits="userSpaceOnUse" x1="795.6" x2="943.6"><stop offset="0" stop-color="#81aba4"/><stop offset="0.2" stop-color="#7aa7a2"/><stop offset="0.4" stop-color="#75a4a0"/><stop offset="0.6" stop-color="#7ca8a3"/><stop offset="0.8" stop-color="#75a4a0"/><stop offset="1" stop-color="#7ca8a3"/></linearGradient><linearGradient id="hml_20" gradientUnits="userSpaceOnUse" x1="795.6" x2="943.6"><stop offset="0" stop-color="#81aca5"/><stop offset="0.2" stop-color="#7ca9a3"/><stop offset="0.4" stop-color="#76a5a1"/><stop offset="0.6" stop-color="#7ba8a2"/><stop offset="0.8" stop-color="#74a3a0"/><stop offset="1" stop-color="#7aa7a2"/></linearGradient><linearGradient id="hml_21" gradientUnits="userSpaceOnUse" x1="795.6" x2="943.6"><stop offset="0" stop-color="#80aba4"/><stop offset="0.2" stop-color="#7faaa4"/><stop offset="0.4" stop-color="#78a6a1"/><stop offset="0.6" stop-color="#7aa7a2"/><stop offset="0.8" stop-color="#71a29f"/><stop offset="1" stop-color="#78a6a1"/></linearGradient><linearGradient id="hml_22" gradientUnits="userSpaceOnUse" x1="795.6" x2="943.6"><stop offset="0" stop-color="#7faaa4"/><stop offset="0.2" stop-color="#81aba4"/><stop offset="0.4" stop-color="#7aa7a2"/><stop offset="0.6" stop-color="#79a6a2"/><stop offset="0.8" stop-color="#6fa19e"/><stop offset="1" stop-color="#76a5a1"/></linearGradient><linearGradient id="hml_23" gradientUnits="userSpaceOnUse" x1="795.6" x2="943.6"><stop offset="0" stop-color="#7eaaa3"/><stop offset="0.2" stop-color="#83ada5"/><stop offset="0.4" stop-color="#7ca9a3"/><stop offset="0.6" stop-color="#77a6a1"/><stop offset="0.8" stop-color="#6da09e"/><stop offset="1" stop-color="#74a3a0"/></linearGradient><linearGradient id="hml_24" gradientUnits="userSpaceOnUse" x1="795.6" x2="943.6"><stop offset="0" stop-color="#7da9a3"/><stop offset="0.2" stop-color="#85aea6"/><stop offset="0.4" stop-color="#7faaa4"/><stop offset="0.6" stop-color="#76a5a1"/><stop offset="0.8" stop-color="#6c9f9d"/><stop offset="1" stop-color="#71a29f"/></linearGradient><linearGradient id="hml_25" gradientUnits="userSpaceOnUse" x1="795.6" x2="943.6"><stop offset="0" stop-color="#7ca8a3"/><stop offset="0.2" stop-color="#88afa7"/><stop offset="0.4" stop-color="#81aba4"/><stop offset="0.6" stop-color="#75a4a0"/><stop offset="0.8" stop-color="#6a9e9c"/><stop offset="1" stop-color="#6fa19e"/></linearGradient><linearGradient id="hml_26" gradientUnits="userSpaceOnUse" x1="795.6" x2="943.6"><stop offset="0" stop-color="#7ba8a3"/><stop offset="0.2" stop-color="#89b0a7"/><stop offset="0.4" stop-color="#84ada5"/><stop offset="0.6" stop-color="#76a5a1"/><stop offset="0.8" stop-color="#6a9e9c"/><stop offset="1" stop-color="#6fa09e"/></linearGradient><linearGradient id="hml_27" gradientUnits="userSpaceOnUse" x1="795.6" x2="943.6"><stop offset="0" stop-color="#7ba8a3"/><stop offset="0.2" stop-color="#89b0a7"/><stop offset="0.4" stop-color="#87afa6"/><stop offset="0.6" stop-color="#78a6a1"/><stop offset="0.8" stop-color="#6c9f9d"/><stop offset="1" stop-color="#70a19f"/></linearGradient><linearGradient id="hml_28" gradientUnits="userSpaceOnUse" x1="795.6" x2="943.6"><stop offset="0" stop-color="#7ba8a3"/><stop offset="0.2" stop-color="#89b0a7"/><stop offset="0.4" stop-color="#8ab1a8"/><stop offset="0.6" stop-color="#7aa7a2"/><stop offset="0.8" stop-color="#6da09e"/><stop offset="1" stop-color="#71a29f"/></linearGradient><linearGradient id="hml_29" gradientUnits="userSpaceOnUse" x1="795.6" x2="943.6"><stop offset="0" stop-color="#7ba8a3"/><stop offset="0.2" stop-color="#89b0a7"/><stop offset="0.4" stop-color="#8eb3a9"/><stop offset="0.6" stop-color="#7ca9a3"/><stop offset="0.8" stop-color="#6fa19e"/><stop offset="1" stop-color="#72a29f"/></linearGradient><linearGradient id="hml_30" gradientUnits="userSpaceOnUse" x1="795.6" x2="943.6"><stop offset="0" stop-color="#7ba8a3"/><stop offset="0.2" stop-color="#89b0a7"/><stop offset="0.4" stop-color="#91b5aa"/><stop offset="0.6" stop-color="#7faaa4"/><stop offset="0.8" stop-color="#71a29f"/><stop offset="1" stop-color="#73a3a0"/></linearGradient><linearGradient id="hml_31" gradientUnits="userSpaceOnUse" x1="795.6" x2="943.6"><stop offset="0" stop-color="#7ba8a3"/><stop offset="0.2" stop-color="#89b0a7"/><stop offset="0.4" stop-color="#94b7ab"/><stop offset="0.6" stop-color="#81aba4"/><stop offset="0.8" stop-color="#74a3a0"/><stop offset="1" stop-color="#74a4a0"/></linearGradient><linearGradient id="hml_32" gradientUnits="userSpaceOnUse" x1="795.6" x2="943.6"><stop offset="0" stop-color="#7ba8a3"/><stop offset="0.2" stop-color="#89b0a7"/><stop offset="0.4" stop-color="#96b8ac"/><stop offset="0.6" stop-color="#82aca5"/><stop offset="0.8" stop-color="#75a4a0"/><stop offset="1" stop-color="#75a4a0"/></linearGradient><linearGradient id="hml_33" gradientUnits="userSpaceOnUse" x1="795.6" x2="943.6"><stop offset="0" stop-color="#7ba8a3"/><stop offset="0.2" stop-color="#89b0a7"/><stop offset="0.4" stop-color="#96b8ac"/><stop offset="0.6" stop-color="#82aca5"/><stop offset="0.8" stop-color="#75a4a0"/><stop offset="1" stop-color="#75a4a0"/></linearGradient></defs>
<rect width="1000" height="1123" fill="#fff"/>
<text class="b" x="88.5" y="41.2" font-size="13.4" fill="#277183" color="#277183" text-anchor="start">Dark, temperature~20°C</text>
<text class="b" x="311.5" y="41.2" font-size="13.4" fill="#b29f74" color="#b29f74" text-anchor="start">Illumination, temperature~50°C</text>
<text class="b" x="570" y="41.2" font-size="13.4" fill="#277183" color="#277183" text-anchor="start">Dark, temperature~20°C</text>
<text class="b" x="772.5" y="41.2" font-size="13.4" fill="#b29f74" color="#b29f74" text-anchor="start">Illumination, temperature~50°C</text>
<rect x="52.6" y="48.4" width="929.8" height="111.6" fill="none" stroke="#5a5a5a" stroke-width="1.3"/>
<line x1="48.6" y1="70.4" x2="52.6" y2="70.4" stroke="#5a5a5a" stroke-width="1.2"/>
<text class="b" x="45.4" y="74.7" font-size="12" fill="#111" color="#111" text-anchor="end">-20</text>
<line x1="48.6" y1="115.2" x2="52.6" y2="115.2" stroke="#5a5a5a" stroke-width="1.2"/>
<text class="b" x="45.4" y="119.5" font-size="12" fill="#111" color="#111" text-anchor="end">-40</text>
<line x1="48.6" y1="159.8" x2="52.6" y2="159.8" stroke="#5a5a5a" stroke-width="1.2"/>
<text class="b" x="45.4" y="164.1" font-size="12" fill="#111" color="#111" text-anchor="end">-60</text>
<line x1="50.4" y1="48.4" x2="52.6" y2="48.4" stroke="#5a5a5a" stroke-width="1.2"/>
<line x1="50.4" y1="92.8" x2="52.6" y2="92.8" stroke="#5a5a5a" stroke-width="1.2"/>
<line x1="50.4" y1="137.5" x2="52.6" y2="137.5" stroke="#5a5a5a" stroke-width="1.2"/>
<polyline points="53,111.7 276.5,111.7 287,75.4 514,75.4 522.5,133.9 745.7,133.9 757.7,90.6 982,90.6" fill="none" stroke="#d3c4a2" stroke-width="2.2" stroke-linejoin="miter"/>
<text class="b" x="125.3" y="105.3" font-size="14.5" fill="#111" color="#111" text-anchor="start">Initial state</text>
<text class="b" x="125.8" y="131.4" font-size="13.8" fill="#277183" color="#277183" text-anchor="start">-38.47 MPa</text>
<text class="b" x="331.2" y="68.5" font-size="14.7" fill="#111" color="#111" text-anchor="start">First exposure to light</text>
<text class="b" x="367.2" y="96.4" font-size="13.8" fill="#d6ccb0" color="#d6ccb0" text-anchor="start">-22.16 MPa</text>
<text class="b" x="535.6" y="127.3" font-size="14.6" fill="#111" color="#111" text-anchor="start">Transferring to dark conditions</text>
<text class="b" x="600.9" y="154.1" font-size="13.8" fill="#277183" color="#277183" text-anchor="start">-48.48 MPa</text>
<text class="b" x="800.3" y="82.1" font-size="14.6" fill="#111" color="#111" text-anchor="start">Re-exposure to light</text>
<text class="b" x="831.5" y="108.9" font-size="13.8" fill="#d6ccb0" color="#d6ccb0" text-anchor="start">-28.81 MPa</text>
<text class="b" x="931.6" y="153.1" font-size="13.5" fill="#c5625b" color="#c5625b" text-anchor="start">Pristine</text>
<text class="b" x="22.6" y="104" font-size="14" fill="#111" color="#111" text-anchor="middle" transform="rotate(-90 22.6 104)">Relative tensile stress (MPa)</text>
<text class="b" x="98" y="590" font-size="13.4" fill="#277183" color="#277183" text-anchor="start">Dark, temperature~20°C</text>
<text class="b" x="310.5" y="590" font-size="13.4" fill="#b29f74" color="#b29f74" text-anchor="start">Illumination, temperature~50°C</text>
<text class="b" x="563" y="590" font-size="13.4" fill="#277183" color="#277183" text-anchor="start">Dark, temperature~20°C</text>
<text class="b" x="774.5" y="590" font-size="13.4" fill="#b29f74" color="#b29f74" text-anchor="start">Illumination, temperature~50°C</text>
<rect x="52.4" y="600" width="930.8" height="111.5" fill="none" stroke="#8a8a8a" stroke-width="1.3"/>
<line x1="48.6" y1="618" x2="52.4" y2="618" stroke="#8a8a8a" stroke-width="1.2"/>
<text class="b" x="45.4" y="622.1" font-size="11.5" fill="#111" color="#111" text-anchor="end">40</text>
<line x1="48.6" y1="655.6" x2="52.4" y2="655.6" stroke="#8a8a8a" stroke-width="1.2"/>
<text class="b" x="45.4" y="659.7" font-size="11.5" fill="#111" color="#111" text-anchor="end">30</text>
<line x1="48.6" y1="693.1" x2="52.4" y2="693.1" stroke="#8a8a8a" stroke-width="1.2"/>
<text class="b" x="45.4" y="697.2" font-size="11.5" fill="#111" color="#111" text-anchor="end">20</text>
<line x1="50.4" y1="600" x2="52.4" y2="600" stroke="#8a8a8a" stroke-width="1.2"/>
<line x1="50.4" y1="636.8" x2="52.4" y2="636.8" stroke="#8a8a8a" stroke-width="1.2"/>
<line x1="50.4" y1="674.3" x2="52.4" y2="674.3" stroke="#8a8a8a" stroke-width="1.2"/>
<polyline points="53,651.6 276.4,651.6 287.3,681.8 511.5,681.8 523.4,642 747.3,642 758.7,684.6 983,684.6" fill="none" stroke="#186377" stroke-width="2.3" stroke-linejoin="miter"/>
<text class="b" x="127.5" y="642" font-size="14.5" fill="#111" color="#111" text-anchor="start">Initial state</text>
<text class="b" x="133.9" y="670" font-size="13.2" fill="#277183" color="#277183" text-anchor="start">31.10 MPa</text>
<text class="b" x="325.5" y="674.3" font-size="14.7" fill="#111" color="#111" text-anchor="start">First exposure to light</text>
<text class="b" x="364.5" y="701.3" font-size="13.2" fill="#d6ccb0" color="#d6ccb0" text-anchor="start">22.97 MPa</text>
<text class="b" x="536.4" y="633.3" font-size="14.6" fill="#111" color="#111" text-anchor="start">Transferring to dark conditions</text>
<text class="b" x="606" y="661.6" font-size="13.2" fill="#277183" color="#277183" text-anchor="start">33.70 MPa</text>
<text class="b" x="807" y="677.5" font-size="14.6" fill="#111" color="#111" text-anchor="start">Re-exposure to light</text>
<text class="b" x="836.7" y="702.7" font-size="13.2" fill="#d6ccb0" color="#d6ccb0" text-anchor="start">22.22 MPa</text>
<text class="b" x="910.3" y="617.7" font-size="13" fill="#c5625b" color="#c5625b" text-anchor="start">With DHHB</text>
<text class="b" x="28.3" y="655.5" font-size="13" fill="#111" color="#111" text-anchor="middle" transform="rotate(-90 28.3 655.5)">Relative compressive stress (MPa)</text>
<text class="b" x="32.8" y="25.9" font-size="21" fill="#111" color="#111" text-anchor="start">a</text>
<text class="b" x="33.2" y="199.2" font-size="21" fill="#111" color="#111" text-anchor="start">b</text>
<text class="b" x="32.9" y="561" font-size="21" fill="#111" color="#111" text-anchor="start">g</text>
<text class="b" x="33.2" y="751" font-size="21" fill="#111" color="#111" text-anchor="start">h</text>
<rect x="53.3" y="188.3" width="192.4" height="151.9" fill="url(#gd)"/>
<g fill="#d0daef" fill-opacity="0.92"><polygon points="95.4,221.7 111,238.7 91.4,257.9 75,237.6"/><polygon points="129.2,221.7 147.5,238.8 128.6,258.3 110.3,238.6"/><polygon points="165.5,221.7 185.2,238.6 166.9,258.3 146.7,238.8"/><polygon points="200.1,221.7 221.3,237 205.8,257.9 184.4,238.7"/><polygon points="91.5,257.2 109.7,276.9 89.1,297.2 70.6,275.3"/><polygon points="128.6,257.6 148.7,277 128.3,297.5 108.9,276.8"/><polygon points="166.8,257.6 188.2,276.8 168.1,297.5 148,277"/><polygon points="205.7,257.2 226.5,276.6 209.3,297.2 187.4,276.9"/><polygon points="89.1,296.4 108.5,317.1 86.5,338.2 68.4,315.6"/><polygon points="128.4,296.7 148.5,317.1 127.3,338.2 107.7,317"/><polygon points="168.1,296.7 190,317 168.4,338.2 147.7,317.1"/><polygon points="209.3,296.4 229.6,317.8 211,338.2 189.2,317.1"/></g>
<g fill="#e2d5b5"><circle cx="111.3" cy="259.3" r="8.7"/><circle cx="148.2" cy="259.3" r="8.7"/><circle cx="186.2" cy="259.3" r="8.7"/><circle cx="108.7" cy="298.1" r="8.7"/><circle cx="148.2" cy="298.1" r="8.7"/><circle cx="187.2" cy="298.1" r="8.7"/></g>
<path d="M96.2 241.1Q97.6 231.5 95.4 222.1M96.2 241.1Q103.2 238.1 110.8 238.7M96.2 241.1Q92.1 248.9 91.5 257.6M96.2 241.1Q85.5 241.2 75.4 237.7M131.3 241.5Q128.5 232 129.2 222.1M131.3 241.5Q139.5 242 147.1 238.9M131.3 241.5Q131.8 250 128.6 258M131.3 241.5Q121.3 238.3 110.8 238.7M169 241.5Q169.1 231.5 165.6 222.1M169 241.5Q176.6 238.3 184.9 238.7M169 241.5Q166.2 249.5 166.9 258M169 241.5Q157.9 242 147.1 238.9M206.7 241.1Q201.7 232.2 200.2 222.1M206.7 241.1Q214.3 240.8 221 237.1M206.7 241.1Q208.1 249.4 205.9 257.6M206.7 241.1Q196 238.1 184.9 238.7M92.8 279.3Q90.4 268.6 91.5 257.6M92.8 279.3Q101.4 279.9 109.4 276.9M92.8 279.3Q92.7 288.4 89.2 296.9M92.8 279.3Q82.2 275.6 71 275.4M132 279.7Q132.1 268.6 128.6 258M132 279.7Q139.9 276.6 148.4 277.1M132 279.7Q128.4 288.1 128.4 297.2M132 279.7Q120.5 280.1 109.4 276.9M170.8 279.7Q167.1 269.2 166.9 258M170.8 279.7Q179.6 280.1 187.9 276.9M170.8 279.7Q171.3 288.7 168.2 297.2M170.8 279.7Q159.8 276.6 148.4 277.1M211 279.3Q210.2 268 205.9 257.6M211 279.3Q218.3 276.2 226.2 276.7M211 279.3Q208.4 287.9 209.4 296.9M211 279.3Q199.3 279.9 187.9 276.9M91.5 319.6Q92.1 308 89.2 296.9M91.5 319.6Q99.6 316.6 108.2 317.1M91.5 319.6Q87.3 328.2 86.6 337.8M91.5 319.6Q79.9 319.4 68.9 315.7M130.8 319.8Q127.8 308.7 128.4 297.2M130.8 319.8Q139.8 320.3 148.2 317.2M130.8 319.8Q130.9 329.1 127.4 337.8M130.8 319.8Q119.7 316.7 108.2 317.1M171.6 319.8Q171.7 308.2 168.2 297.2M171.6 319.8Q180.4 316.7 189.6 317.1M171.6 319.8Q168.3 328.5 168.5 337.8M171.6 319.8Q159.7 320.3 148.2 317.2M213.7 319.6Q209.8 308.6 209.4 296.9M213.7 319.6Q221.7 320.5 229.3 317.8M213.7 319.6Q214.2 329 211.1 337.8M213.7 319.6Q201.9 316.6 189.6 317.1" fill="none" stroke="#1e2c4c" stroke-width="1.7" stroke-linecap="round"/>
<g fill="#d5d5d7"><circle cx="110.8" cy="238.7" r="3.6"/><circle cx="147.1" cy="238.9" r="3.6"/><circle cx="184.9" cy="238.7" r="3.6"/><circle cx="109.4" cy="276.9" r="3.6"/><circle cx="148.4" cy="277.1" r="3.6"/><circle cx="187.9" cy="276.9" r="3.6"/><circle cx="108.2" cy="317.1" r="3.6"/><circle cx="148.2" cy="317.2" r="3.6"/><circle cx="189.6" cy="317.1" r="3.6"/><circle cx="91.5" cy="257.6" r="3.6"/><circle cx="128.6" cy="258" r="3.6"/><circle cx="166.9" cy="258" r="3.6"/><circle cx="205.9" cy="257.6" r="3.6"/><circle cx="89.2" cy="296.9" r="3.6"/><circle cx="128.4" cy="297.2" r="3.6"/><circle cx="168.2" cy="297.2" r="3.6"/><circle cx="209.4" cy="296.9" r="3.6"/><circle cx="86.6" cy="337.8" r="3.6"/><circle cx="127.4" cy="337.8" r="3.6"/><circle cx="168.5" cy="337.8" r="3.6"/><circle cx="211.1" cy="337.8" r="3.6"/><circle cx="75.4" cy="237.7" r="3.6"/><circle cx="71" cy="275.4" r="3.6"/><circle cx="68.9" cy="315.7" r="3.6"/><circle cx="221" cy="237.1" r="3.6"/><circle cx="226.2" cy="276.7" r="3.6"/><circle cx="229.3" cy="317.8" r="3.6"/><circle cx="95.4" cy="222.1" r="3.6"/><circle cx="129.2" cy="222.1" r="3.6"/><circle cx="165.6" cy="222.1" r="3.6"/><circle cx="200.2" cy="222.1" r="3.6"/></g>
<g fill="#8399b6"><circle cx="96.2" cy="241.1" r="6.3"/><circle cx="131.3" cy="241.5" r="6.3"/><circle cx="169" cy="241.5" r="6.3"/><circle cx="206.7" cy="241.1" r="6.3"/><circle cx="92.8" cy="279.3" r="6.3"/><circle cx="132" cy="279.7" r="6.3"/><circle cx="170.8" cy="279.7" r="6.3"/><circle cx="211" cy="279.3" r="6.3"/><circle cx="91.5" cy="319.6" r="6.3"/><circle cx="130.8" cy="319.8" r="6.3"/><circle cx="171.6" cy="319.8" r="6.3"/><circle cx="213.7" cy="319.6" r="6.3"/></g>
<line x1="78" y1="218.3" x2="65" y2="339.5" stroke="#17555f" stroke-width="1.9" stroke-dasharray="3.4 1.3"/>
<line x1="217" y1="218.3" x2="234" y2="339.5" stroke="#17555f" stroke-width="1.9" stroke-dasharray="3.4 1.3"/>
<rect x="54.6" y="340.2" width="188" height="14.6" fill="#97bfc5"/>
<text class="b" x="135.2" y="207.7" font-size="14.3" fill="#111" color="#111" text-anchor="start">Dark</text>
<text class="b" x="118" y="352.8" font-size="14.3" fill="#111" color="#111" text-anchor="start">Substrate</text>
<rect x="294.6" y="188.3" width="192.4" height="151.9" fill="url(#gi)"/>
<g fill="#d0daef" fill-opacity="0.92"><polygon points="336.7,221.7 352.3,238.7 332.7,257.9 316.3,237.6"/><polygon points="370.5,221.7 388.8,238.8 369.9,258.3 351.6,238.6"/><polygon points="406.8,221.7 426.5,238.6 408.2,258.3 388,238.8"/><polygon points="441.4,221.7 462.6,237 447.1,257.9 425.7,238.7"/><polygon points="332.8,257.2 351,276.9 330.4,297.2 311.9,275.3"/><polygon points="369.9,257.6 390,277 369.6,297.5 350.2,276.8"/><polygon points="408.1,257.6 429.5,276.8 409.4,297.5 389.3,277"/><polygon points="447,257.2 467.8,276.6 450.6,297.2 428.7,276.9"/><polygon points="330.4,296.4 349.8,317.1 327.8,338.2 309.7,315.6"/><polygon points="369.7,296.7 389.8,317.1 368.6,338.2 349,317"/><polygon points="409.4,296.7 431.3,317 409.7,338.2 389,317.1"/><polygon points="450.6,296.4 470.9,317.8 452.3,338.2 430.5,317.1"/></g>
<g fill="#e2d5b5"><circle cx="352.6" cy="259.3" r="8.7"/><circle cx="389.5" cy="259.3" r="8.7"/><circle cx="427.5" cy="259.3" r="8.7"/><circle cx="350" cy="298.1" r="8.7"/><circle cx="389.5" cy="298.1" r="8.7"/><circle cx="428.5" cy="298.1" r="8.7"/></g>
<path d="M337.5 241.1Q338.9 231.5 336.7 222.1M337.5 241.1Q344.5 238.1 352.1 238.7M337.5 241.1Q333.4 248.9 332.8 257.6M337.5 241.1Q326.8 241.2 316.7 237.7M372.6 241.5Q369.8 232 370.5 222.1M372.6 241.5Q380.8 242 388.5 238.9M372.6 241.5Q373.1 250 370 258M372.6 241.5Q362.6 238.3 352.1 238.7M410.3 241.5Q410.4 231.5 406.9 222.1M410.3 241.5Q417.9 238.3 426.2 238.7M410.3 241.5Q407.5 249.5 408.2 258M410.3 241.5Q399.2 242 388.5 238.9M448 241.1Q443 232.2 441.5 222.1M448 241.1Q455.6 240.8 462.3 237.1M448 241.1Q449.4 249.4 447.2 257.6M448 241.1Q437.3 238.1 426.2 238.7M334.1 279.3Q331.7 268.6 332.8 257.6M334.1 279.3Q342.7 279.9 350.7 276.9M334.1 279.3Q334 288.4 330.5 296.9M334.1 279.3Q323.5 275.6 312.3 275.4M373.3 279.7Q373.4 268.6 370 258M373.3 279.7Q381.2 276.6 389.7 277.1M373.3 279.7Q369.7 288.1 369.7 297.2M373.3 279.7Q361.8 280.1 350.7 276.9M412.1 279.7Q408.4 269.2 408.2 258M412.1 279.7Q420.9 280.1 429.2 276.9M412.1 279.7Q412.6 288.7 409.5 297.2M412.1 279.7Q401.1 276.6 389.7 277.1M452.3 279.3Q451.5 268 447.2 257.6M452.3 279.3Q459.6 276.2 467.5 276.7M452.3 279.3Q449.7 287.9 450.7 296.9M452.3 279.3Q440.6 279.9 429.2 276.9M332.8 319.6Q333.4 308 330.5 296.9M332.8 319.6Q340.9 316.6 349.5 317.1M332.8 319.6Q328.6 328.2 327.9 337.8M332.8 319.6Q321.2 319.4 310.2 315.7M372.1 319.8Q369.1 308.7 369.7 297.2M372.1 319.8Q381.1 320.3 389.5 317.2M372.1 319.8Q372.2 329.1 368.7 337.8M372.1 319.8Q361 316.7 349.5 317.1M412.9 319.8Q413 308.2 409.5 297.2M412.9 319.8Q421.7 316.7 431 317.1M412.9 319.8Q409.6 328.5 409.8 337.8M412.9 319.8Q401 320.3 389.5 317.2M455 319.6Q451.1 308.6 450.7 296.9M455 319.6Q463 320.5 470.6 317.8M455 319.6Q455.5 329 452.4 337.8M455 319.6Q443.2 316.6 431 317.1" fill="none" stroke="#1e2c4c" stroke-width="1.7" stroke-linecap="round"/>
<g fill="#d5d5d7"><circle cx="352.1" cy="238.7" r="3.6"/><circle cx="388.5" cy="238.9" r="3.6"/><circle cx="426.2" cy="238.7" r="3.6"/><circle cx="350.7" cy="276.9" r="3.6"/><circle cx="389.7" cy="277.1" r="3.6"/><circle cx="429.2" cy="276.9" r="3.6"/><circle cx="349.5" cy="317.1" r="3.6"/><circle cx="389.5" cy="317.2" r="3.6"/><circle cx="431" cy="317.1" r="3.6"/><circle cx="332.8" cy="257.6" r="3.6"/><circle cx="370" cy="258" r="3.6"/><circle cx="408.2" cy="258" r="3.6"/><circle cx="447.2" cy="257.6" r="3.6"/><circle cx="330.5" cy="296.9" r="3.6"/><circle cx="369.7" cy="297.2" r="3.6"/><circle cx="409.5" cy="297.2" r="3.6"/><circle cx="450.7" cy="296.9" r="3.6"/><circle cx="327.9" cy="337.8" r="3.6"/><circle cx="368.7" cy="337.8" r="3.6"/><circle cx="409.8" cy="337.8" r="3.6"/><circle cx="452.4" cy="337.8" r="3.6"/><circle cx="316.7" cy="237.7" r="3.6"/><circle cx="312.3" cy="275.4" r="3.6"/><circle cx="310.2" cy="315.7" r="3.6"/><circle cx="462.3" cy="237.1" r="3.6"/><circle cx="467.5" cy="276.7" r="3.6"/><circle cx="470.6" cy="317.8" r="3.6"/><circle cx="336.7" cy="222.1" r="3.6"/><circle cx="370.5" cy="222.1" r="3.6"/><circle cx="406.9" cy="222.1" r="3.6"/><circle cx="441.5" cy="222.1" r="3.6"/></g>
<g fill="#8399b6"><circle cx="337.5" cy="241.1" r="6.3"/><circle cx="372.6" cy="241.5" r="6.3"/><circle cx="410.3" cy="241.5" r="6.3"/><circle cx="448" cy="241.1" r="6.3"/><circle cx="334.1" cy="279.3" r="6.3"/><circle cx="373.3" cy="279.7" r="6.3"/><circle cx="412.1" cy="279.7" r="6.3"/><circle cx="452.3" cy="279.3" r="6.3"/><circle cx="332.8" cy="319.6" r="6.3"/><circle cx="372.1" cy="319.8" r="6.3"/><circle cx="412.9" cy="319.8" r="6.3"/><circle cx="455" cy="319.6" r="6.3"/></g>
<line x1="321.3" y1="218.5" x2="305.7" y2="339.6" stroke="#78aab0" stroke-width="1.9" stroke-dasharray="3.4 1.3"/>
<line x1="455.2" y1="217.5" x2="473.5" y2="339.6" stroke="#78aab0" stroke-width="1.9" stroke-dasharray="3.4 1.3"/>
<line x1="316.8" y1="218.5" x2="305.7" y2="339.6" stroke="#17555f" stroke-width="1.9" stroke-dasharray="3.4 1.3"/>
<line x1="461" y1="217.5" x2="474.5" y2="339.6" stroke="#17555f" stroke-width="1.9" stroke-dasharray="3.4 1.3"/>
<rect x="295.4" y="340.2" width="189" height="14.6" fill="#97bfc5"/>
<text class="b" x="353.6" y="206.4" font-size="14.3" fill="#111" color="#111" text-anchor="start">Illumination</text>
<text class="b" x="359.6" y="352.8" font-size="14.3" fill="#111" color="#111" text-anchor="start">Substrate</text>
<rect x="539.4" y="188.3" width="192.4" height="151.9" fill="url(#gd)"/>
<g fill="#d0daef" fill-opacity="0.92"><polygon points="581.5,221.7 597.1,238.7 577.5,257.9 561.1,237.6"/><polygon points="616.4,232.3 633.6,238.8 614.7,258.3 596.4,238.6"/><polygon points="651.6,221.7 671.3,238.6 653,258.3 632.8,238.8"/><polygon points="686.2,221.7 707.4,237 691.9,257.9 670.5,238.7"/><polygon points="577.6,257.2 595.8,276.9 575.2,297.2 556.7,275.3"/><polygon points="614.7,257.6 634.8,277 614.4,297.5 595,276.8"/><polygon points="652.9,257.6 674.3,276.8 654.2,297.5 634.1,277"/><polygon points="691.8,257.2 712.6,276.6 695.4,297.2 673.5,276.9"/><polygon points="575.2,296.4 594.6,317.1 572.6,338.2 554.5,315.6"/><polygon points="614.5,296.7 634.6,317.1 613.4,338.2 593.8,317"/><polygon points="654.2,296.7 676.1,317 654.5,338.2 633.8,317.1"/><polygon points="695.4,296.4 715.7,317.8 697.1,338.2 675.3,317.1"/></g>
<g fill="#e2d5b5"><circle cx="597.4" cy="259.3" r="8.7"/><circle cx="634.3" cy="259.3" r="8.7"/><circle cx="672.3" cy="259.3" r="8.7"/><circle cx="594.8" cy="298.1" r="8.7"/><circle cx="634.3" cy="298.1" r="8.7"/><circle cx="673.3" cy="298.1" r="8.7"/></g>
<path d="M582.3 241.1Q583.7 231.5 581.5 222.1M582.3 241.1Q589.3 238.1 596.9 238.7M582.3 241.1Q578.2 248.9 577.6 257.6M582.3 241.1Q571.6 241.2 561.5 237.7M617.4 241.5Q625.6 242 633.2 238.9M617.4 241.5Q617.9 250 614.8 258M617.4 241.5Q607.4 238.3 596.9 238.7M655.1 241.5Q655.2 231.5 651.7 222.1M655.1 241.5Q662.7 238.3 671 238.7M655.1 241.5Q652.3 249.5 653 258M655.1 241.5Q644 242 633.2 238.9M692.8 241.1Q687.8 232.2 686.3 222.1M692.8 241.1Q700.4 240.8 707.1 237.1M692.8 241.1Q694.2 249.4 692 257.6M692.8 241.1Q682.1 238.1 671 238.7M578.9 279.3Q576.5 268.6 577.6 257.6M578.9 279.3Q587.5 279.9 595.5 276.9M578.9 279.3Q578.8 288.4 575.2 296.9M578.9 279.3Q568.3 275.6 557.1 275.4M618.1 279.7Q618.2 268.6 614.8 258M618.1 279.7Q626 276.6 634.5 277.1M618.1 279.7Q614.5 288.1 614.5 297.2M618.1 279.7Q606.6 280.1 595.5 276.9M656.9 279.7Q653.2 269.2 653 258M656.9 279.7Q665.7 280.1 674 276.9M656.9 279.7Q657.4 288.7 654.3 297.2M656.9 279.7Q645.9 276.6 634.5 277.1M697.1 279.3Q696.3 268 692 257.6M697.1 279.3Q704.4 276.2 712.3 276.7M697.1 279.3Q694.5 287.9 695.5 296.9M697.1 279.3Q685.4 279.9 674 276.9M577.6 319.6Q578.2 308 575.2 296.9M577.6 319.6Q585.7 316.6 594.2 317.1M577.6 319.6Q573.4 328.2 572.7 337.8M577.6 319.6Q566 319.4 555 315.7M616.9 319.8Q613.9 308.7 614.5 297.2M616.9 319.8Q625.9 320.3 634.3 317.2M616.9 319.8Q617 329.1 613.5 337.8M616.9 319.8Q605.8 316.7 594.2 317.1M657.7 319.8Q657.8 308.2 654.3 297.2M657.7 319.8Q666.5 316.7 675.8 317.1M657.7 319.8Q654.4 328.5 654.6 337.8M657.7 319.8Q645.8 320.3 634.3 317.2M699.8 319.6Q695.9 308.6 695.5 296.9M699.8 319.6Q707.8 320.5 715.4 317.8M699.8 319.6Q700.3 329 697.2 337.8M699.8 319.6Q688 316.6 675.8 317.1" fill="none" stroke="#1e2c4c" stroke-width="1.7" stroke-linecap="round"/>
<g fill="#d5d5d7"><circle cx="596.9" cy="238.7" r="3.6"/><circle cx="633.2" cy="238.9" r="3.6"/><circle cx="671" cy="238.7" r="3.6"/><circle cx="595.5" cy="276.9" r="3.6"/><circle cx="634.5" cy="277.1" r="3.6"/><circle cx="674" cy="276.9" r="3.6"/><circle cx="594.2" cy="317.1" r="3.6"/><circle cx="634.3" cy="317.2" r="3.6"/><circle cx="675.8" cy="317.1" r="3.6"/><circle cx="577.6" cy="257.6" r="3.6"/><circle cx="614.8" cy="258" r="3.6"/><circle cx="653" cy="258" r="3.6"/><circle cx="692" cy="257.6" r="3.6"/><circle cx="575.2" cy="296.9" r="3.6"/><circle cx="614.5" cy="297.2" r="3.6"/><circle cx="654.3" cy="297.2" r="3.6"/><circle cx="695.5" cy="296.9" r="3.6"/><circle cx="572.7" cy="337.8" r="3.6"/><circle cx="613.5" cy="337.8" r="3.6"/><circle cx="654.6" cy="337.8" r="3.6"/><circle cx="697.2" cy="337.8" r="3.6"/><circle cx="561.5" cy="237.7" r="3.6"/><circle cx="557.1" cy="275.4" r="3.6"/><circle cx="555" cy="315.7" r="3.6"/><circle cx="707.1" cy="237.1" r="3.6"/><circle cx="712.3" cy="276.7" r="3.6"/><circle cx="715.4" cy="317.8" r="3.6"/><circle cx="581.5" cy="222.1" r="3.6"/><circle cx="651.7" cy="222.1" r="3.6"/><circle cx="686.3" cy="222.1" r="3.6"/></g>
<g fill="#8399b6"><circle cx="582.3" cy="241.1" r="6.3"/><circle cx="617.4" cy="241.5" r="6.3"/><circle cx="655.1" cy="241.5" r="6.3"/><circle cx="692.8" cy="241.1" r="6.3"/><circle cx="578.9" cy="279.3" r="6.3"/><circle cx="618.1" cy="279.7" r="6.3"/><circle cx="656.9" cy="279.7" r="6.3"/><circle cx="697.1" cy="279.3" r="6.3"/><circle cx="577.6" cy="319.6" r="6.3"/><circle cx="616.9" cy="319.8" r="6.3"/><circle cx="657.7" cy="319.8" r="6.3"/><circle cx="699.8" cy="319.6" r="6.3"/></g>
<circle cx="617.6" cy="242.7" r="15.7" fill="none" stroke="#d8302a" stroke-width="1.9" stroke-dasharray="3.6 2.2"/>
<line x1="561.4" y1="218.5" x2="548.5" y2="339.6" stroke="#78aab0" stroke-width="1.9" stroke-dasharray="3.4 1.3"/>
<line x1="707.9" y1="219.2" x2="722.5" y2="339.6" stroke="#78aab0" stroke-width="1.9" stroke-dasharray="3.4 1.3"/>
<line x1="571.8" y1="218.5" x2="549.2" y2="339.6" stroke="#17555f" stroke-width="1.9" stroke-dasharray="3.4 1.3"/>
<line x1="697.7" y1="219.2" x2="723.3" y2="339.6" stroke="#17555f" stroke-width="1.9" stroke-dasharray="3.4 1.3"/>
<rect x="541.2" y="340.2" width="188" height="14.6" fill="#97bfc5"/>
<text class="b" x="617.4" y="209" font-size="14.3" fill="#111" color="#111" text-anchor="start">Dark</text>
<text class="b" x="604.4" y="352.8" font-size="14.3" fill="#111" color="#111" text-anchor="start">Substrate</text>
<rect x="785" y="188.3" width="192.4" height="151.9" fill="url(#gi)"/>
<g fill="#d0daef" fill-opacity="0.92"><polygon points="827.1,221.7 842.7,238.7 823.1,257.9 806.7,237.6"/><polygon points="897.2,221.7 916.9,238.6 898.6,258.3 878.4,238.8"/><polygon points="931.8,221.7 953,237 937.5,257.9 916.1,238.7"/><polygon points="823.2,257.2 841.4,276.9 820.8,297.2 802.3,275.3"/><polygon points="860.3,257.6 880.4,277 860,297.5 840.6,276.8"/><polygon points="898.5,257.6 919.9,276.8 899.8,297.5 879.7,277"/><polygon points="937.4,257.2 958.2,276.6 941,297.2 919.1,276.9"/><polygon points="820.8,296.4 840.2,317.1 818.2,338.2 800.1,315.6"/><polygon points="860.1,296.7 880.2,317.1 859,338.2 839.4,317"/><polygon points="899.8,296.7 921.7,317 900.1,338.2 879.4,317.1"/><polygon points="941,296.4 961.3,317.8 942.7,338.2 920.9,317.1"/></g>
<g fill="#e2d5b5"><circle cx="843" cy="259.3" r="8.7"/><circle cx="879.9" cy="259.3" r="8.7"/><circle cx="917.9" cy="259.3" r="8.7"/><circle cx="840.4" cy="298.1" r="8.7"/><circle cx="879.9" cy="298.1" r="8.7"/><circle cx="918.9" cy="298.1" r="8.7"/></g>
<path d="M827.9 241.1Q829.3 231.5 827.1 222.1M827.9 241.1Q834.9 238.1 842.5 238.7M827.9 241.1Q823.8 248.9 823.2 257.6M827.9 241.1Q817.2 241.2 807.1 237.7M900.7 241.5Q900.8 231.5 897.3 222.1M900.7 241.5Q904.7 239 909.4 240M900.7 241.5Q897.9 249.5 898.6 258M900.7 241.5Q889.6 242 878.9 238.9M938.4 241.1Q933.4 232.2 931.9 222.1M938.4 241.1Q946 240.8 952.7 237.1M938.4 241.1Q939.8 249.4 937.5 257.6M938.4 241.1Q932.6 238.7 926.4 239.8M824.5 279.3Q822.1 268.6 823.2 257.6M824.5 279.3Q833.1 279.9 841.1 276.9M824.5 279.3Q824.4 288.4 820.9 296.9M824.5 279.3Q813.9 275.6 802.7 275.4M863.7 279.7Q863.8 268.6 860.4 258M863.7 279.7Q871.6 276.6 880.1 277.1M863.7 279.7Q860.1 288.1 860.1 297.2M863.7 279.7Q852.2 280.1 841.1 276.9M902.5 279.7Q898.8 269.2 898.6 258M902.5 279.7Q911.3 280.1 919.6 276.9M902.5 279.7Q903 288.7 899.9 297.2M902.5 279.7Q891.5 276.6 880.1 277.1M942.7 279.3Q941.9 268 937.5 257.6M942.7 279.3Q950 276.2 957.9 276.7M942.7 279.3Q940.1 287.9 941 296.9M942.7 279.3Q931 279.9 919.6 276.9M823.2 319.6Q823.8 308 820.9 296.9M823.2 319.6Q831.3 316.6 839.9 317.1M823.2 319.6Q819 328.2 818.3 337.8M823.2 319.6Q811.6 319.4 800.6 315.7M862.5 319.8Q859.5 308.7 860.1 297.2M862.5 319.8Q871.5 320.3 879.9 317.2M862.5 319.8Q862.6 329.1 859.1 337.8M862.5 319.8Q851.4 316.7 839.9 317.1M903.3 319.8Q903.4 308.2 899.9 297.2M903.3 319.8Q912.1 316.7 921.4 317.1M903.3 319.8Q900 328.5 900.2 337.8M903.3 319.8Q891.4 320.3 879.9 317.2M945.4 319.6Q941.5 308.6 941 296.9M945.4 319.6Q953.4 320.5 961 317.8M945.4 319.6Q945.9 329 942.8 337.8M945.4 319.6Q933.6 316.6 921.4 317.1" fill="none" stroke="#1e2c4c" stroke-width="1.7" stroke-linecap="round"/>
<g fill="#d5d5d7"><circle cx="842.5" cy="238.7" r="3.6"/><circle cx="878.9" cy="238.9" r="3.6"/><circle cx="841.1" cy="276.9" r="3.6"/><circle cx="880.1" cy="277.1" r="3.6"/><circle cx="919.6" cy="276.9" r="3.6"/><circle cx="839.9" cy="317.1" r="3.6"/><circle cx="879.9" cy="317.2" r="3.6"/><circle cx="823.2" cy="257.6" r="3.6"/><circle cx="860.4" cy="258" r="3.6"/><circle cx="898.6" cy="258" r="3.6"/><circle cx="937.5" cy="257.6" r="3.6"/><circle cx="820.9" cy="296.9" r="3.6"/><circle cx="860.1" cy="297.2" r="3.6"/><circle cx="899.9" cy="297.2" r="3.6"/><circle cx="941" cy="296.9" r="3.6"/><circle cx="818.3" cy="337.8" r="3.6"/><circle cx="859.1" cy="337.8" r="3.6"/><circle cx="900.2" cy="337.8" r="3.6"/><circle cx="942.8" cy="337.8" r="3.6"/><circle cx="807.1" cy="237.7" r="3.6"/><circle cx="802.7" cy="275.4" r="3.6"/><circle cx="800.6" cy="315.7" r="3.6"/><circle cx="952.7" cy="237.1" r="3.6"/><circle cx="957.9" cy="276.7" r="3.6"/><circle cx="961" cy="317.8" r="3.6"/><circle cx="827.1" cy="222.1" r="3.6"/><circle cx="897.3" cy="222.1" r="3.6"/><circle cx="931.9" cy="222.1" r="3.6"/><circle cx="823.2" cy="319.6" r="4.6"/></g>
<g fill="#8399b6"><circle cx="827.9" cy="241.1" r="6.3"/><circle cx="900.7" cy="241.5" r="6.3"/><circle cx="938.4" cy="241.1" r="6.3"/><circle cx="824.5" cy="279.3" r="6.3"/><circle cx="863.7" cy="279.7" r="6.3"/><circle cx="902.5" cy="279.7" r="6.3"/><circle cx="942.7" cy="279.3" r="6.3"/><circle cx="862.5" cy="319.8" r="6.3"/><circle cx="903.3" cy="319.8" r="6.3"/><circle cx="945.4" cy="319.6" r="6.3"/><circle cx="921.4" cy="317.1" r="6.3"/></g>
<circle cx="860.5" cy="237.3" r="19.8" fill="none" stroke="#d8302a" stroke-width="1.9" stroke-dasharray="3.6 2.2"/>
<circle cx="823.2" cy="319.6" r="6.6" fill="none" stroke="#d8302a" stroke-width="1.9" stroke-dasharray="3.6 2.2"/>
<circle cx="916.5" cy="238.7" r="5" fill="#fff" stroke="#d8302a" stroke-width="1.9" stroke-dasharray="3.6 2.2"/>
<circle cx="921.4" cy="317.1" r="8.4" fill="none" stroke="#d8302a" stroke-width="1.9" stroke-dasharray="3.6 2.2"/>
<line x1="815.6" y1="215.6" x2="793" y2="339.6" stroke="#78aab0" stroke-width="1.9" stroke-dasharray="3.4 1.3"/>
<line x1="944.1" y1="218.5" x2="965.5" y2="339.6" stroke="#78aab0" stroke-width="1.9" stroke-dasharray="3.4 1.3"/>
<line x1="809.2" y1="215.6" x2="792.1" y2="339.6" stroke="#17555f" stroke-width="1.9" stroke-dasharray="3.4 1.3"/>
<line x1="949.8" y1="218.5" x2="966.2" y2="339.6" stroke="#17555f" stroke-width="1.9" stroke-dasharray="3.4 1.3"/>
<rect x="787.3" y="340.2" width="188" height="14.6" fill="#97bfc5"/>
<text class="b" x="846.6" y="209.5" font-size="14.3" fill="#111" color="#111" text-anchor="start">Illumination</text>
<text class="b" x="851.3" y="352.8" font-size="14.3" fill="#111" color="#111" text-anchor="start">Substrate</text>
<polygon points="256.2,259.8 270.3,259.8 270.3,241.1 283.8,277.6 270.3,313.7 270.3,295.9 256.2,295.9" fill="#d4e4e9"/>
<polygon points="500.4,259.8 514.5,259.8 514.5,241.1 528,277.6 514.5,313.7 514.5,295.9 500.4,295.9" fill="#d4e4e9"/>
<polygon points="747.8,259.8 761.9,259.8 761.9,241.1 775.4,277.6 761.9,313.7 761.9,295.9 747.8,295.9" fill="#d4e4e9"/>
<line x1="328.5" y1="209.9" x2="313" y2="209.9" stroke="#5d9da4" stroke-width="2.2" stroke-opacity="0.85"/>
<polygon points="310,209.9 318,205.9 315.5,209.9 318,213.9" fill="#5d9da4"/>
<line x1="448.3" y1="210.1" x2="464.6" y2="210.1" stroke="#5d9da4" stroke-width="2.2" stroke-opacity="0.85"/>
<polygon points="467.6,210.1 459.6,206.1 462.1,210.1 459.6,214.1" fill="#5d9da4"/>
<line x1="558.5" y1="211.1" x2="577.6" y2="211.1" stroke="#5d9da4" stroke-width="2.2" stroke-opacity="0.85"/>
<polygon points="580.6,211.1 572.6,207.1 575.1,211.1 572.6,215.1" fill="#5d9da4"/>
<line x1="713.3" y1="212.4" x2="695.7" y2="212.4" stroke="#5d9da4" stroke-width="2.2" stroke-opacity="0.85"/>
<polygon points="692.7,212.4 700.7,208.4 698.2,212.4 700.7,216.4" fill="#5d9da4"/>
<line x1="818.5" y1="211.4" x2="805.8" y2="211.4" stroke="#5d9da4" stroke-width="2.2" stroke-opacity="0.85"/>
<polygon points="802.8,211.4 810.8,207.4 808.3,211.4 810.8,215.4" fill="#5d9da4"/>
<line x1="939.8" y1="214.2" x2="953.2" y2="214.2" stroke="#5d9da4" stroke-width="2.2" stroke-opacity="0.85"/>
<polygon points="956.2,214.2 948.2,210.2 950.7,214.2 948.2,218.2" fill="#5d9da4"/>
<rect x="52" y="742" width="192" height="148.8" fill="url(#gd)"/>
<g fill="#d0daef" fill-opacity="0.92"><polygon points="88.3,778.9 110.4,798.7 91.9,817.6 70.2,797.9"/><polygon points="127.3,778.9 149.4,798.7 130.2,817.6 109.6,798.7"/><polygon points="168.4,778.9 188.1,798.7 167.9,817.6 148.6,798.7"/><polygon points="209.3,778.9 227,800.1 205.9,817.6 187.4,798.7"/><polygon points="91.8,816.8 112.4,835.6 93.4,853.9 76.3,838.3"/><polygon points="130.2,816.8 149.4,835.6 131.1,853.9 111.6,835.6"/><polygon points="167.9,816.8 186.5,835.6 166.6,853.9 148.7,835.6"/><polygon points="206,816.8 222.6,838.3 204,853.9 185.7,835.6"/><polygon points="93.4,853.1 112.9,871.3 93.5,890.6 75,872.1"/><polygon points="131.1,853.1 149,871.3 131.2,890.6 112.1,871.3"/><polygon points="166.6,853.1 184.9,871.3 165.5,890.6 148.3,871.3"/><polygon points="204.1,853.1 221.3,873.4 200.1,890.6 184.2,871.3"/></g>
<g fill="#e2d5b5"><circle cx="111.3" cy="815.7" r="8.7"/><circle cx="149" cy="815.7" r="8.7"/><circle cx="187.2" cy="815.7" r="8.7"/><circle cx="111.8" cy="851.3" r="8.7"/><circle cx="149.5" cy="851.3" r="8.7"/><circle cx="187.2" cy="851.3" r="8.7"/></g>
<path d="M93.6 801.4Q92.8 789.9 88.4 779.3M93.6 801.4Q101.6 798.3 110.1 798.8M93.6 801.4Q91 809.1 91.9 817.2M93.6 801.4Q81.9 801.5 70.7 798M132.6 801.4Q128.2 790.8 127.4 779.3M132.6 801.4Q141.1 801.9 149.1 798.8M132.6 801.4Q133.2 809.6 130.2 817.2M132.6 801.4Q121.6 798.3 110.1 798.8M171.6 801.4Q171.8 790.1 168.5 779.3M171.6 801.4Q179.4 798.3 187.8 798.8M171.6 801.4Q168 808.9 167.9 817.2M171.6 801.4Q160.1 801.9 149.1 798.8M210 801.4Q207.9 790.4 209.3 779.3M210 801.4Q218.5 802.5 226.7 800.1M210 801.4Q209.7 809.8 206 817.2M210 801.4Q199.1 798.3 187.8 798.8M96.2 838.3Q92.3 828.1 91.9 817.2M96.2 838.3Q104.4 838.8 112.1 835.7M96.2 838.3Q96.6 846.2 93.5 853.5M96.2 838.3Q86.5 836.5 76.7 838.3M133.9 838.3Q133.8 827.5 130.2 817.2M133.9 838.3Q141.2 835.2 149.1 835.7M133.9 838.3Q130.8 845.6 131.2 853.5M133.9 838.3Q122.8 838.8 112.1 835.7M170.3 838.3Q167.3 828 167.9 817.2M170.3 838.3Q178.5 838.8 186.2 835.7M170.3 838.3Q170.2 846.3 166.7 853.5M170.3 838.3Q159.9 835.2 149.1 835.7M208 838.3Q208.8 827.6 206 817.2M208 838.3Q215.2 836.5 222.3 838.3M208 838.3Q204.3 845.5 204.1 853.5M208 838.3Q196.9 838.8 186.2 835.7M96.7 874Q96.9 863.5 93.5 853.5M96.7 874Q104.3 870.9 112.6 871.4M96.7 874Q93.4 881.8 93.6 890.3M96.7 874Q85.9 874.8 75.4 872.1M134.4 874Q131 864.1 131.2 853.5M134.4 874Q141.9 874.5 148.7 871.4M134.4 874Q134.6 882.5 131.3 890.3M134.4 874Q123.7 870.9 112.6 871.4M169 874Q169.6 863.6 166.7 853.5M169 874Q176.5 870.9 184.6 871.4M169 874Q165.5 881.8 165.6 890.3M169 874Q158.6 874.5 148.7 871.4M206.2 874Q203.4 864 204.1 853.5M206.2 874Q213.7 875.5 221 873.4M206.2 874Q204.9 882.8 200.2 890.3M206.2 874Q195.6 870.9 184.6 871.4" fill="none" stroke="#1e2c4c" stroke-width="1.7" stroke-linecap="round"/>
<g fill="#d5d5d7"><circle cx="110.1" cy="798.8" r="3.6"/><circle cx="149.1" cy="798.8" r="3.6"/><circle cx="187.8" cy="798.8" r="3.6"/><circle cx="112.1" cy="835.7" r="3.6"/><circle cx="149.1" cy="835.7" r="3.6"/><circle cx="186.2" cy="835.7" r="3.6"/><circle cx="112.6" cy="871.4" r="3.6"/><circle cx="148.7" cy="871.4" r="3.6"/><circle cx="184.6" cy="871.4" r="3.6"/><circle cx="91.9" cy="817.2" r="3.6"/><circle cx="130.2" cy="817.2" r="3.6"/><circle cx="167.9" cy="817.2" r="3.6"/><circle cx="206" cy="817.2" r="3.6"/><circle cx="93.5" cy="853.5" r="3.6"/><circle cx="131.2" cy="853.5" r="3.6"/><circle cx="166.7" cy="853.5" r="3.6"/><circle cx="204.1" cy="853.5" r="3.6"/><circle cx="93.6" cy="890.3" r="3.6"/><circle cx="131.3" cy="890.3" r="3.6"/><circle cx="165.6" cy="890.3" r="3.6"/><circle cx="200.2" cy="890.3" r="3.6"/><circle cx="70.7" cy="798" r="3.6"/><circle cx="76.7" cy="838.3" r="3.6"/><circle cx="75.4" cy="872.1" r="3.6"/><circle cx="226.7" cy="800.1" r="3.6"/><circle cx="222.3" cy="838.3" r="3.6"/><circle cx="221" cy="873.4" r="3.6"/><circle cx="88.4" cy="779.3" r="3.6"/><circle cx="127.4" cy="779.3" r="3.6"/><circle cx="168.5" cy="779.3" r="3.6"/><circle cx="209.3" cy="779.3" r="3.6"/></g>
<g fill="#8399b6"><circle cx="93.6" cy="801.4" r="6.3"/><circle cx="132.6" cy="801.4" r="6.3"/><circle cx="171.6" cy="801.4" r="6.3"/><circle cx="210" cy="801.4" r="6.3"/><circle cx="96.2" cy="838.3" r="6.3"/><circle cx="133.9" cy="838.3" r="6.3"/><circle cx="170.3" cy="838.3" r="6.3"/><circle cx="208" cy="838.3" r="6.3"/><circle cx="96.7" cy="874" r="6.3"/><circle cx="134.4" cy="874" r="6.3"/><circle cx="169" cy="874" r="6.3"/><circle cx="206.2" cy="874" r="6.3"/></g>
<g opacity="0.85"><polygon points="88.6,884 85.8,885.8 82.9,884.2 82.8,880.8 85.6,879.1 88.6,880.7" fill="none" stroke="#a3afba" stroke-width="0.9"/><polyline points="89.2,877.9 91.4,879.5 93.6,877.9 95.8,880 98,877.2 100.2,880.9" fill="none" stroke="#e2a684" stroke-width="0.8"/><polygon points="104.6,889 101.8,890.7 99,889.2 98.9,886 101.7,884.3 104.5,885.8" fill="none" stroke="#a3afba" stroke-width="0.9"/><polyline points="105.2,883.6 107.4,885.6 109.6,884.2 111.8,884.8 114,882.8 116.2,886.2" fill="none" stroke="#d49cc0" stroke-width="0.8"/><polygon points="117.9,886.3 115.4,887.9 112.7,886.5 112.6,883.4 115.2,881.9 117.9,883.3" fill="none" stroke="#a3afba" stroke-width="0.9"/><polyline points="118.8,880.6 121,882.7 123.2,880.2 125.4,881.6 127.6,881.5 129.8,883.1" fill="none" stroke="#9fb0bd" stroke-width="0.8"/><polygon points="135.8,887.5 133.1,889.2 130.4,887.6 130.3,884.5 133,882.9 135.8,884.4" fill="none" stroke="#a3afba" stroke-width="0.9"/><polyline points="136.6,881.1 138.8,882.6 141,881.2 143.2,882.9 145.4,880.6 147.6,883.9" fill="none" stroke="#e2a684" stroke-width="0.8"/><polygon points="153.5,884.1 151.2,885.5 148.7,884.2 148.7,881.4 151,880 153.5,881.3" fill="none" stroke="#a3afba" stroke-width="0.9"/><polyline points="154.6,877.8 156.8,879.6 159,878.2 161.2,879.9 163.4,877.3 165.6,879.9" fill="none" stroke="#a9b6c2" stroke-width="0.8"/><polygon points="167.5,884.4 165.1,885.9 162.7,884.5 162.6,881.7 165,880.3 167.5,881.6" fill="none" stroke="#a3afba" stroke-width="0.9"/><polyline points="168.6,878.5 170.8,880.1 173,878.2 175.2,880.5 177.4,879.4 179.6,879.4" fill="none" stroke="#e2a684" stroke-width="0.8"/><polygon points="184.8,884.2 182.4,885.7 179.9,884.4 179.9,881.5 182.3,880.1 184.7,881.4" fill="none" stroke="#a3afba" stroke-width="0.9"/><polyline points="185.8,878.6 188,880.5 190.2,878.8 192.4,880.9 194.6,878.8 196.8,880.3" fill="none" stroke="#d49cc0" stroke-width="0.8"/><polygon points="203.6,887.5 201.2,888.9 198.9,887.6 198.8,884.9 201.1,883.5 203.5,884.8" fill="none" stroke="#a3afba" stroke-width="0.9"/><polyline points="204.7,882.3 206.9,884.2 209.1,882.1 211.3,883.5 213.5,882.2 215.7,884.6" fill="none" stroke="#9fb0bd" stroke-width="0.8"/><polygon points="216.8,885.6 214.4,887 211.9,885.7 211.8,882.9 214.2,881.4 216.7,882.7" fill="none" stroke="#a3afba" stroke-width="0.9"/><polyline points="217.8,883.1 220,884.7 222.2,883.3 224.4,884.3 226.6,882.3 228.8,886.4" fill="none" stroke="#e2a684" stroke-width="0.8"/></g>
<line x1="69.7" y1="780.3" x2="79.3" y2="891" stroke="#17555f" stroke-width="1.9" stroke-dasharray="3.4 1.3"/>
<line x1="228.3" y1="776" x2="219.7" y2="891" stroke="#17555f" stroke-width="1.9" stroke-dasharray="3.4 1.3"/>
<rect x="53.3" y="890.8" width="188.5" height="15" fill="#97bfc5"/>
<text class="b" x="132.6" y="760.8" font-size="14.3" fill="#111" color="#111" text-anchor="start">Dark</text>
<text class="b" x="117" y="903.3" font-size="14.3" fill="#111" color="#111" text-anchor="start">Substrate</text>
<rect x="294.6" y="742" width="192" height="148.8" fill="url(#gi)"/>
<g fill="#d0daef" fill-opacity="0.92"><polygon points="330.9,778.9 353,798.7 334.5,817.6 312.8,797.9"/><polygon points="369.9,778.9 392,798.7 372.8,817.6 352.2,798.7"/><polygon points="411,778.9 430.7,798.7 410.5,817.6 391.2,798.7"/><polygon points="451.9,778.9 469.6,800.1 448.5,817.6 430,798.7"/><polygon points="334.4,816.8 355,835.6 336,853.9 318.9,838.3"/><polygon points="372.8,816.8 392,835.6 373.7,853.9 354.2,835.6"/><polygon points="410.5,816.8 429.1,835.6 409.2,853.9 391.3,835.6"/><polygon points="448.6,816.8 465.2,838.3 446.6,853.9 428.3,835.6"/><polygon points="336,853.1 355.5,871.3 336.1,890.6 317.6,872.1"/><polygon points="373.7,853.1 391.6,871.3 373.8,890.6 354.7,871.3"/><polygon points="409.2,853.1 427.5,871.3 408.1,890.6 390.9,871.3"/><polygon points="446.7,853.1 463.9,873.4 442.7,890.6 426.8,871.3"/></g>
<g fill="#e2d5b5"><circle cx="353.9" cy="815.7" r="8.7"/><circle cx="391.6" cy="815.7" r="8.7"/><circle cx="429.8" cy="815.7" r="8.7"/><circle cx="354.4" cy="851.3" r="8.7"/><circle cx="392.1" cy="851.3" r="8.7"/><circle cx="429.8" cy="851.3" r="8.7"/></g>
<path d="M336.2 801.4Q335.4 789.9 331 779.3M336.2 801.4Q344.2 798.3 352.7 798.8M336.2 801.4Q333.6 809.1 334.5 817.2M336.2 801.4Q324.5 801.5 313.3 798M375.2 801.4Q370.8 790.8 370 779.3M375.2 801.4Q383.7 801.9 391.7 798.8M375.2 801.4Q375.8 809.6 372.9 817.2M375.2 801.4Q364.2 798.3 352.7 798.8M414.2 801.4Q414.4 790.1 411.1 779.3M414.2 801.4Q422 798.3 430.4 798.8M414.2 801.4Q410.6 808.9 410.6 817.2M414.2 801.4Q402.7 801.9 391.7 798.8M452.6 801.4Q450.5 790.4 451.9 779.3M452.6 801.4Q461.1 802.5 469.3 800.1M452.6 801.4Q452.3 809.8 448.6 817.2M452.6 801.4Q441.7 798.3 430.4 798.8M338.8 838.3Q334.9 828.1 334.5 817.2M338.8 838.3Q347 838.8 354.7 835.7M338.8 838.3Q339.2 846.2 336.1 853.5M338.8 838.3Q329.1 836.5 319.3 838.3M376.5 838.3Q376.4 827.5 372.9 817.2M376.5 838.3Q383.8 835.2 391.7 835.7M376.5 838.3Q373.4 845.6 373.8 853.5M376.5 838.3Q365.4 838.8 354.7 835.7M412.9 838.3Q409.9 828 410.6 817.2M412.9 838.3Q421.1 838.8 428.8 835.7M412.9 838.3Q412.8 846.3 409.2 853.5M412.9 838.3Q402.5 835.2 391.7 835.7M450.6 838.3Q451.4 827.6 448.6 817.2M450.6 838.3Q457.8 836.5 464.9 838.3M450.6 838.3Q446.9 845.5 446.7 853.5M450.6 838.3Q439.5 838.8 428.8 835.7M339.3 874Q339.5 863.5 336.1 853.5M339.3 874Q346.9 870.9 355.2 871.4M339.3 874Q336 881.8 336.2 890.3M339.3 874Q328.5 874.8 318 872.1M377 874Q373.6 864.1 373.8 853.5M377 874Q384.5 874.5 391.3 871.4M377 874Q377.2 882.5 373.9 890.3M377 874Q366.3 870.9 355.2 871.4M411.6 874Q412.2 863.6 409.2 853.5M411.6 874Q419.1 870.9 427.2 871.4M411.6 874Q408.1 881.8 408.2 890.3M411.6 874Q401.2 874.5 391.3 871.4M448.8 874Q446 864 446.7 853.5M448.8 874Q456.3 875.5 463.6 873.4M448.8 874Q447.5 882.8 442.8 890.3M448.8 874Q438.2 870.9 427.2 871.4" fill="none" stroke="#1e2c4c" stroke-width="1.7" stroke-linecap="round"/>
<g fill="#d5d5d7"><circle cx="352.7" cy="798.8" r="3.6"/><circle cx="391.7" cy="798.8" r="3.6"/><circle cx="430.4" cy="798.8" r="3.6"/><circle cx="354.7" cy="835.7" r="3.6"/><circle cx="391.7" cy="835.7" r="3.6"/><circle cx="428.8" cy="835.7" r="3.6"/><circle cx="355.2" cy="871.4" r="3.6"/><circle cx="391.3" cy="871.4" r="3.6"/><circle cx="427.2" cy="871.4" r="3.6"/><circle cx="334.5" cy="817.2" r="3.6"/><circle cx="372.9" cy="817.2" r="3.6"/><circle cx="410.6" cy="817.2" r="3.6"/><circle cx="448.6" cy="817.2" r="3.6"/><circle cx="336.1" cy="853.5" r="3.6"/><circle cx="373.8" cy="853.5" r="3.6"/><circle cx="409.2" cy="853.5" r="3.6"/><circle cx="446.7" cy="853.5" r="3.6"/><circle cx="336.2" cy="890.3" r="3.6"/><circle cx="373.9" cy="890.3" r="3.6"/><circle cx="408.2" cy="890.3" r="3.6"/><circle cx="442.8" cy="890.3" r="3.6"/><circle cx="313.3" cy="798" r="3.6"/><circle cx="319.3" cy="838.3" r="3.6"/><circle cx="318" cy="872.1" r="3.6"/><circle cx="469.3" cy="800.1" r="3.6"/><circle cx="464.9" cy="838.3" r="3.6"/><circle cx="463.6" cy="873.4" r="3.6"/><circle cx="331" cy="779.3" r="3.6"/><circle cx="370" cy="779.3" r="3.6"/><circle cx="411.1" cy="779.3" r="3.6"/><circle cx="451.9" cy="779.3" r="3.6"/></g>
<g fill="#8399b6"><circle cx="336.2" cy="801.4" r="6.3"/><circle cx="375.2" cy="801.4" r="6.3"/><circle cx="414.2" cy="801.4" r="6.3"/><circle cx="452.6" cy="801.4" r="6.3"/><circle cx="338.8" cy="838.3" r="6.3"/><circle cx="376.5" cy="838.3" r="6.3"/><circle cx="412.9" cy="838.3" r="6.3"/><circle cx="450.6" cy="838.3" r="6.3"/><circle cx="339.3" cy="874" r="6.3"/><circle cx="377" cy="874" r="6.3"/><circle cx="411.6" cy="874" r="6.3"/><circle cx="448.8" cy="874" r="6.3"/></g>
<g opacity="0.85"><polygon points="331.5,887.6 329,889.2 326.3,887.7 326.2,884.7 328.8,883.1 331.5,884.6" fill="none" stroke="#a3afba" stroke-width="0.9"/><polyline points="332.4,882.2 334.6,884.2 336.8,882.2 339,884.1 341.2,882.3 343.4,883.6" fill="none" stroke="#e2a684" stroke-width="0.8"/><polygon points="348.3,888.8 345.8,890.4 343.2,889 343.1,886 345.6,884.4 348.2,885.9" fill="none" stroke="#a3afba" stroke-width="0.9"/><polyline points="349.2,884.1 351.4,886.1 353.6,884.7 355.8,885.9 358,883.6 360.2,885.1" fill="none" stroke="#d49cc0" stroke-width="0.8"/><polygon points="364.7,885.6 362.2,887.1 359.5,885.7 359.5,882.7 362,881.2 364.6,882.6" fill="none" stroke="#a3afba" stroke-width="0.9"/><polyline points="365.6,882.6 367.8,884.3 370,882.1 372.2,884.7 374.4,882.4 376.6,883.4" fill="none" stroke="#9fb0bd" stroke-width="0.8"/><polygon points="381.6,883.7 378.8,885.4 376,883.9 375.9,880.6 378.6,879 381.5,880.5" fill="none" stroke="#a3afba" stroke-width="0.9"/><polyline points="382.2,880 384.4,882 386.6,879.4 388.8,881.8 391,879.8 393.2,882.6" fill="none" stroke="#e2a684" stroke-width="0.8"/><polygon points="392.7,886.4 390.3,887.9 387.8,886.5 387.7,883.7 390.1,882.3 392.6,883.6" fill="none" stroke="#a3afba" stroke-width="0.9"/><polyline points="393.7,882.3 395.9,883.8 398.1,882.8 400.3,883.9 402.5,883.1 404.7,883.7" fill="none" stroke="#a9b6c2" stroke-width="0.8"/><polygon points="414.4,885.5 411.5,887.2 408.6,885.6 408.5,882.3 411.3,880.5 414.3,882.1" fill="none" stroke="#a3afba" stroke-width="0.9"/><polyline points="414.9,879.8 417.1,881.4 419.3,880.2 421.5,882.4 423.7,880.5 425.9,882.9" fill="none" stroke="#e2a684" stroke-width="0.8"/><polygon points="428.3,889 425.5,890.7 422.6,889.2 422.5,885.8 425.3,884.1 428.2,885.7" fill="none" stroke="#a3afba" stroke-width="0.9"/><polyline points="428.9,884.1 431.1,885.7 433.3,884.6 435.5,885.1 437.7,883 439.9,885.8" fill="none" stroke="#d49cc0" stroke-width="0.8"/><polygon points="446.2,884.2 443.6,885.8 440.9,884.3 440.8,881.3 443.4,879.7 446.1,881.2" fill="none" stroke="#a3afba" stroke-width="0.9"/><polyline points="447,879.6 449.2,881.3 451.4,880 453.6,881.2 455.8,878.5 458,881.6" fill="none" stroke="#9fb0bd" stroke-width="0.8"/><polygon points="460.1,887.8 457.3,889.5 454.4,887.9 454.3,884.6 457.1,882.9 460,884.5" fill="none" stroke="#a3afba" stroke-width="0.9"/><polyline points="460.7,884.1 462.9,886 465.1,884 467.3,886 469.5,884.9 471.7,885.1" fill="none" stroke="#e2a684" stroke-width="0.8"/></g>
<line x1="313.8" y1="775.4" x2="323.4" y2="890.8" stroke="#78aab0" stroke-width="1.9" stroke-dasharray="3.4 1.3"/>
<line x1="472.8" y1="772.7" x2="460.7" y2="890.8" stroke="#78aab0" stroke-width="1.9" stroke-dasharray="3.4 1.3"/>
<line x1="313.8" y1="775.4" x2="319.6" y2="890.8" stroke="#17555f" stroke-width="1.9" stroke-dasharray="3.4 1.3"/>
<line x1="472.8" y1="772.7" x2="464.1" y2="890.8" stroke="#17555f" stroke-width="1.9" stroke-dasharray="3.4 1.3"/>
<rect x="297.2" y="890.8" width="187.7" height="15" fill="#97bfc5"/>
<text class="b" x="359.6" y="760.8" font-size="14.3" fill="#111" color="#111" text-anchor="start">Illumination</text>
<text class="b" x="360.1" y="903.3" font-size="14.3" fill="#111" color="#111" text-anchor="start">Substrate</text>
<rect x="539.4" y="742" width="192" height="148.8" fill="url(#gd)"/>
<g fill="#d0daef" fill-opacity="0.92"><polygon points="575.7,778.9 597.8,798.7 579.3,817.6 557.6,797.9"/><polygon points="614.7,778.9 636.8,798.7 617.6,817.6 597,798.7"/><polygon points="655.8,778.9 675.5,798.7 655.3,817.6 636,798.7"/><polygon points="696.7,778.9 714.4,800.1 693.3,817.6 674.8,798.7"/><polygon points="579.2,816.8 599.8,835.6 580.8,853.9 563.7,838.3"/><polygon points="617.6,816.8 636.8,835.6 618.5,853.9 599,835.6"/><polygon points="655.3,816.8 673.9,835.6 654,853.9 636.1,835.6"/><polygon points="693.4,816.8 710,838.3 691.4,853.9 673.1,835.6"/><polygon points="580.8,853.1 600.3,871.3 580.9,890.6 562.4,872.1"/><polygon points="618.5,853.1 636.4,871.3 618.6,890.6 599.5,871.3"/><polygon points="654,853.1 672.3,871.3 652.9,890.6 635.7,871.3"/><polygon points="691.5,853.1 708.7,873.4 687.5,890.6 671.6,871.3"/></g>
<g fill="#e2d5b5"><circle cx="598.7" cy="815.7" r="8.7"/><circle cx="636.4" cy="815.7" r="8.7"/><circle cx="674.6" cy="815.7" r="8.7"/><circle cx="599.2" cy="851.3" r="8.7"/><circle cx="636.9" cy="851.3" r="8.7"/><circle cx="674.6" cy="851.3" r="8.7"/></g>
<path d="M581 801.4Q580.2 789.9 575.8 779.3M581 801.4Q589 798.3 597.5 798.8M581 801.4Q578.4 809.1 579.3 817.2M581 801.4Q569.3 801.5 558.1 798M620 801.4Q615.6 790.8 614.8 779.3M620 801.4Q628.5 801.9 636.5 798.8M620 801.4Q620.6 809.6 617.6 817.2M620 801.4Q609 798.3 597.5 798.8M659 801.4Q659.2 790.1 655.9 779.3M659 801.4Q666.8 798.3 675.2 798.8M659 801.4Q655.4 808.9 655.3 817.2M659 801.4Q647.5 801.9 636.5 798.8M697.4 801.4Q695.3 790.4 696.7 779.3M697.4 801.4Q705.9 802.5 714.1 800.1M697.4 801.4Q697.1 809.8 693.4 817.2M697.4 801.4Q686.5 798.3 675.2 798.8M583.6 838.3Q579.7 828.1 579.3 817.2M583.6 838.3Q591.8 838.8 599.4 835.7M583.6 838.3Q584 846.2 580.9 853.5M583.6 838.3Q573.9 836.5 564.1 838.3M621.3 838.3Q621.2 827.5 617.6 817.2M621.3 838.3Q628.6 835.2 636.5 835.7M621.3 838.3Q618.2 845.6 618.5 853.5M621.3 838.3Q610.2 838.8 599.4 835.7M657.7 838.3Q654.7 828 655.3 817.2M657.7 838.3Q665.9 838.8 673.5 835.7M657.7 838.3Q657.6 846.3 654 853.5M657.7 838.3Q647.3 835.2 636.5 835.7M695.4 838.3Q696.2 827.6 693.4 817.2M695.4 838.3Q702.5 836.5 709.7 838.3M695.4 838.3Q691.7 845.5 691.5 853.5M695.4 838.3Q684.3 838.8 673.5 835.7M584.1 874Q584.3 863.5 580.9 853.5M584.1 874Q591.7 870.9 599.9 871.4M584.1 874Q580.8 881.8 581 890.3M584.1 874Q573.3 874.8 562.8 872.1M621.8 874Q618.4 864.1 618.5 853.5M621.8 874Q629.3 874.5 636.1 871.4M621.8 874Q622 882.5 618.7 890.3M621.8 874Q611.1 870.9 599.9 871.4M656.4 874Q657 863.6 654 853.5M656.4 874Q663.9 870.9 672 871.4M656.4 874Q652.9 881.8 653 890.3M656.4 874Q646 874.5 636.1 871.4M693.6 874Q690.8 864 691.5 853.5M693.6 874Q701.1 875.5 708.4 873.4M693.6 874Q692.3 882.8 687.6 890.3M693.6 874Q683 870.9 672 871.4" fill="none" stroke="#1e2c4c" stroke-width="1.7" stroke-linecap="round"/>
<g fill="#d5d5d7"><circle cx="597.5" cy="798.8" r="3.6"/><circle cx="636.5" cy="798.8" r="3.6"/><circle cx="675.2" cy="798.8" r="3.6"/><circle cx="599.4" cy="835.7" r="3.6"/><circle cx="636.5" cy="835.7" r="3.6"/><circle cx="673.5" cy="835.7" r="3.6"/><circle cx="599.9" cy="871.4" r="3.6"/><circle cx="636.1" cy="871.4" r="3.6"/><circle cx="672" cy="871.4" r="3.6"/><circle cx="579.3" cy="817.2" r="3.6"/><circle cx="617.6" cy="817.2" r="3.6"/><circle cx="655.3" cy="817.2" r="3.6"/><circle cx="693.4" cy="817.2" r="3.6"/><circle cx="580.9" cy="853.5" r="3.6"/><circle cx="618.5" cy="853.5" r="3.6"/><circle cx="654" cy="853.5" r="3.6"/><circle cx="691.5" cy="853.5" r="3.6"/><circle cx="581" cy="890.3" r="3.6"/><circle cx="618.7" cy="890.3" r="3.6"/><circle cx="653" cy="890.3" r="3.6"/><circle cx="687.6" cy="890.3" r="3.6"/><circle cx="558.1" cy="798" r="3.6"/><circle cx="564.1" cy="838.3" r="3.6"/><circle cx="562.8" cy="872.1" r="3.6"/><circle cx="714.1" cy="800.1" r="3.6"/><circle cx="709.7" cy="838.3" r="3.6"/><circle cx="708.4" cy="873.4" r="3.6"/><circle cx="575.8" cy="779.3" r="3.6"/><circle cx="614.8" cy="779.3" r="3.6"/><circle cx="655.9" cy="779.3" r="3.6"/><circle cx="696.7" cy="779.3" r="3.6"/></g>
<g fill="#8399b6"><circle cx="581" cy="801.4" r="6.3"/><circle cx="620" cy="801.4" r="6.3"/><circle cx="659" cy="801.4" r="6.3"/><circle cx="697.4" cy="801.4" r="6.3"/><circle cx="583.6" cy="838.3" r="6.3"/><circle cx="621.3" cy="838.3" r="6.3"/><circle cx="657.7" cy="838.3" r="6.3"/><circle cx="695.4" cy="838.3" r="6.3"/><circle cx="584.1" cy="874" r="6.3"/><circle cx="621.8" cy="874" r="6.3"/><circle cx="656.4" cy="874" r="6.3"/><circle cx="693.6" cy="874" r="6.3"/></g>
<g opacity="0.85"><polygon points="571.5,885.9 568.6,887.6 565.7,886 565.6,882.7 568.5,880.9 571.4,882.5" fill="none" stroke="#a3afba" stroke-width="0.9"/><polyline points="572,882.7 574.2,884.7 576.4,882.4 578.6,884.8 580.8,883.2 583,883.1" fill="none" stroke="#e2a684" stroke-width="0.8"/><polygon points="587.6,884.5 585.2,886 582.7,884.6 582.6,881.8 585.1,880.3 587.6,881.7" fill="none" stroke="#a3afba" stroke-width="0.9"/><polyline points="588.6,878.3 590.8,880 593,877.8 595.2,879.7 597.4,877.7 599.6,880.3" fill="none" stroke="#d49cc0" stroke-width="0.8"/><polygon points="607.4,887.2 604.8,888.8 602.2,887.3 602.1,884.3 604.7,882.7 607.3,884.2" fill="none" stroke="#a3afba" stroke-width="0.9"/><polyline points="608.2,881.3 610.4,883.2 612.6,881.8 614.8,882.5 617,882.1 619.2,882" fill="none" stroke="#9fb0bd" stroke-width="0.8"/><polygon points="623.8,888.6 620.9,890.4 618,888.8 617.9,885.5 620.8,883.7 623.7,885.3" fill="none" stroke="#a3afba" stroke-width="0.9"/><polyline points="624.4,882.3 626.6,883.8 628.8,882.2 631,884.1 633.2,883.4 635.4,884.3" fill="none" stroke="#e2a684" stroke-width="0.8"/><polygon points="643.1,888.8 640.2,890.5 637.3,888.9 637.2,885.6 640.1,883.8 643,885.5" fill="none" stroke="#a3afba" stroke-width="0.9"/><polyline points="643.7,885.1 645.9,886.9 648.1,885.4 650.3,886.7 652.5,884.7 654.7,888.3" fill="none" stroke="#a9b6c2" stroke-width="0.8"/><polygon points="654.2,889.4 651.5,891 648.7,889.5 648.7,886.4 651.3,884.7 654.1,886.2" fill="none" stroke="#a3afba" stroke-width="0.9"/><polyline points="654.9,886.1 657.1,887.6 659.3,886 661.5,887.1 663.7,886.6 665.9,886.6" fill="none" stroke="#e2a684" stroke-width="0.8"/><polygon points="673.1,883.4 670.5,885 667.9,883.5 667.8,880.5 670.4,878.9 673,880.4" fill="none" stroke="#a3afba" stroke-width="0.9"/><polyline points="674,879.8 676.2,881.5 678.4,880 680.6,881.3 682.8,879.4 685,881.6" fill="none" stroke="#d49cc0" stroke-width="0.8"/><polygon points="691.6,883.4 689.3,884.8 686.9,883.5 686.9,880.8 689.2,879.4 691.5,880.7" fill="none" stroke="#a3afba" stroke-width="0.9"/><polyline points="692.7,877.8 694.9,879.6 697.1,878.1 699.3,879.8 701.5,877.5 703.7,880" fill="none" stroke="#9fb0bd" stroke-width="0.8"/><polygon points="707.9,888.1 705.1,889.9 702.3,888.3 702.2,885 705,883.3 707.9,884.9" fill="none" stroke="#a3afba" stroke-width="0.9"/><polyline points="708.6,881.8 710.8,883.8 713,882.2 715.2,883.2 717.4,880.7 719.6,884.4" fill="none" stroke="#e2a684" stroke-width="0.8"/></g>
<line x1="555.7" y1="771.3" x2="564.6" y2="890.8" stroke="#78aab0" stroke-width="1.9" stroke-dasharray="3.4 1.3"/>
<line x1="715.4" y1="775.4" x2="707.5" y2="890.8" stroke="#78aab0" stroke-width="1.9" stroke-dasharray="3.4 1.3"/>
<line x1="555.7" y1="771.3" x2="570.4" y2="890.8" stroke="#17555f" stroke-width="1.9" stroke-dasharray="3.4 1.3"/>
<line x1="715.4" y1="775.4" x2="701.4" y2="890.8" stroke="#17555f" stroke-width="1.9" stroke-dasharray="3.4 1.3"/>
<rect x="542" y="890.8" width="187.7" height="15" fill="#97bfc5"/>
<text class="b" x="621.3" y="759" font-size="14.3" fill="#111" color="#111" text-anchor="start">Dark</text>
<text class="b" x="605.2" y="903.3" font-size="14.3" fill="#111" color="#111" text-anchor="start">Substrate</text>
<rect x="785" y="742" width="192" height="148.8" fill="url(#gi)"/>
<g fill="#d0daef" fill-opacity="0.92"><polygon points="821.3,778.9 843.4,798.7 824.9,817.6 803.2,797.9"/><polygon points="860.3,778.9 882.4,798.7 863.2,817.6 842.6,798.7"/><polygon points="901.4,778.9 921.1,798.7 900.9,817.6 881.6,798.7"/><polygon points="942.3,778.9 960,800.1 938.9,817.6 920.4,798.7"/><polygon points="824.8,816.8 845.4,835.6 826.4,853.9 809.3,838.3"/><polygon points="863.2,816.8 882.4,835.6 864.1,853.9 844.6,835.6"/><polygon points="900.9,816.8 919.5,835.6 899.6,853.9 881.7,835.6"/><polygon points="939,816.8 955.6,838.3 937,853.9 918.7,835.6"/><polygon points="826.4,853.1 845.9,871.3 826.5,890.6 808,872.1"/><polygon points="864.1,853.1 882,871.3 864.2,890.6 845.1,871.3"/><polygon points="899.6,853.1 917.9,871.3 898.5,890.6 881.3,871.3"/><polygon points="937.1,853.1 954.3,873.4 933.1,890.6 917.2,871.3"/></g>
<g fill="#e2d5b5"><circle cx="844.3" cy="815.7" r="8.7"/><circle cx="882" cy="815.7" r="8.7"/><circle cx="920.2" cy="815.7" r="8.7"/><circle cx="844.8" cy="851.3" r="8.7"/><circle cx="882.5" cy="851.3" r="8.7"/><circle cx="920.2" cy="851.3" r="8.7"/></g>
<path d="M826.6 801.4Q825.8 789.9 821.4 779.3M826.6 801.4Q834.6 798.3 843.1 798.8M826.6 801.4Q824 809.1 824.9 817.2M826.6 801.4Q814.9 801.5 803.7 798M865.6 801.4Q861.2 790.8 860.4 779.3M865.6 801.4Q874.1 801.9 882.1 798.8M865.6 801.4Q866.2 809.6 863.2 817.2M865.6 801.4Q854.6 798.3 843.1 798.8M904.6 801.4Q904.8 790.1 901.5 779.3M904.6 801.4Q912.4 798.3 920.8 798.8M904.6 801.4Q901 808.9 901 817.2M904.6 801.4Q893.1 801.9 882.1 798.8M943 801.4Q940.9 790.4 942.3 779.3M943 801.4Q951.5 802.5 959.7 800.1M943 801.4Q942.7 809.8 939 817.2M943 801.4Q932.1 798.3 920.8 798.8M829.2 838.3Q825.3 828.1 824.9 817.2M829.2 838.3Q837.4 838.8 845 835.7M829.2 838.3Q829.6 846.2 826.5 853.5M829.2 838.3Q819.5 836.5 809.7 838.3M866.9 838.3Q866.8 827.5 863.2 817.2M866.9 838.3Q874.2 835.2 882.1 835.7M866.9 838.3Q863.8 845.6 864.1 853.5M866.9 838.3Q855.8 838.8 845 835.7M903.3 838.3Q900.3 828 901 817.2M903.3 838.3Q911.5 838.8 919.1 835.7M903.3 838.3Q903.2 846.3 899.6 853.5M903.3 838.3Q892.9 835.2 882.1 835.7M941 838.3Q941.8 827.6 939 817.2M941 838.3Q948.1 836.5 955.3 838.3M941 838.3Q937.3 845.5 937.1 853.5M941 838.3Q929.9 838.8 919.1 835.7M829.7 874Q829.9 863.5 826.5 853.5M829.7 874Q837.3 870.9 845.5 871.4M829.7 874Q826.4 881.8 826.6 890.3M829.7 874Q818.9 874.8 808.4 872.1M867.4 874Q864 864.1 864.1 853.5M867.4 874Q874.9 874.5 881.7 871.4M867.4 874Q867.6 882.5 864.3 890.3M867.4 874Q856.7 870.9 845.5 871.4M902 874Q902.6 863.6 899.6 853.5M902 874Q909.5 870.9 917.6 871.4M902 874Q898.5 881.8 898.6 890.3M902 874Q891.6 874.5 881.7 871.4M939.2 874Q936.4 864 937.1 853.5M939.2 874Q946.7 875.5 954 873.4M939.2 874Q937.9 882.8 933.2 890.3M939.2 874Q928.6 870.9 917.6 871.4" fill="none" stroke="#1e2c4c" stroke-width="1.7" stroke-linecap="round"/>
<g fill="#d5d5d7"><circle cx="843.1" cy="798.8" r="3.6"/><circle cx="882.1" cy="798.8" r="3.6"/><circle cx="920.8" cy="798.8" r="3.6"/><circle cx="845" cy="835.7" r="3.6"/><circle cx="882.1" cy="835.7" r="3.6"/><circle cx="919.1" cy="835.7" r="3.6"/><circle cx="845.5" cy="871.4" r="3.6"/><circle cx="881.7" cy="871.4" r="3.6"/><circle cx="917.6" cy="871.4" r="3.6"/><circle cx="824.9" cy="817.2" r="3.6"/><circle cx="863.2" cy="817.2" r="3.6"/><circle cx="901" cy="817.2" r="3.6"/><circle cx="939" cy="817.2" r="3.6"/><circle cx="826.5" cy="853.5" r="3.6"/><circle cx="864.1" cy="853.5" r="3.6"/><circle cx="899.6" cy="853.5" r="3.6"/><circle cx="937.1" cy="853.5" r="3.6"/><circle cx="826.6" cy="890.3" r="3.6"/><circle cx="864.3" cy="890.3" r="3.6"/><circle cx="898.6" cy="890.3" r="3.6"/><circle cx="933.2" cy="890.3" r="3.6"/><circle cx="803.7" cy="798" r="3.6"/><circle cx="809.7" cy="838.3" r="3.6"/><circle cx="808.4" cy="872.1" r="3.6"/><circle cx="959.7" cy="800.1" r="3.6"/><circle cx="955.3" cy="838.3" r="3.6"/><circle cx="954" cy="873.4" r="3.6"/><circle cx="821.4" cy="779.3" r="3.6"/><circle cx="860.4" cy="779.3" r="3.6"/><circle cx="901.5" cy="779.3" r="3.6"/><circle cx="942.3" cy="779.3" r="3.6"/></g>
<g fill="#8399b6"><circle cx="826.6" cy="801.4" r="6.3"/><circle cx="865.6" cy="801.4" r="6.3"/><circle cx="904.6" cy="801.4" r="6.3"/><circle cx="943" cy="801.4" r="6.3"/><circle cx="829.2" cy="838.3" r="6.3"/><circle cx="866.9" cy="838.3" r="6.3"/><circle cx="903.3" cy="838.3" r="6.3"/><circle cx="941" cy="838.3" r="6.3"/><circle cx="829.7" cy="874" r="6.3"/><circle cx="867.4" cy="874" r="6.3"/><circle cx="902" cy="874" r="6.3"/><circle cx="939.2" cy="874" r="6.3"/></g>
<g opacity="0.85"><polygon points="817.1,889.1 814.6,890.6 812,889.2 812,886.3 814.5,884.7 817.1,886.2" fill="none" stroke="#a3afba" stroke-width="0.9"/><polyline points="818,884.8 820.2,886.5 822.4,884.6 824.6,886.1 826.8,885.7 829,886" fill="none" stroke="#e2a684" stroke-width="0.8"/><polygon points="838.8,885.8 836.4,887.3 833.9,886 833.8,883.2 836.2,881.7 838.7,883.1" fill="none" stroke="#a3afba" stroke-width="0.9"/><polyline points="839.8,881.8 842,883.6 844.2,881.6 846.4,883.5 848.6,881.4 850.8,884.4" fill="none" stroke="#d49cc0" stroke-width="0.8"/><polygon points="850.6,884.5 848.2,886 845.7,884.7 845.6,881.8 848,880.3 850.6,881.7" fill="none" stroke="#a3afba" stroke-width="0.9"/><polyline points="851.6,878.7 853.8,880.3 856,879.3 858.2,881.4 860.4,878.6 862.6,880.4" fill="none" stroke="#9fb0bd" stroke-width="0.8"/><polygon points="870,887.4 867.2,889.1 864.3,887.5 864.2,884.3 867,882.6 869.9,884.1" fill="none" stroke="#a3afba" stroke-width="0.9"/><polyline points="870.6,883 872.8,884.8 875,883 877.2,885.2 879.4,881.8 881.6,884.1" fill="none" stroke="#e2a684" stroke-width="0.8"/><polygon points="883.6,884.5 880.8,886.2 878.1,884.6 878,881.5 880.7,879.8 883.5,881.3" fill="none" stroke="#a3afba" stroke-width="0.9"/><polyline points="884.3,880.6 886.5,882.5 888.7,880.2 890.9,882.2 893.1,881.4 895.3,881.9" fill="none" stroke="#a9b6c2" stroke-width="0.8"/><polygon points="899.7,885.6 897.4,887.1 894.9,885.8 894.9,883 897.2,881.6 899.6,882.9" fill="none" stroke="#a3afba" stroke-width="0.9"/><polyline points="900.8,881 903,882.8 905.2,880.8 907.4,882.5 909.6,881.8 911.8,882.5" fill="none" stroke="#e2a684" stroke-width="0.8"/><polygon points="920.1,886.8 917.4,888.5 914.6,887 914.5,883.8 917.2,882.2 920,883.7" fill="none" stroke="#a3afba" stroke-width="0.9"/><polyline points="920.8,881.9 923,883.5 925.2,881.4 927.4,884.5 929.6,881.3 931.8,882.6" fill="none" stroke="#d49cc0" stroke-width="0.8"/><polygon points="936.7,887.1 934.2,888.6 931.6,887.2 931.5,884.2 934,882.7 936.7,884.1" fill="none" stroke="#a3afba" stroke-width="0.9"/><polyline points="937.6,882.5 939.8,884.1 942,882.7 944.2,885.1 946.4,882.4 948.6,885.4" fill="none" stroke="#9fb0bd" stroke-width="0.8"/><polygon points="953.3,885.6 950.7,887.1 948.1,885.7 948.1,882.7 950.6,881.2 953.2,882.6" fill="none" stroke="#a3afba" stroke-width="0.9"/><polyline points="954.2,882.9 956.4,884.8 958.6,882.7 960.8,884.9 963,882 965.2,885.6" fill="none" stroke="#e2a684" stroke-width="0.8"/></g>
<line x1="803.4" y1="772" x2="818.7" y2="890.8" stroke="#78aab0" stroke-width="1.9" stroke-dasharray="3.4 1.3"/>
<line x1="961.7" y1="776" x2="946.7" y2="890.8" stroke="#78aab0" stroke-width="1.9" stroke-dasharray="3.4 1.3"/>
<line x1="803.4" y1="772" x2="812.7" y2="890.8" stroke="#17555f" stroke-width="1.9" stroke-dasharray="3.4 1.3"/>
<line x1="961.7" y1="776" x2="952.8" y2="890.8" stroke="#17555f" stroke-width="1.9" stroke-dasharray="3.4 1.3"/>
<rect x="787.6" y="890.8" width="187.7" height="15" fill="#97bfc5"/>
<text class="b" x="846.1" y="760.3" font-size="14.3" fill="#111" color="#111" text-anchor="start">Illumination</text>
<text class="b" x="851.3" y="903.3" font-size="14.3" fill="#111" color="#111" text-anchor="start">Substrate</text>
<polygon points="256.1,808.9 270.2,808.9 270.2,790.2 283.7,826.7 270.2,862.8 270.2,845 256.1,845" fill="#d4e4e9"/>
<polygon points="500.4,808.9 514.5,808.9 514.5,790.2 528,826.7 514.5,862.8 514.5,845 500.4,845" fill="#d4e4e9"/>
<polygon points="747.8,808.9 761.9,808.9 761.9,790.2 775.4,826.7 761.9,862.8 761.9,845 747.8,845" fill="#d4e4e9"/>
<line x1="316.7" y1="883.1" x2="303.7" y2="883.1" stroke="#5d9da4" stroke-width="2.2" stroke-opacity="0.85"/>
<polygon points="300.7,883.1 308.7,879.1 306.2,883.1 308.7,887.1" fill="#5d9da4"/>
<line x1="466.8" y1="883.1" x2="479.8" y2="883.1" stroke="#5d9da4" stroke-width="2.2" stroke-opacity="0.85"/>
<polygon points="482.8,883.1 474.8,879.1 477.3,883.1 474.8,887.1" fill="#5d9da4"/>
<line x1="539" y1="885.2" x2="556.7" y2="885.2" stroke="#5d9da4" stroke-width="2.2" stroke-opacity="0.85"/>
<polygon points="559.7,885.2 551.7,881.2 554.2,885.2 551.7,889.2" fill="#5d9da4"/>
<line x1="734.1" y1="884.4" x2="717.1" y2="884.4" stroke="#5d9da4" stroke-width="2.2" stroke-opacity="0.85"/>
<polygon points="714.1,884.4 722.1,880.4 719.6,884.4 722.1,888.4" fill="#5d9da4"/>
<line x1="806.7" y1="885.2" x2="789" y2="885.2" stroke="#5d9da4" stroke-width="2.2" stroke-opacity="0.85"/>
<polygon points="786,885.2 794,881.2 791.5,885.2 794,889.2" fill="#5d9da4"/>
<line x1="956.1" y1="883.5" x2="973.1" y2="883.5" stroke="#5d9da4" stroke-width="2.2" stroke-opacity="0.85"/>
<polygon points="976.1,883.5 968.1,879.5 970.6,883.5 968.1,887.5" fill="#5d9da4"/>
<g clip-path="url(#chmc)"><g filter="url(#hblur)">
<rect x="51.5" y="371.1" width="160" height="5.5" fill="url(#hmc_0)"/>
<rect x="51.5" y="376.1" width="160" height="5.5" fill="url(#hmc_1)"/>
<rect x="51.5" y="381" width="160" height="5.5" fill="url(#hmc_2)"/>
<rect x="51.5" y="385.9" width="160" height="5.5" fill="url(#hmc_3)"/>
<rect x="51.5" y="390.9" width="160" height="5.5" fill="url(#hmc_4)"/>
<rect x="51.5" y="395.8" width="160" height="5.5" fill="url(#hmc_5)"/>
<rect x="51.5" y="400.7" width="160" height="5.5" fill="url(#hmc_6)"/>
<rect x="51.5" y="405.7" width="160" height="5.5" fill="url(#hmc_7)"/>
<rect x="51.5" y="410.6" width="160" height="5.5" fill="url(#hmc_8)"/>
<rect x="51.5" y="415.5" width="160" height="5.5" fill="url(#hmc_9)"/>
<rect x="51.5" y="420.5" width="160" height="5.5" fill="url(#hmc_10)"/>
<rect x="51.5" y="425.4" width="160" height="5.5" fill="url(#hmc_11)"/>
<rect x="51.5" y="430.3" width="160" height="5.5" fill="url(#hmc_12)"/>
<rect x="51.5" y="435.3" width="160" height="5.5" fill="url(#hmc_13)"/>
<rect x="51.5" y="440.2" width="160" height="5.5" fill="url(#hmc_14)"/>
<rect x="51.5" y="445.1" width="160" height="5.5" fill="url(#hmc_15)"/>
<rect x="51.5" y="450.1" width="160" height="5.5" fill="url(#hmc_16)"/>
<rect x="51.5" y="455" width="160" height="5.5" fill="url(#hmc_17)"/>
<rect x="51.5" y="459.9" width="160" height="5.5" fill="url(#hmc_18)"/>
<rect x="51.5" y="464.9" width="160" height="5.5" fill="url(#hmc_19)"/>
<rect x="51.5" y="469.8" width="160" height="5.5" fill="url(#hmc_20)"/>
<rect x="51.5" y="474.7" width="160" height="5.5" fill="url(#hmc_21)"/>
<rect x="51.5" y="479.7" width="160" height="5.5" fill="url(#hmc_22)"/>
<rect x="51.5" y="484.6" width="160" height="5.5" fill="url(#hmc_23)"/>
<rect x="51.5" y="489.5" width="160" height="5.5" fill="url(#hmc_24)"/>
<rect x="51.5" y="494.5" width="160" height="5.5" fill="url(#hmc_25)"/>
<rect x="51.5" y="499.4" width="160" height="5.5" fill="url(#hmc_26)"/>
<rect x="51.5" y="504.3" width="160" height="5.5" fill="url(#hmc_27)"/>
<rect x="51.5" y="509.3" width="160" height="5.5" fill="url(#hmc_28)"/>
<rect x="51.5" y="514.2" width="160" height="5.5" fill="url(#hmc_29)"/>
<rect x="51.5" y="519.1" width="160" height="5.5" fill="url(#hmc_30)"/>
<rect x="51.5" y="524.1" width="160" height="5.5" fill="url(#hmc_31)"/>
<rect x="51.5" y="529" width="160" height="5.5" fill="url(#hmc_32)"/>
<rect x="51.5" y="533.9" width="160" height="5.5" fill="url(#hmc_33)"/>
</g></g>
<line x1="55.5" y1="381" x2="205.5" y2="381" stroke="#b4aca6" stroke-width="0.8"/>
<line x1="57.5" y1="381" x2="57.5" y2="529.5" stroke="#2a2a2a" stroke-width="1.1"/>
<line x1="57.5" y1="529" x2="205.5" y2="529" stroke="#5a5050" stroke-width="0.8" stroke-opacity="0.8"/>
<line x1="57.5" y1="529" x2="57.5" y2="531.5" stroke="#555" stroke-width="0.9"/>
<line x1="55" y1="529" x2="57.5" y2="529" stroke="#555" stroke-width="0.9"/>
<text x="57.5" y="541.5" font-size="10" fill="#2a2a2a" color="#2a2a2a" text-anchor="middle">0</text>
<text x="53.5" y="532.6" font-size="10" fill="#2a2a2a" color="#2a2a2a" text-anchor="end">0</text>
<line x1="87.1" y1="529" x2="87.1" y2="531.5" stroke="#555" stroke-width="0.9"/>
<line x1="55" y1="499.4" x2="57.5" y2="499.4" stroke="#555" stroke-width="0.9"/>
<text x="87.1" y="541.5" font-size="10" fill="#2a2a2a" color="#2a2a2a" text-anchor="middle">1</text>
<text x="53.5" y="503" font-size="10" fill="#2a2a2a" color="#2a2a2a" text-anchor="end">1</text>
<line x1="116.7" y1="529" x2="116.7" y2="531.5" stroke="#555" stroke-width="0.9"/>
<line x1="55" y1="469.8" x2="57.5" y2="469.8" stroke="#555" stroke-width="0.9"/>
<text x="116.7" y="541.5" font-size="10" fill="#2a2a2a" color="#2a2a2a" text-anchor="middle">2</text>
<text x="53.5" y="473.4" font-size="10" fill="#2a2a2a" color="#2a2a2a" text-anchor="end">2</text>
<line x1="146.3" y1="529" x2="146.3" y2="531.5" stroke="#555" stroke-width="0.9"/>
<line x1="55" y1="440.2" x2="57.5" y2="440.2" stroke="#555" stroke-width="0.9"/>
<text x="146.3" y="541.5" font-size="10" fill="#2a2a2a" color="#2a2a2a" text-anchor="middle">3</text>
<text x="53.5" y="443.8" font-size="10" fill="#2a2a2a" color="#2a2a2a" text-anchor="end">3</text>
<line x1="175.9" y1="529" x2="175.9" y2="531.5" stroke="#555" stroke-width="0.9"/>
<line x1="55" y1="410.6" x2="57.5" y2="410.6" stroke="#555" stroke-width="0.9"/>
<text x="175.9" y="541.5" font-size="10" fill="#2a2a2a" color="#2a2a2a" text-anchor="middle">4</text>
<text x="53.5" y="414.2" font-size="10" fill="#2a2a2a" color="#2a2a2a" text-anchor="end">4</text>
<line x1="205.5" y1="529" x2="205.5" y2="531.5" stroke="#555" stroke-width="0.9"/>
<line x1="55" y1="381" x2="57.5" y2="381" stroke="#555" stroke-width="0.9"/>
<text x="205.5" y="541.5" font-size="10" fill="#2a2a2a" color="#2a2a2a" text-anchor="middle">5</text>
<text x="53.5" y="384.6" font-size="10" fill="#2a2a2a" color="#2a2a2a" text-anchor="end">5</text>
<text x="131.5" y="557" font-size="10" fill="#222" color="#222" text-anchor="middle">Distance (µm)</text>
<text x="44" y="455" font-size="10" fill="#222" color="#222" text-anchor="middle" transform="rotate(-90 44 455)">Distance (µm)</text>
<text class="b" x="62.5" y="396.8" font-size="11.4" fill="#111" color="#111" text-anchor="start">Pristine</text>
<rect x="219" y="381" width="10.5" height="148" fill="url(#cbg)" stroke="#333" stroke-width="0.9"/>
<line x1="224.2" y1="378.5" x2="224.2" y2="381" stroke="#333" stroke-width="0.8"/>
<line x1="224.2" y1="529" x2="224.2" y2="531.5" stroke="#333" stroke-width="0.8"/>
<text x="224.2" y="374.7" font-size="9" fill="#222" color="#222" text-anchor="middle">2500</text>
<text x="224.2" y="542.3" font-size="9" fill="#222" color="#222" text-anchor="middle">500</text>
<text x="242.5" y="455" font-size="10.4" fill="#222" color="#222" text-anchor="middle" transform="rotate(-90 242.5 455)">PL intensity (a.u.)</text>
<text class="b" x="32.9" y="381.8" font-size="21" fill="#111" color="#111" text-anchor="start">c</text>
<g clip-path="url(#chmd)"><g filter="url(#hblur)">
<rect x="296.8" y="370.1" width="160" height="5.5" fill="url(#hmd_0)"/>
<rect x="296.8" y="375.1" width="160" height="5.5" fill="url(#hmd_1)"/>
<rect x="296.8" y="380" width="160" height="5.5" fill="url(#hmd_2)"/>
<rect x="296.8" y="384.9" width="160" height="5.5" fill="url(#hmd_3)"/>
<rect x="296.8" y="389.9" width="160" height="5.5" fill="url(#hmd_4)"/>
<rect x="296.8" y="394.8" width="160" height="5.5" fill="url(#hmd_5)"/>
<rect x="296.8" y="399.7" width="160" height="5.5" fill="url(#hmd_6)"/>
<rect x="296.8" y="404.7" width="160" height="5.5" fill="url(#hmd_7)"/>
<rect x="296.8" y="409.6" width="160" height="5.5" fill="url(#hmd_8)"/>
<rect x="296.8" y="414.5" width="160" height="5.5" fill="url(#hmd_9)"/>
<rect x="296.8" y="419.5" width="160" height="5.5" fill="url(#hmd_10)"/>
<rect x="296.8" y="424.4" width="160" height="5.5" fill="url(#hmd_11)"/>
<rect x="296.8" y="429.3" width="160" height="5.5" fill="url(#hmd_12)"/>
<rect x="296.8" y="434.3" width="160" height="5.5" fill="url(#hmd_13)"/>
<rect x="296.8" y="439.2" width="160" height="5.5" fill="url(#hmd_14)"/>
<rect x="296.8" y="444.1" width="160" height="5.5" fill="url(#hmd_15)"/>
<rect x="296.8" y="449.1" width="160" height="5.5" fill="url(#hmd_16)"/>
<rect x="296.8" y="454" width="160" height="5.5" fill="url(#hmd_17)"/>
<rect x="296.8" y="458.9" width="160" height="5.5" fill="url(#hmd_18)"/>
<rect x="296.8" y="463.9" width="160" height="5.5" fill="url(#hmd_19)"/>
<rect x="296.8" y="468.8" width="160" height="5.5" fill="url(#hmd_20)"/>
<rect x="296.8" y="473.7" width="160" height="5.5" fill="url(#hmd_21)"/>
<rect x="296.8" y="478.7" width="160" height="5.5" fill="url(#hmd_22)"/>
<rect x="296.8" y="483.6" width="160" height="5.5" fill="url(#hmd_23)"/>
<rect x="296.8" y="488.5" width="160" height="5.5" fill="url(#hmd_24)"/>
<rect x="296.8" y="493.5" width="160" height="5.5" fill="url(#hmd_25)"/>
<rect x="296.8" y="498.4" width="160" height="5.5" fill="url(#hmd_26)"/>
<rect x="296.8" y="503.3" width="160" height="5.5" fill="url(#hmd_27)"/>
<rect x="296.8" y="508.3" width="160" height="5.5" fill="url(#hmd_28)"/>
<rect x="296.8" y="513.2" width="160" height="5.5" fill="url(#hmd_29)"/>
<rect x="296.8" y="518.1" width="160" height="5.5" fill="url(#hmd_30)"/>
<rect x="296.8" y="523.1" width="160" height="5.5" fill="url(#hmd_31)"/>
<rect x="296.8" y="528" width="160" height="5.5" fill="url(#hmd_32)"/>
<rect x="296.8" y="532.9" width="160" height="5.5" fill="url(#hmd_33)"/>
</g></g>
<line x1="300.8" y1="380" x2="450.8" y2="380" stroke="#b4aca6" stroke-width="0.8"/>
<line x1="302.8" y1="380" x2="302.8" y2="528.5" stroke="#2a2a2a" stroke-width="1.1"/>
<line x1="302.8" y1="528" x2="450.8" y2="528" stroke="#5a5050" stroke-width="0.8" stroke-opacity="0.8"/>
<line x1="302.8" y1="528" x2="302.8" y2="530.5" stroke="#555" stroke-width="0.9"/>
<line x1="300.3" y1="528" x2="302.8" y2="528" stroke="#555" stroke-width="0.9"/>
<text x="302.8" y="540.5" font-size="10" fill="#2a2a2a" color="#2a2a2a" text-anchor="middle">0</text>
<text x="298.8" y="531.6" font-size="10" fill="#2a2a2a" color="#2a2a2a" text-anchor="end">0</text>
<line x1="332.4" y1="528" x2="332.4" y2="530.5" stroke="#555" stroke-width="0.9"/>
<line x1="300.3" y1="498.4" x2="302.8" y2="498.4" stroke="#555" stroke-width="0.9"/>
<text x="332.4" y="540.5" font-size="10" fill="#2a2a2a" color="#2a2a2a" text-anchor="middle">1</text>
<text x="298.8" y="502" font-size="10" fill="#2a2a2a" color="#2a2a2a" text-anchor="end">1</text>
<line x1="362" y1="528" x2="362" y2="530.5" stroke="#555" stroke-width="0.9"/>
<line x1="300.3" y1="468.8" x2="302.8" y2="468.8" stroke="#555" stroke-width="0.9"/>
<text x="362" y="540.5" font-size="10" fill="#2a2a2a" color="#2a2a2a" text-anchor="middle">2</text>
<text x="298.8" y="472.4" font-size="10" fill="#2a2a2a" color="#2a2a2a" text-anchor="end">2</text>
<line x1="391.6" y1="528" x2="391.6" y2="530.5" stroke="#555" stroke-width="0.9"/>
<line x1="300.3" y1="439.2" x2="302.8" y2="439.2" stroke="#555" stroke-width="0.9"/>
<text x="391.6" y="540.5" font-size="10" fill="#2a2a2a" color="#2a2a2a" text-anchor="middle">3</text>
<text x="298.8" y="442.8" font-size="10" fill="#2a2a2a" color="#2a2a2a" text-anchor="end">3</text>
<line x1="421.2" y1="528" x2="421.2" y2="530.5" stroke="#555" stroke-width="0.9"/>
<line x1="300.3" y1="409.6" x2="302.8" y2="409.6" stroke="#555" stroke-width="0.9"/>
<text x="421.2" y="540.5" font-size="10" fill="#2a2a2a" color="#2a2a2a" text-anchor="middle">4</text>
<text x="298.8" y="413.2" font-size="10" fill="#2a2a2a" color="#2a2a2a" text-anchor="end">4</text>
<line x1="450.8" y1="528" x2="450.8" y2="530.5" stroke="#555" stroke-width="0.9"/>
<line x1="300.3" y1="380" x2="302.8" y2="380" stroke="#555" stroke-width="0.9"/>
<text x="450.8" y="540.5" font-size="10" fill="#2a2a2a" color="#2a2a2a" text-anchor="middle">5</text>
<text x="298.8" y="383.6" font-size="10" fill="#2a2a2a" color="#2a2a2a" text-anchor="end">5</text>
<text x="376.8" y="556" font-size="10" fill="#222" color="#222" text-anchor="middle">Distance (µm)</text>
<text x="289.3" y="454" font-size="10" fill="#222" color="#222" text-anchor="middle" transform="rotate(-90 289.3 454)">Distance (µm)</text>
<text class="b" x="307.8" y="395.8" font-size="11.4" fill="#111" color="#111" text-anchor="start">Pristine</text>
<rect x="465.3" y="380" width="10.5" height="148" fill="url(#cbg)" stroke="#333" stroke-width="0.9"/>
<line x1="470.6" y1="377.5" x2="470.6" y2="380" stroke="#333" stroke-width="0.8"/>
<line x1="470.6" y1="528" x2="470.6" y2="530.5" stroke="#333" stroke-width="0.8"/>
<text x="470.6" y="373.7" font-size="9" fill="#222" color="#222" text-anchor="middle">2500</text>
<text x="470.6" y="541.3" font-size="9" fill="#222" color="#222" text-anchor="middle">500</text>
<text x="488.8" y="454" font-size="10.4" fill="#222" color="#222" text-anchor="middle" transform="rotate(-90 488.8 454)">PL intensity (a.u.)</text>
<text class="b" x="272.6" y="381.3" font-size="21" fill="#111" color="#111" text-anchor="start">d</text>
<g clip-path="url(#chme)"><g filter="url(#hblur)">
<rect x="543.9" y="370.6" width="160" height="5.5" fill="url(#hme_0)"/>
<rect x="543.9" y="375.6" width="160" height="5.5" fill="url(#hme_1)"/>
<rect x="543.9" y="380.5" width="160" height="5.5" fill="url(#hme_2)"/>
<rect x="543.9" y="385.4" width="160" height="5.5" fill="url(#hme_3)"/>
<rect x="543.9" y="390.4" width="160" height="5.5" fill="url(#hme_4)"/>
<rect x="543.9" y="395.3" width="160" height="5.5" fill="url(#hme_5)"/>
<rect x="543.9" y="400.2" width="160" height="5.5" fill="url(#hme_6)"/>
<rect x="543.9" y="405.2" width="160" height="5.5" fill="url(#hme_7)"/>
<rect x="543.9" y="410.1" width="160" height="5.5" fill="url(#hme_8)"/>
<rect x="543.9" y="415" width="160" height="5.5" fill="url(#hme_9)"/>
<rect x="543.9" y="420" width="160" height="5.5" fill="url(#hme_10)"/>
<rect x="543.9" y="424.9" width="160" height="5.5" fill="url(#hme_11)"/>
<rect x="543.9" y="429.8" width="160" height="5.5" fill="url(#hme_12)"/>
<rect x="543.9" y="434.8" width="160" height="5.5" fill="url(#hme_13)"/>
<rect x="543.9" y="439.7" width="160" height="5.5" fill="url(#hme_14)"/>
<rect x="543.9" y="444.6" width="160" height="5.5" fill="url(#hme_15)"/>
<rect x="543.9" y="449.6" width="160" height="5.5" fill="url(#hme_16)"/>
<rect x="543.9" y="454.5" width="160" height="5.5" fill="url(#hme_17)"/>
<rect x="543.9" y="459.4" width="160" height="5.5" fill="url(#hme_18)"/>
<rect x="543.9" y="464.4" width="160" height="5.5" fill="url(#hme_19)"/>
<rect x="543.9" y="469.3" width="160" height="5.5" fill="url(#hme_20)"/>
<rect x="543.9" y="474.2" width="160" height="5.5" fill="url(#hme_21)"/>
<rect x="543.9" y="479.2" width="160" height="5.5" fill="url(#hme_22)"/>
<rect x="543.9" y="484.1" width="160" height="5.5" fill="url(#hme_23)"/>
<rect x="543.9" y="489" width="160" height="5.5" fill="url(#hme_24)"/>
<rect x="543.9" y="494" width="160" height="5.5" fill="url(#hme_25)"/>
<rect x="543.9" y="498.9" width="160" height="5.5" fill="url(#hme_26)"/>
<rect x="543.9" y="503.8" width="160" height="5.5" fill="url(#hme_27)"/>
<rect x="543.9" y="508.8" width="160" height="5.5" fill="url(#hme_28)"/>
<rect x="543.9" y="513.7" width="160" height="5.5" fill="url(#hme_29)"/>
<rect x="543.9" y="518.6" width="160" height="5.5" fill="url(#hme_30)"/>
<rect x="543.9" y="523.6" width="160" height="5.5" fill="url(#hme_31)"/>
<rect x="543.9" y="528.5" width="160" height="5.5" fill="url(#hme_32)"/>
<rect x="543.9" y="533.4" width="160" height="5.5" fill="url(#hme_33)"/>
</g></g>
<line x1="547.9" y1="380.5" x2="697.9" y2="380.5" stroke="#b4aca6" stroke-width="0.8"/>
<line x1="549.9" y1="380.5" x2="549.9" y2="529" stroke="#2a2a2a" stroke-width="1.1"/>
<line x1="549.9" y1="528.5" x2="697.9" y2="528.5" stroke="#5a5050" stroke-width="0.8" stroke-opacity="0.8"/>
<line x1="549.9" y1="528.5" x2="549.9" y2="531" stroke="#555" stroke-width="0.9"/>
<line x1="547.4" y1="528.5" x2="549.9" y2="528.5" stroke="#555" stroke-width="0.9"/>
<text x="549.9" y="541" font-size="10" fill="#2a2a2a" color="#2a2a2a" text-anchor="middle">0</text>
<text x="545.9" y="532.1" font-size="10" fill="#2a2a2a" color="#2a2a2a" text-anchor="end">0</text>
<line x1="579.5" y1="528.5" x2="579.5" y2="531" stroke="#555" stroke-width="0.9"/>
<line x1="547.4" y1="498.9" x2="549.9" y2="498.9" stroke="#555" stroke-width="0.9"/>
<text x="579.5" y="541" font-size="10" fill="#2a2a2a" color="#2a2a2a" text-anchor="middle">1</text>
<text x="545.9" y="502.5" font-size="10" fill="#2a2a2a" color="#2a2a2a" text-anchor="end">1</text>
<line x1="609.1" y1="528.5" x2="609.1" y2="531" stroke="#555" stroke-width="0.9"/>
<line x1="547.4" y1="469.3" x2="549.9" y2="469.3" stroke="#555" stroke-width="0.9"/>
<text x="609.1" y="541" font-size="10" fill="#2a2a2a" color="#2a2a2a" text-anchor="middle">2</text>
<text x="545.9" y="472.9" font-size="10" fill="#2a2a2a" color="#2a2a2a" text-anchor="end">2</text>
<line x1="638.7" y1="528.5" x2="638.7" y2="531" stroke="#555" stroke-width="0.9"/>
<line x1="547.4" y1="439.7" x2="549.9" y2="439.7" stroke="#555" stroke-width="0.9"/>
<text x="638.7" y="541" font-size="10" fill="#2a2a2a" color="#2a2a2a" text-anchor="middle">3</text>
<text x="545.9" y="443.3" font-size="10" fill="#2a2a2a" color="#2a2a2a" text-anchor="end">3</text>
<line x1="668.3" y1="528.5" x2="668.3" y2="531" stroke="#555" stroke-width="0.9"/>
<line x1="547.4" y1="410.1" x2="549.9" y2="410.1" stroke="#555" stroke-width="0.9"/>
<text x="668.3" y="541" font-size="10" fill="#2a2a2a" color="#2a2a2a" text-anchor="middle">4</text>
<text x="545.9" y="413.7" font-size="10" fill="#2a2a2a" color="#2a2a2a" text-anchor="end">4</text>
<line x1="697.9" y1="528.5" x2="697.9" y2="531" stroke="#555" stroke-width="0.9"/>
<line x1="547.4" y1="380.5" x2="549.9" y2="380.5" stroke="#555" stroke-width="0.9"/>
<text x="697.9" y="541" font-size="10" fill="#2a2a2a" color="#2a2a2a" text-anchor="middle">5</text>
<text x="545.9" y="384.1" font-size="10" fill="#2a2a2a" color="#2a2a2a" text-anchor="end">5</text>
<text x="623.9" y="556.5" font-size="10" fill="#222" color="#222" text-anchor="middle">Distance (µm)</text>
<text x="536.4" y="454.5" font-size="10" fill="#222" color="#222" text-anchor="middle" transform="rotate(-90 536.4 454.5)">Distance (µm)</text>
<text class="b" x="554.9" y="396.3" font-size="11.4" fill="#111" color="#111" text-anchor="start">Pristine</text>
<rect x="712.7" y="380.5" width="10.5" height="148" fill="url(#cbg)" stroke="#333" stroke-width="0.9"/>
<line x1="718" y1="378" x2="718" y2="380.5" stroke="#333" stroke-width="0.8"/>
<line x1="718" y1="528.5" x2="718" y2="531" stroke="#333" stroke-width="0.8"/>
<text x="718" y="374.2" font-size="9" fill="#222" color="#222" text-anchor="middle">2500</text>
<text x="718" y="541.8" font-size="9" fill="#222" color="#222" text-anchor="middle">500</text>
<text x="736.2" y="454.5" font-size="10.4" fill="#222" color="#222" text-anchor="middle" transform="rotate(-90 736.2 454.5)">PL intensity (a.u.)</text>
<text class="b" x="520.8" y="381.3" font-size="21" fill="#111" color="#111" text-anchor="start">e</text>
<g clip-path="url(#chmf)"><g filter="url(#hblur)">
<rect x="790.4" y="370.6" width="160" height="5.5" fill="url(#hmf_0)"/>
<rect x="790.4" y="375.6" width="160" height="5.5" fill="url(#hmf_1)"/>
<rect x="790.4" y="380.5" width="160" height="5.5" fill="url(#hmf_2)"/>
<rect x="790.4" y="385.4" width="160" height="5.5" fill="url(#hmf_3)"/>
<rect x="790.4" y="390.4" width="160" height="5.5" fill="url(#hmf_4)"/>
<rect x="790.4" y="395.3" width="160" height="5.5" fill="url(#hmf_5)"/>
<rect x="790.4" y="400.2" width="160" height="5.5" fill="url(#hmf_6)"/>
<rect x="790.4" y="405.2" width="160" height="5.5" fill="url(#hmf_7)"/>
<rect x="790.4" y="410.1" width="160" height="5.5" fill="url(#hmf_8)"/>
<rect x="790.4" y="415" width="160" height="5.5" fill="url(#hmf_9)"/>
<rect x="790.4" y="420" width="160" height="5.5" fill="url(#hmf_10)"/>
<rect x="790.4" y="424.9" width="160" height="5.5" fill="url(#hmf_11)"/>
<rect x="790.4" y="429.8" width="160" height="5.5" fill="url(#hmf_12)"/>
<rect x="790.4" y="434.8" width="160" height="5.5" fill="url(#hmf_13)"/>
<rect x="790.4" y="439.7" width="160" height="5.5" fill="url(#hmf_14)"/>
<rect x="790.4" y="444.6" width="160" height="5.5" fill="url(#hmf_15)"/>
<rect x="790.4" y="449.6" width="160" height="5.5" fill="url(#hmf_16)"/>
<rect x="790.4" y="454.5" width="160" height="5.5" fill="url(#hmf_17)"/>
<rect x="790.4" y="459.4" width="160" height="5.5" fill="url(#hmf_18)"/>
<rect x="790.4" y="464.4" width="160" height="5.5" fill="url(#hmf_19)"/>
<rect x="790.4" y="469.3" width="160" height="5.5" fill="url(#hmf_20)"/>
<rect x="790.4" y="474.2" width="160" height="5.5" fill="url(#hmf_21)"/>
<rect x="790.4" y="479.2" width="160" height="5.5" fill="url(#hmf_22)"/>
<rect x="790.4" y="484.1" width="160" height="5.5" fill="url(#hmf_23)"/>
<rect x="790.4" y="489" width="160" height="5.5" fill="url(#hmf_24)"/>
<rect x="790.4" y="494" width="160" height="5.5" fill="url(#hmf_25)"/>
<rect x="790.4" y="498.9" width="160" height="5.5" fill="url(#hmf_26)"/>
<rect x="790.4" y="503.8" width="160" height="5.5" fill="url(#hmf_27)"/>
<rect x="790.4" y="508.8" width="160" height="5.5" fill="url(#hmf_28)"/>
<rect x="790.4" y="513.7" width="160" height="5.5" fill="url(#hmf_29)"/>
<rect x="790.4" y="518.6" width="160" height="5.5" fill="url(#hmf_30)"/>
<rect x="790.4" y="523.6" width="160" height="5.5" fill="url(#hmf_31)"/>
<rect x="790.4" y="528.5" width="160" height="5.5" fill="url(#hmf_32)"/>
<rect x="790.4" y="533.4" width="160" height="5.5" fill="url(#hmf_33)"/>
</g></g>
<line x1="794.4" y1="380.5" x2="944.4" y2="380.5" stroke="#b4aca6" stroke-width="0.8"/>
<line x1="796.4" y1="380.5" x2="796.4" y2="529" stroke="#2a2a2a" stroke-width="1.1"/>
<line x1="796.4" y1="528.5" x2="944.4" y2="528.5" stroke="#5a5050" stroke-width="0.8" stroke-opacity="0.8"/>
<line x1="796.4" y1="528.5" x2="796.4" y2="531" stroke="#555" stroke-width="0.9"/>
<line x1="793.9" y1="528.5" x2="796.4" y2="528.5" stroke="#555" stroke-width="0.9"/>
<text x="796.4" y="541" font-size="10" fill="#2a2a2a" color="#2a2a2a" text-anchor="middle">0</text>
<text x="792.4" y="532.1" font-size="10" fill="#2a2a2a" color="#2a2a2a" text-anchor="end">0</text>
<line x1="826" y1="528.5" x2="826" y2="531" stroke="#555" stroke-width="0.9"/>
<line x1="793.9" y1="498.9" x2="796.4" y2="498.9" stroke="#555" stroke-width="0.9"/>
<text x="826" y="541" font-size="10" fill="#2a2a2a" color="#2a2a2a" text-anchor="middle">1</text>
<text x="792.4" y="502.5" font-size="10" fill="#2a2a2a" color="#2a2a2a" text-anchor="end">1</text>
<line x1="855.6" y1="528.5" x2="855.6" y2="531" stroke="#555" stroke-width="0.9"/>
<line x1="793.9" y1="469.3" x2="796.4" y2="469.3" stroke="#555" stroke-width="0.9"/>
<text x="855.6" y="541" font-size="10" fill="#2a2a2a" color="#2a2a2a" text-anchor="middle">2</text>
<text x="792.4" y="472.9" font-size="10" fill="#2a2a2a" color="#2a2a2a" text-anchor="end">2</text>
<line x1="885.2" y1="528.5" x2="885.2" y2="531" stroke="#555" stroke-width="0.9"/>
<line x1="793.9" y1="439.7" x2="796.4" y2="439.7" stroke="#555" stroke-width="0.9"/>
<text x="885.2" y="541" font-size="10" fill="#2a2a2a" color="#2a2a2a" text-anchor="middle">3</text>
<text x="792.4" y="443.3" font-size="10" fill="#2a2a2a" color="#2a2a2a" text-anchor="end">3</text>
<line x1="914.8" y1="528.5" x2="914.8" y2="531" stroke="#555" stroke-width="0.9"/>
<line x1="793.9" y1="410.1" x2="796.4" y2="410.1" stroke="#555" stroke-width="0.9"/>
<text x="914.8" y="541" font-size="10" fill="#2a2a2a" color="#2a2a2a" text-anchor="middle">4</text>
<text x="792.4" y="413.7" font-size="10" fill="#2a2a2a" color="#2a2a2a" text-anchor="end">4</text>
<line x1="944.4" y1="528.5" x2="944.4" y2="531" stroke="#555" stroke-width="0.9"/>
<line x1="793.9" y1="380.5" x2="796.4" y2="380.5" stroke="#555" stroke-width="0.9"/>
<text x="944.4" y="541" font-size="10" fill="#2a2a2a" color="#2a2a2a" text-anchor="middle">5</text>
<text x="792.4" y="384.1" font-size="10" fill="#2a2a2a" color="#2a2a2a" text-anchor="end">5</text>
<text x="870.4" y="556.5" font-size="10" fill="#222" color="#222" text-anchor="middle">Distance (µm)</text>
<text x="782.9" y="454.5" font-size="10" fill="#222" color="#222" text-anchor="middle" transform="rotate(-90 782.9 454.5)">Distance (µm)</text>
<text class="b" x="801.4" y="396.3" font-size="11.4" fill="#111" color="#111" text-anchor="start">Pristine</text>
<rect x="959.7" y="380.5" width="10.5" height="148" fill="url(#cbg)" stroke="#333" stroke-width="0.9"/>
<line x1="965" y1="378" x2="965" y2="380.5" stroke="#333" stroke-width="0.8"/>
<line x1="965" y1="528.5" x2="965" y2="531" stroke="#333" stroke-width="0.8"/>
<text x="965" y="374.2" font-size="9" fill="#222" color="#222" text-anchor="middle">2500</text>
<text x="965" y="541.8" font-size="9" fill="#222" color="#222" text-anchor="middle">500</text>
<text x="983.2" y="454.5" font-size="10.4" fill="#222" color="#222" text-anchor="middle" transform="rotate(-90 983.2 454.5)">PL intensity (a.u.)</text>
<text class="b" x="765.2" y="380.8" font-size="21" fill="#111" color="#111" text-anchor="start">f</text>
<g clip-path="url(#chmi)"><g filter="url(#hblur)">
<rect x="52.5" y="923.3" width="160" height="5.5" fill="url(#hmi_0)"/>
<rect x="52.5" y="928.3" width="160" height="5.5" fill="url(#hmi_1)"/>
<rect x="52.5" y="933.2" width="160" height="5.5" fill="url(#hmi_2)"/>
<rect x="52.5" y="938.1" width="160" height="5.5" fill="url(#hmi_3)"/>
<rect x="52.5" y="943.1" width="160" height="5.5" fill="url(#hmi_4)"/>
<rect x="52.5" y="948" width="160" height="5.5" fill="url(#hmi_5)"/>
<rect x="52.5" y="952.9" width="160" height="5.5" fill="url(#hmi_6)"/>
<rect x="52.5" y="957.9" width="160" height="5.5" fill="url(#hmi_7)"/>
<rect x="52.5" y="962.8" width="160" height="5.5" fill="url(#hmi_8)"/>
<rect x="52.5" y="967.7" width="160" height="5.5" fill="url(#hmi_9)"/>
<rect x="52.5" y="972.7" width="160" height="5.5" fill="url(#hmi_10)"/>
<rect x="52.5" y="977.6" width="160" height="5.5" fill="url(#hmi_11)"/>
<rect x="52.5" y="982.5" width="160" height="5.5" fill="url(#hmi_12)"/>
<rect x="52.5" y="987.5" width="160" height="5.5" fill="url(#hmi_13)"/>
<rect x="52.5" y="992.4" width="160" height="5.5" fill="url(#hmi_14)"/>
<rect x="52.5" y="997.3" width="160" height="5.5" fill="url(#hmi_15)"/>
<rect x="52.5" y="1002.3" width="160" height="5.5" fill="url(#hmi_16)"/>
<rect x="52.5" y="1007.2" width="160" height="5.5" fill="url(#hmi_17)"/>
<rect x="52.5" y="1012.1" width="160" height="5.5" fill="url(#hmi_18)"/>
<rect x="52.5" y="1017.1" width="160" height="5.5" fill="url(#hmi_19)"/>
<rect x="52.5" y="1022" width="160" height="5.5" fill="url(#hmi_20)"/>
<rect x="52.5" y="1026.9" width="160" height="5.5" fill="url(#hmi_21)"/>
<rect x="52.5" y="1031.9" width="160" height="5.5" fill="url(#hmi_22)"/>
<rect x="52.5" y="1036.8" width="160" height="5.5" fill="url(#hmi_23)"/>
<rect x="52.5" y="1041.7" width="160" height="5.5" fill="url(#hmi_24)"/>
<rect x="52.5" y="1046.7" width="160" height="5.5" fill="url(#hmi_25)"/>
<rect x="52.5" y="1051.6" width="160" height="5.5" fill="url(#hmi_26)"/>
<rect x="52.5" y="1056.5" width="160" height="5.5" fill="url(#hmi_27)"/>
<rect x="52.5" y="1061.5" width="160" height="5.5" fill="url(#hmi_28)"/>
<rect x="52.5" y="1066.4" width="160" height="5.5" fill="url(#hmi_29)"/>
<rect x="52.5" y="1071.3" width="160" height="5.5" fill="url(#hmi_30)"/>
<rect x="52.5" y="1076.3" width="160" height="5.5" fill="url(#hmi_31)"/>
<rect x="52.5" y="1081.2" width="160" height="5.5" fill="url(#hmi_32)"/>
<rect x="52.5" y="1086.1" width="160" height="5.5" fill="url(#hmi_33)"/>
</g></g>
<line x1="58.5" y1="933.2" x2="58.5" y2="1081.2" stroke="#bdb8b4" stroke-width="0.9"/>
<line x1="56" y1="933.2" x2="206.5" y2="933.2" stroke="#7d736c" stroke-width="1.2"/>
<line x1="58.5" y1="1081.2" x2="206.5" y2="1081.2" stroke="#7a665e" stroke-width="1"/>
<line x1="58.5" y1="1081.2" x2="58.5" y2="1083.7" stroke="#aaa" stroke-width="0.9"/>
<line x1="56" y1="1081.2" x2="58.5" y2="1081.2" stroke="#aaa" stroke-width="0.9"/>
<text x="58.5" y="1093.7" font-size="10" fill="#2a2a2a" color="#2a2a2a" text-anchor="middle">0</text>
<text x="54.5" y="1084.8" font-size="10" fill="#2a2a2a" color="#2a2a2a" text-anchor="end">0</text>
<line x1="88.1" y1="1081.2" x2="88.1" y2="1083.7" stroke="#aaa" stroke-width="0.9"/>
<line x1="56" y1="1051.6" x2="58.5" y2="1051.6" stroke="#aaa" stroke-width="0.9"/>
<text x="88.1" y="1093.7" font-size="10" fill="#2a2a2a" color="#2a2a2a" text-anchor="middle">1</text>
<text x="54.5" y="1055.2" font-size="10" fill="#2a2a2a" color="#2a2a2a" text-anchor="end">1</text>
<line x1="117.7" y1="1081.2" x2="117.7" y2="1083.7" stroke="#aaa" stroke-width="0.9"/>
<line x1="56" y1="1022" x2="58.5" y2="1022" stroke="#aaa" stroke-width="0.9"/>
<text x="117.7" y="1093.7" font-size="10" fill="#2a2a2a" color="#2a2a2a" text-anchor="middle">2</text>
<text x="54.5" y="1025.6" font-size="10" fill="#2a2a2a" color="#2a2a2a" text-anchor="end">2</text>
<line x1="147.3" y1="1081.2" x2="147.3" y2="1083.7" stroke="#aaa" stroke-width="0.9"/>
<line x1="56" y1="992.4" x2="58.5" y2="992.4" stroke="#aaa" stroke-width="0.9"/>
<text x="147.3" y="1093.7" font-size="10" fill="#2a2a2a" color="#2a2a2a" text-anchor="middle">3</text>
<text x="54.5" y="996" font-size="10" fill="#2a2a2a" color="#2a2a2a" text-anchor="end">3</text>
<line x1="176.9" y1="1081.2" x2="176.9" y2="1083.7" stroke="#aaa" stroke-width="0.9"/>
<line x1="56" y1="962.8" x2="58.5" y2="962.8" stroke="#aaa" stroke-width="0.9"/>
<text x="176.9" y="1093.7" font-size="10" fill="#2a2a2a" color="#2a2a2a" text-anchor="middle">4</text>
<text x="54.5" y="966.4" font-size="10" fill="#2a2a2a" color="#2a2a2a" text-anchor="end">4</text>
<line x1="206.5" y1="1081.2" x2="206.5" y2="1083.7" stroke="#aaa" stroke-width="0.9"/>
<line x1="56" y1="933.2" x2="58.5" y2="933.2" stroke="#aaa" stroke-width="0.9"/>
<text x="206.5" y="1093.7" font-size="10" fill="#2a2a2a" color="#2a2a2a" text-anchor="middle">5</text>
<text x="54.5" y="936.8" font-size="10" fill="#2a2a2a" color="#2a2a2a" text-anchor="end">5</text>
<text x="132.5" y="1109.2" font-size="10" fill="#222" color="#222" text-anchor="middle">Distance (µm)</text>
<text x="45" y="1007.2" font-size="10" fill="#222" color="#222" text-anchor="middle" transform="rotate(-90 45 1007.2)">Distance (µm)</text>
<text class="b" x="63.5" y="949" font-size="11.4" fill="#111" color="#111" text-anchor="start">With DHHB</text>
<rect x="219.7" y="934.5" width="10.5" height="146.7" fill="url(#cbg)" stroke="#333" stroke-width="0.9"/>
<line x1="224.9" y1="932" x2="224.9" y2="934.5" stroke="#333" stroke-width="0.8"/>
<line x1="224.9" y1="1081.2" x2="224.9" y2="1083.7" stroke="#333" stroke-width="0.8"/>
<text x="224.9" y="928.2" font-size="9" fill="#222" color="#222" text-anchor="middle">5000</text>
<text x="224.9" y="1094.5" font-size="9" fill="#222" color="#222" text-anchor="middle">3000</text>
<text x="243.2" y="1007.2" font-size="10.4" fill="#222" color="#222" text-anchor="middle" transform="rotate(-90 243.2 1007.2)">PL intensity (a.u.)</text>
<text class="b" x="33.7" y="929.5" font-size="21" fill="#111" color="#111" text-anchor="start">i</text>
<g clip-path="url(#chmj)"><g filter="url(#hblur)">
<rect x="294.2" y="923.1" width="160" height="5.5" fill="url(#hmj_0)"/>
<rect x="294.2" y="928.1" width="160" height="5.5" fill="url(#hmj_1)"/>
<rect x="294.2" y="933" width="160" height="5.5" fill="url(#hmj_2)"/>
<rect x="294.2" y="937.9" width="160" height="5.5" fill="url(#hmj_3)"/>
<rect x="294.2" y="942.9" width="160" height="5.5" fill="url(#hmj_4)"/>
<rect x="294.2" y="947.8" width="160" height="5.5" fill="url(#hmj_5)"/>
<rect x="294.2" y="952.7" width="160" height="5.5" fill="url(#hmj_6)"/>
<rect x="294.2" y="957.7" width="160" height="5.5" fill="url(#hmj_7)"/>
<rect x="294.2" y="962.6" width="160" height="5.5" fill="url(#hmj_8)"/>
<rect x="294.2" y="967.5" width="160" height="5.5" fill="url(#hmj_9)"/>
<rect x="294.2" y="972.5" width="160" height="5.5" fill="url(#hmj_10)"/>
<rect x="294.2" y="977.4" width="160" height="5.5" fill="url(#hmj_11)"/>
<rect x="294.2" y="982.3" width="160" height="5.5" fill="url(#hmj_12)"/>
<rect x="294.2" y="987.3" width="160" height="5.5" fill="url(#hmj_13)"/>
<rect x="294.2" y="992.2" width="160" height="5.5" fill="url(#hmj_14)"/>
<rect x="294.2" y="997.1" width="160" height="5.5" fill="url(#hmj_15)"/>
<rect x="294.2" y="1002.1" width="160" height="5.5" fill="url(#hmj_16)"/>
<rect x="294.2" y="1007" width="160" height="5.5" fill="url(#hmj_17)"/>
<rect x="294.2" y="1011.9" width="160" height="5.5" fill="url(#hmj_18)"/>
<rect x="294.2" y="1016.9" width="160" height="5.5" fill="url(#hmj_19)"/>
<rect x="294.2" y="1021.8" width="160" height="5.5" fill="url(#hmj_20)"/>
<rect x="294.2" y="1026.7" width="160" height="5.5" fill="url(#hmj_21)"/>
<rect x="294.2" y="1031.7" width="160" height="5.5" fill="url(#hmj_22)"/>
<rect x="294.2" y="1036.6" width="160" height="5.5" fill="url(#hmj_23)"/>
<rect x="294.2" y="1041.5" width="160" height="5.5" fill="url(#hmj_24)"/>
<rect x="294.2" y="1046.5" width="160" height="5.5" fill="url(#hmj_25)"/>
<rect x="294.2" y="1051.4" width="160" height="5.5" fill="url(#hmj_26)"/>
<rect x="294.2" y="1056.3" width="160" height="5.5" fill="url(#hmj_27)"/>
<rect x="294.2" y="1061.3" width="160" height="5.5" fill="url(#hmj_28)"/>
<rect x="294.2" y="1066.2" width="160" height="5.5" fill="url(#hmj_29)"/>
<rect x="294.2" y="1071.1" width="160" height="5.5" fill="url(#hmj_30)"/>
<rect x="294.2" y="1076.1" width="160" height="5.5" fill="url(#hmj_31)"/>
<rect x="294.2" y="1081" width="160" height="5.5" fill="url(#hmj_32)"/>
<rect x="294.2" y="1085.9" width="160" height="5.5" fill="url(#hmj_33)"/>
</g></g>
<line x1="300.2" y1="933" x2="300.2" y2="1081" stroke="#bdb8b4" stroke-width="0.9"/>
<line x1="297.7" y1="933" x2="448.2" y2="933" stroke="#7d736c" stroke-width="1.2"/>
<line x1="300.2" y1="1081" x2="448.2" y2="1081" stroke="#7a665e" stroke-width="1"/>
<line x1="300.2" y1="1081" x2="300.2" y2="1083.5" stroke="#aaa" stroke-width="0.9"/>
<line x1="297.7" y1="1081" x2="300.2" y2="1081" stroke="#aaa" stroke-width="0.9"/>
<text x="300.2" y="1093.5" font-size="10" fill="#2a2a2a" color="#2a2a2a" text-anchor="middle">0</text>
<text x="296.2" y="1084.6" font-size="10" fill="#2a2a2a" color="#2a2a2a" text-anchor="end">0</text>
<line x1="329.8" y1="1081" x2="329.8" y2="1083.5" stroke="#aaa" stroke-width="0.9"/>
<line x1="297.7" y1="1051.4" x2="300.2" y2="1051.4" stroke="#aaa" stroke-width="0.9"/>
<text x="329.8" y="1093.5" font-size="10" fill="#2a2a2a" color="#2a2a2a" text-anchor="middle">1</text>
<text x="296.2" y="1055" font-size="10" fill="#2a2a2a" color="#2a2a2a" text-anchor="end">1</text>
<line x1="359.4" y1="1081" x2="359.4" y2="1083.5" stroke="#aaa" stroke-width="0.9"/>
<line x1="297.7" y1="1021.8" x2="300.2" y2="1021.8" stroke="#aaa" stroke-width="0.9"/>
<text x="359.4" y="1093.5" font-size="10" fill="#2a2a2a" color="#2a2a2a" text-anchor="middle">2</text>
<text x="296.2" y="1025.4" font-size="10" fill="#2a2a2a" color="#2a2a2a" text-anchor="end">2</text>
<line x1="389" y1="1081" x2="389" y2="1083.5" stroke="#aaa" stroke-width="0.9"/>
<line x1="297.7" y1="992.2" x2="300.2" y2="992.2" stroke="#aaa" stroke-width="0.9"/>
<text x="389" y="1093.5" font-size="10" fill="#2a2a2a" color="#2a2a2a" text-anchor="middle">3</text>
<text x="296.2" y="995.8" font-size="10" fill="#2a2a2a" color="#2a2a2a" text-anchor="end">3</text>
<line x1="418.6" y1="1081" x2="418.6" y2="1083.5" stroke="#aaa" stroke-width="0.9"/>
<line x1="297.7" y1="962.6" x2="300.2" y2="962.6" stroke="#aaa" stroke-width="0.9"/>
<text x="418.6" y="1093.5" font-size="10" fill="#2a2a2a" color="#2a2a2a" text-anchor="middle">4</text>
<text x="296.2" y="966.2" font-size="10" fill="#2a2a2a" color="#2a2a2a" text-anchor="end">4</text>
<line x1="448.2" y1="1081" x2="448.2" y2="1083.5" stroke="#aaa" stroke-width="0.9"/>
<line x1="297.7" y1="933" x2="300.2" y2="933" stroke="#aaa" stroke-width="0.9"/>
<text x="448.2" y="1093.5" font-size="10" fill="#2a2a2a" color="#2a2a2a" text-anchor="middle">5</text>
<text x="296.2" y="936.6" font-size="10" fill="#2a2a2a" color="#2a2a2a" text-anchor="end">5</text>
<text x="374.2" y="1109" font-size="10" fill="#222" color="#222" text-anchor="middle">Distance (µm)</text>
<text x="286.7" y="1007" font-size="10" fill="#222" color="#222" text-anchor="middle" transform="rotate(-90 286.7 1007)">Distance (µm)</text>
<text class="b" x="305.2" y="948.8" font-size="11.4" fill="#111" color="#111" text-anchor="start">With DHHB</text>
<rect x="463.7" y="933.5" width="10.5" height="147.5" fill="url(#cbg)" stroke="#333" stroke-width="0.9"/>
<line x1="468.9" y1="931" x2="468.9" y2="933.5" stroke="#333" stroke-width="0.8"/>
<line x1="468.9" y1="1081" x2="468.9" y2="1083.5" stroke="#333" stroke-width="0.8"/>
<text x="468.9" y="927.2" font-size="9" fill="#222" color="#222" text-anchor="middle">5000</text>
<text x="468.9" y="1094.3" font-size="9" fill="#222" color="#222" text-anchor="middle">3000</text>
<text x="487.2" y="1007" font-size="10.4" fill="#222" color="#222" text-anchor="middle" transform="rotate(-90 487.2 1007)">PL intensity (a.u.)</text>
<text class="b" x="271.7" y="929.5" font-size="21" fill="#111" color="#111" text-anchor="start">j</text>
<g clip-path="url(#chmk)"><g filter="url(#hblur)">
<rect x="541.3" y="923.3" width="160" height="5.5" fill="url(#hmk_0)"/>
<rect x="541.3" y="928.3" width="160" height="5.5" fill="url(#hmk_1)"/>
<rect x="541.3" y="933.2" width="160" height="5.5" fill="url(#hmk_2)"/>
<rect x="541.3" y="938.1" width="160" height="5.5" fill="url(#hmk_3)"/>
<rect x="541.3" y="943.1" width="160" height="5.5" fill="url(#hmk_4)"/>
<rect x="541.3" y="948" width="160" height="5.5" fill="url(#hmk_5)"/>
<rect x="541.3" y="952.9" width="160" height="5.5" fill="url(#hmk_6)"/>
<rect x="541.3" y="957.9" width="160" height="5.5" fill="url(#hmk_7)"/>
<rect x="541.3" y="962.8" width="160" height="5.5" fill="url(#hmk_8)"/>
<rect x="541.3" y="967.7" width="160" height="5.5" fill="url(#hmk_9)"/>
<rect x="541.3" y="972.7" width="160" height="5.5" fill="url(#hmk_10)"/>
<rect x="541.3" y="977.6" width="160" height="5.5" fill="url(#hmk_11)"/>
<rect x="541.3" y="982.5" width="160" height="5.5" fill="url(#hmk_12)"/>
<rect x="541.3" y="987.5" width="160" height="5.5" fill="url(#hmk_13)"/>
<rect x="541.3" y="992.4" width="160" height="5.5" fill="url(#hmk_14)"/>
<rect x="541.3" y="997.3" width="160" height="5.5" fill="url(#hmk_15)"/>
<rect x="541.3" y="1002.3" width="160" height="5.5" fill="url(#hmk_16)"/>
<rect x="541.3" y="1007.2" width="160" height="5.5" fill="url(#hmk_17)"/>
<rect x="541.3" y="1012.1" width="160" height="5.5" fill="url(#hmk_18)"/>
<rect x="541.3" y="1017.1" width="160" height="5.5" fill="url(#hmk_19)"/>
<rect x="541.3" y="1022" width="160" height="5.5" fill="url(#hmk_20)"/>
<rect x="541.3" y="1026.9" width="160" height="5.5" fill="url(#hmk_21)"/>
<rect x="541.3" y="1031.9" width="160" height="5.5" fill="url(#hmk_22)"/>
<rect x="541.3" y="1036.8" width="160" height="5.5" fill="url(#hmk_23)"/>
<rect x="541.3" y="1041.7" width="160" height="5.5" fill="url(#hmk_24)"/>
<rect x="541.3" y="1046.7" width="160" height="5.5" fill="url(#hmk_25)"/>
<rect x="541.3" y="1051.6" width="160" height="5.5" fill="url(#hmk_26)"/>
<rect x="541.3" y="1056.5" width="160" height="5.5" fill="url(#hmk_27)"/>
<rect x="541.3" y="1061.5" width="160" height="5.5" fill="url(#hmk_28)"/>
<rect x="541.3" y="1066.4" width="160" height="5.5" fill="url(#hmk_29)"/>
<rect x="541.3" y="1071.3" width="160" height="5.5" fill="url(#hmk_30)"/>
<rect x="541.3" y="1076.3" width="160" height="5.5" fill="url(#hmk_31)"/>
<rect x="541.3" y="1081.2" width="160" height="5.5" fill="url(#hmk_32)"/>
<rect x="541.3" y="1086.1" width="160" height="5.5" fill="url(#hmk_33)"/>
</g></g>
<line x1="547.3" y1="933.2" x2="547.3" y2="1081.2" stroke="#bdb8b4" stroke-width="0.9"/>
<line x1="544.8" y1="933.2" x2="695.3" y2="933.2" stroke="#7d736c" stroke-width="1.2"/>
<line x1="547.3" y1="1081.2" x2="695.3" y2="1081.2" stroke="#7a665e" stroke-width="1"/>
<line x1="547.3" y1="1081.2" x2="547.3" y2="1083.7" stroke="#aaa" stroke-width="0.9"/>
<line x1="544.8" y1="1081.2" x2="547.3" y2="1081.2" stroke="#aaa" stroke-width="0.9"/>
<text x="547.3" y="1093.7" font-size="10" fill="#2a2a2a" color="#2a2a2a" text-anchor="middle">0</text>
<text x="543.3" y="1084.8" font-size="10" fill="#2a2a2a" color="#2a2a2a" text-anchor="end">0</text>
<line x1="576.9" y1="1081.2" x2="576.9" y2="1083.7" stroke="#aaa" stroke-width="0.9"/>
<line x1="544.8" y1="1051.6" x2="547.3" y2="1051.6" stroke="#aaa" stroke-width="0.9"/>
<text x="576.9" y="1093.7" font-size="10" fill="#2a2a2a" color="#2a2a2a" text-anchor="middle">1</text>
<text x="543.3" y="1055.2" font-size="10" fill="#2a2a2a" color="#2a2a2a" text-anchor="end">1</text>
<line x1="606.5" y1="1081.2" x2="606.5" y2="1083.7" stroke="#aaa" stroke-width="0.9"/>
<line x1="544.8" y1="1022" x2="547.3" y2="1022" stroke="#aaa" stroke-width="0.9"/>
<text x="606.5" y="1093.7" font-size="10" fill="#2a2a2a" color="#2a2a2a" text-anchor="middle">2</text>
<text x="543.3" y="1025.6" font-size="10" fill="#2a2a2a" color="#2a2a2a" text-anchor="end">2</text>
<line x1="636.1" y1="1081.2" x2="636.1" y2="1083.7" stroke="#aaa" stroke-width="0.9"/>
<line x1="544.8" y1="992.4" x2="547.3" y2="992.4" stroke="#aaa" stroke-width="0.9"/>
<text x="636.1" y="1093.7" font-size="10" fill="#2a2a2a" color="#2a2a2a" text-anchor="middle">3</text>
<text x="543.3" y="996" font-size="10" fill="#2a2a2a" color="#2a2a2a" text-anchor="end">3</text>
<line x1="665.7" y1="1081.2" x2="665.7" y2="1083.7" stroke="#aaa" stroke-width="0.9"/>
<line x1="544.8" y1="962.8" x2="547.3" y2="962.8" stroke="#aaa" stroke-width="0.9"/>
<text x="665.7" y="1093.7" font-size="10" fill="#2a2a2a" color="#2a2a2a" text-anchor="middle">4</text>
<text x="543.3" y="966.4" font-size="10" fill="#2a2a2a" color="#2a2a2a" text-anchor="end">4</text>
<line x1="695.3" y1="1081.2" x2="695.3" y2="1083.7" stroke="#aaa" stroke-width="0.9"/>
<line x1="544.8" y1="933.2" x2="547.3" y2="933.2" stroke="#aaa" stroke-width="0.9"/>
<text x="695.3" y="1093.7" font-size="10" fill="#2a2a2a" color="#2a2a2a" text-anchor="middle">5</text>
<text x="543.3" y="936.8" font-size="10" fill="#2a2a2a" color="#2a2a2a" text-anchor="end">5</text>
<text x="621.3" y="1109.2" font-size="10" fill="#222" color="#222" text-anchor="middle">Distance (µm)</text>
<text x="533.8" y="1007.2" font-size="10" fill="#222" color="#222" text-anchor="middle" transform="rotate(-90 533.8 1007.2)">Distance (µm)</text>
<text class="b" x="552.3" y="949" font-size="11.4" fill="#111" color="#111" text-anchor="start">With DHHB</text>
<rect x="711.9" y="933.5" width="10.5" height="147.7" fill="url(#cbg)" stroke="#333" stroke-width="0.9"/>
<line x1="717.1" y1="931" x2="717.1" y2="933.5" stroke="#333" stroke-width="0.8"/>
<line x1="717.1" y1="1081.2" x2="717.1" y2="1083.7" stroke="#333" stroke-width="0.8"/>
<text x="717.1" y="927.2" font-size="9" fill="#222" color="#222" text-anchor="middle">5000</text>
<text x="717.1" y="1094.5" font-size="9" fill="#222" color="#222" text-anchor="middle">3000</text>
<text x="735.4" y="1007.2" font-size="10.4" fill="#222" color="#222" text-anchor="middle" transform="rotate(-90 735.4 1007.2)">PL intensity (a.u.)</text>
<text class="b" x="519" y="929.5" font-size="21" fill="#111" color="#111" text-anchor="start">k</text>
<g clip-path="url(#chml)"><g filter="url(#hblur)">
<rect x="789.6" y="923.1" width="160" height="5.5" fill="url(#hml_0)"/>
<rect x="789.6" y="928.1" width="160" height="5.5" fill="url(#hml_1)"/>
<rect x="789.6" y="933" width="160" height="5.5" fill="url(#hml_2)"/>
<rect x="789.6" y="937.9" width="160" height="5.5" fill="url(#hml_3)"/>
<rect x="789.6" y="942.9" width="160" height="5.5" fill="url(#hml_4)"/>
<rect x="789.6" y="947.8" width="160" height="5.5" fill="url(#hml_5)"/>
<rect x="789.6" y="952.7" width="160" height="5.5" fill="url(#hml_6)"/>
<rect x="789.6" y="957.7" width="160" height="5.5" fill="url(#hml_7)"/>
<rect x="789.6" y="962.6" width="160" height="5.5" fill="url(#hml_8)"/>
<rect x="789.6" y="967.5" width="160" height="5.5" fill="url(#hml_9)"/>
<rect x="789.6" y="972.5" width="160" height="5.5" fill="url(#hml_10)"/>
<rect x="789.6" y="977.4" width="160" height="5.5" fill="url(#hml_11)"/>
<rect x="789.6" y="982.3" width="160" height="5.5" fill="url(#hml_12)"/>
<rect x="789.6" y="987.3" width="160" height="5.5" fill="url(#hml_13)"/>
<rect x="789.6" y="992.2" width="160" height="5.5" fill="url(#hml_14)"/>
<rect x="789.6" y="997.1" width="160" height="5.5" fill="url(#hml_15)"/>
<rect x="789.6" y="1002.1" width="160" height="5.5" fill="url(#hml_16)"/>
<rect x="789.6" y="1007" width="160" height="5.5" fill="url(#hml_17)"/>
<rect x="789.6" y="1011.9" width="160" height="5.5" fill="url(#hml_18)"/>
<rect x="789.6" y="1016.9" width="160" height="5.5" fill="url(#hml_19)"/>
<rect x="789.6" y="1021.8" width="160" height="5.5" fill="url(#hml_20)"/>
<rect x="789.6" y="1026.7" width="160" height="5.5" fill="url(#hml_21)"/>
<rect x="789.6" y="1031.7" width="160" height="5.5" fill="url(#hml_22)"/>
<rect x="789.6" y="1036.6" width="160" height="5.5" fill="url(#hml_23)"/>
<rect x="789.6" y="1041.5" width="160" height="5.5" fill="url(#hml_24)"/>
<rect x="789.6" y="1046.5" width="160" height="5.5" fill="url(#hml_25)"/>
<rect x="789.6" y="1051.4" width="160" height="5.5" fill="url(#hml_26)"/>
<rect x="789.6" y="1056.3" width="160" height="5.5" fill="url(#hml_27)"/>
<rect x="789.6" y="1061.3" width="160" height="5.5" fill="url(#hml_28)"/>
<rect x="789.6" y="1066.2" width="160" height="5.5" fill="url(#hml_29)"/>
<rect x="789.6" y="1071.1" width="160" height="5.5" fill="url(#hml_30)"/>
<rect x="789.6" y="1076.1" width="160" height="5.5" fill="url(#hml_31)"/>
<rect x="789.6" y="1081" width="160" height="5.5" fill="url(#hml_32)"/>
<rect x="789.6" y="1085.9" width="160" height="5.5" fill="url(#hml_33)"/>
</g></g>
<line x1="795.6" y1="933" x2="795.6" y2="1081" stroke="#bdb8b4" stroke-width="0.9"/>
<line x1="793.1" y1="933" x2="943.6" y2="933" stroke="#7d736c" stroke-width="1.2"/>
<line x1="795.6" y1="1081" x2="943.6" y2="1081" stroke="#7a665e" stroke-width="1"/>
<line x1="795.6" y1="1081" x2="795.6" y2="1083.5" stroke="#aaa" stroke-width="0.9"/>
<line x1="793.1" y1="1081" x2="795.6" y2="1081" stroke="#aaa" stroke-width="0.9"/>
<text x="795.6" y="1093.5" font-size="10" fill="#2a2a2a" color="#2a2a2a" text-anchor="middle">0</text>
<text x="791.6" y="1084.6" font-size="10" fill="#2a2a2a" color="#2a2a2a" text-anchor="end">0</text>
<line x1="825.2" y1="1081" x2="825.2" y2="1083.5" stroke="#aaa" stroke-width="0.9"/>
<line x1="793.1" y1="1051.4" x2="795.6" y2="1051.4" stroke="#aaa" stroke-width="0.9"/>
<text x="825.2" y="1093.5" font-size="10" fill="#2a2a2a" color="#2a2a2a" text-anchor="middle">1</text>
<text x="791.6" y="1055" font-size="10" fill="#2a2a2a" color="#2a2a2a" text-anchor="end">1</text>
<line x1="854.8" y1="1081" x2="854.8" y2="1083.5" stroke="#aaa" stroke-width="0.9"/>
<line x1="793.1" y1="1021.8" x2="795.6" y2="1021.8" stroke="#aaa" stroke-width="0.9"/>
<text x="854.8" y="1093.5" font-size="10" fill="#2a2a2a" color="#2a2a2a" text-anchor="middle">2</text>
<text x="791.6" y="1025.4" font-size="10" fill="#2a2a2a" color="#2a2a2a" text-anchor="end">2</text>
<line x1="884.4" y1="1081" x2="884.4" y2="1083.5" stroke="#aaa" stroke-width="0.9"/>
<line x1="793.1" y1="992.2" x2="795.6" y2="992.2" stroke="#aaa" stroke-width="0.9"/>
<text x="884.4" y="1093.5" font-size="10" fill="#2a2a2a" color="#2a2a2a" text-anchor="middle">3</text>
<text x="791.6" y="995.8" font-size="10" fill="#2a2a2a" color="#2a2a2a" text-anchor="end">3</text>
<line x1="914" y1="1081" x2="914" y2="1083.5" stroke="#aaa" stroke-width="0.9"/>
<line x1="793.1" y1="962.6" x2="795.6" y2="962.6" stroke="#aaa" stroke-width="0.9"/>
<text x="914" y="1093.5" font-size="10" fill="#2a2a2a" color="#2a2a2a" text-anchor="middle">4</text>
<text x="791.6" y="966.2" font-size="10" fill="#2a2a2a" color="#2a2a2a" text-anchor="end">4</text>
<line x1="943.6" y1="1081" x2="943.6" y2="1083.5" stroke="#aaa" stroke-width="0.9"/>
<line x1="793.1" y1="933" x2="795.6" y2="933" stroke="#aaa" stroke-width="0.9"/>
<text x="943.6" y="1093.5" font-size="10" fill="#2a2a2a" color="#2a2a2a" text-anchor="middle">5</text>
<text x="791.6" y="936.6" font-size="10" fill="#2a2a2a" color="#2a2a2a" text-anchor="end">5</text>
<text x="869.6" y="1109" font-size="10" fill="#222" color="#222" text-anchor="middle">Distance (µm)</text>
<text x="782.1" y="1007" font-size="10" fill="#222" color="#222" text-anchor="middle" transform="rotate(-90 782.1 1007)">Distance (µm)</text>
<text class="b" x="800.6" y="948.8" font-size="11.4" fill="#111" color="#111" text-anchor="start">With DHHB</text>
<rect x="960.5" y="933.5" width="10.5" height="147.5" fill="url(#cbg)" stroke="#333" stroke-width="0.9"/>
<line x1="965.8" y1="931" x2="965.8" y2="933.5" stroke="#333" stroke-width="0.8"/>
<line x1="965.8" y1="1081" x2="965.8" y2="1083.5" stroke="#333" stroke-width="0.8"/>
<text x="965.8" y="927.2" font-size="9" fill="#222" color="#222" text-anchor="middle">5000</text>
<text x="965.8" y="1094.3" font-size="9" fill="#222" color="#222" text-anchor="middle">3000</text>
<text x="984" y="1007" font-size="10.4" fill="#222" color="#222" text-anchor="middle" transform="rotate(-90 984 1007)">PL intensity (a.u.)</text>
<text class="b" x="766.2" y="929.5" font-size="21" fill="#111" color="#111" text-anchor="start">l</text>
</svg>
</body></html>
